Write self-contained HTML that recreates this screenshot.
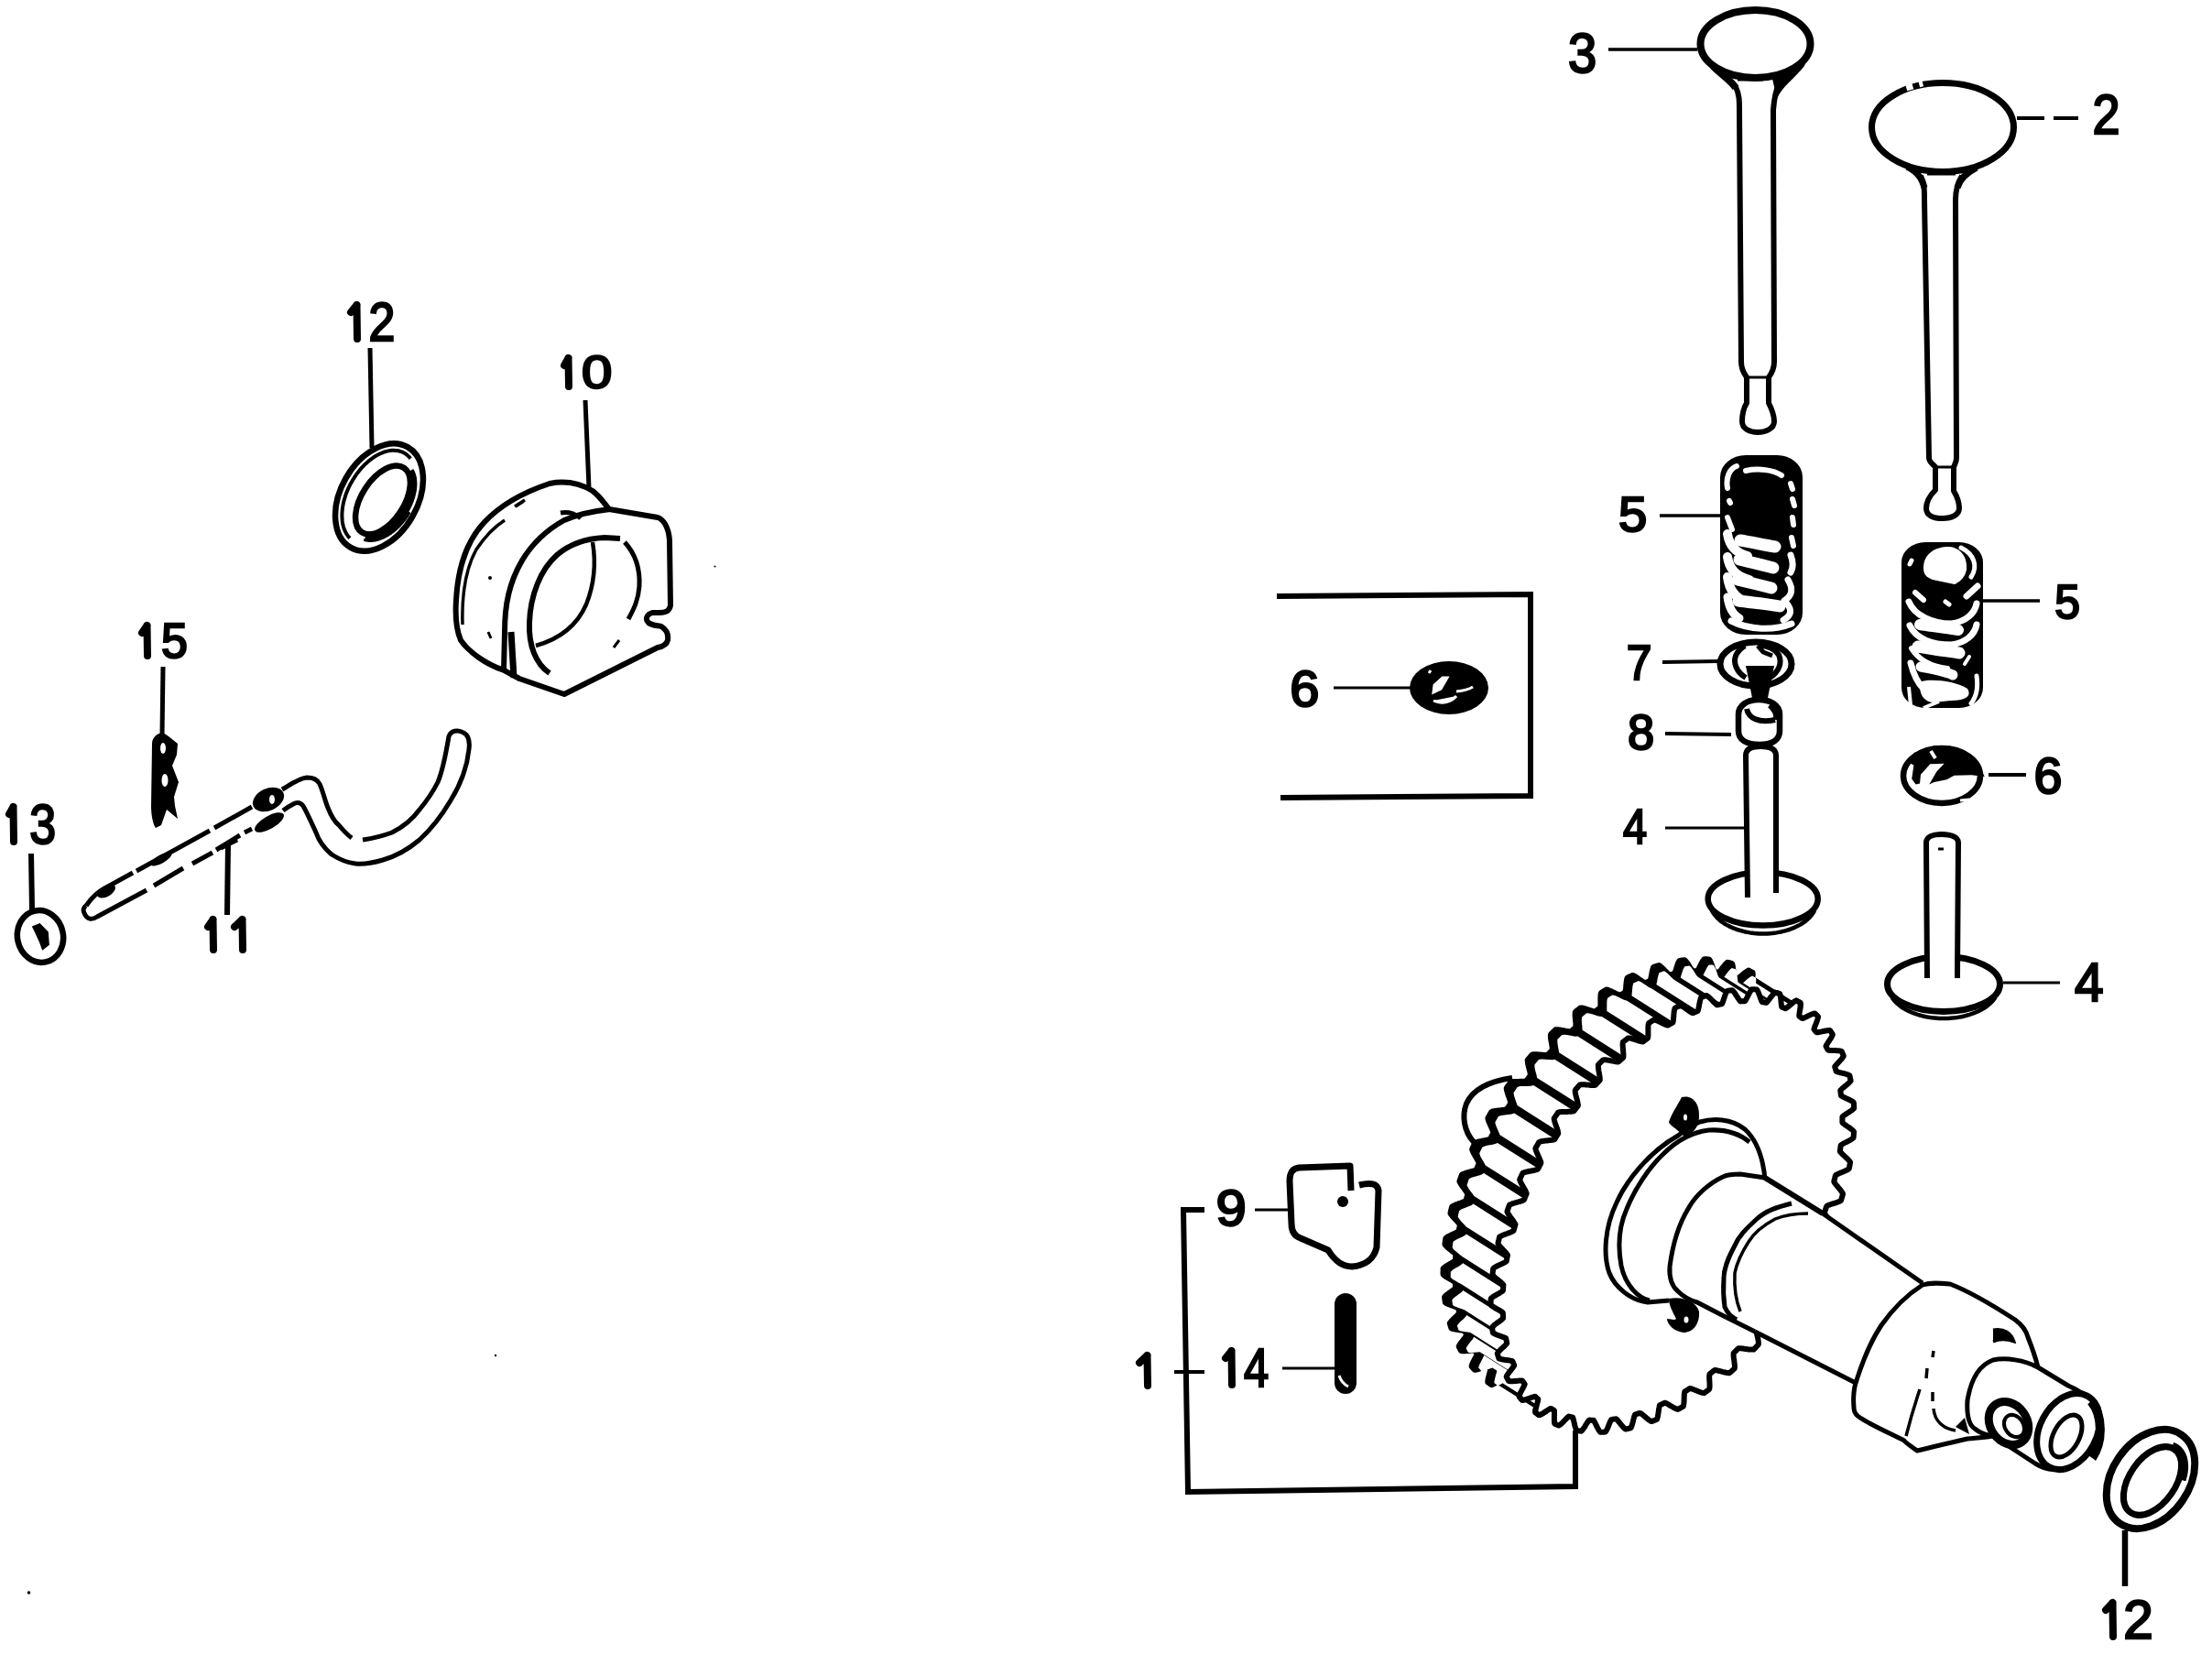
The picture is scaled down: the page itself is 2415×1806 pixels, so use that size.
<!DOCTYPE html>
<html><head><meta charset="utf-8"><style>
html,body{margin:0;padding:0;background:#fff;overflow:hidden}
svg{display:block}
text{font-family:"Liberation Sans",sans-serif;font-weight:normal;fill:#000;stroke:#000;stroke-width:2.4px}
</style></head><body>
<svg width="2415" height="1806" viewBox="0 0 2415 1806">
<rect width="2415" height="1806" fill="#fff"/>
<path d="M1635.3 1508.4 L1634.6 1508.8 L1633.9 1509.3 L1633.3 1509.7 L1632.6 1510.1 L1631.9 1510.5 L1631.3 1510.8 L1630.6 1511.2 L1630.0 1511.5 L1629.4 1511.7 L1628.8 1512.0 L1628.3 1512.1 L1628.0 1511.9 L1627.7 1511.7 L1627.5 1511.5 L1627.2 1511.3 L1626.9 1511.1 L1626.6 1510.9 L1626.3 1510.7 L1626.0 1510.5 L1625.7 1510.2 L1625.5 1510.0 L1625.2 1509.8 L1624.9 1509.6 L1624.6 1509.4 L1624.3 1509.2 L1624.3 1508.7 L1624.3 1508.1 L1624.4 1507.4 L1624.5 1506.7 L1624.6 1506.0 L1624.7 1505.3 L1624.9 1504.6 L1625.1 1503.8 L1625.3 1503.0 L1625.5 1502.2 L1625.7 1501.5 L1625.9 1500.7 L1626.1 1499.9 L1626.3 1499.2 L1626.5 1498.5 L1626.7 1497.8 L1626.9 1497.1 L1627.0 1496.4 L1627.2 1495.8 L1627.3 1495.2 L1627.3 1494.8 L1627.0 1494.5 L1626.8 1494.3 L1626.6 1494.1 L1626.3 1493.9 L1626.1 1493.7 L1625.9 1493.5 L1625.7 1493.3 L1625.4 1493.1 L1625.2 1492.9 L1625.0 1492.7 L1624.7 1492.4 L1624.5 1492.2 L1624.3 1492.0 L1624.1 1491.8 L1623.5 1491.9 L1623.0 1492.0 L1622.4 1492.2 L1621.7 1492.4 L1621.0 1492.6 L1620.3 1492.8 L1619.6 1493.1 L1618.9 1493.4 L1618.1 1493.6 L1617.4 1493.9 L1616.6 1494.1 L1615.9 1494.4 L1615.1 1494.6 L1614.3 1494.9 L1613.6 1495.1 L1612.9 1495.3 L1612.2 1495.4 L1611.5 1495.6 L1610.9 1495.7 L1610.3 1495.7 L1609.8 1495.7 L1609.6 1495.4 L1609.3 1495.1 L1609.1 1494.9 L1608.9 1494.6 L1608.6 1494.3 L1608.4 1494.0 L1608.2 1493.8 L1607.9 1493.5 L1607.7 1493.2 L1607.5 1492.9 L1607.2 1492.7 L1607.0 1492.4 L1606.8 1492.1 L1606.6 1491.8 L1606.7 1491.2 L1606.9 1490.6 L1607.1 1490.0 L1607.4 1489.4 L1607.6 1488.7 L1607.9 1488.0 L1608.3 1487.3 L1608.6 1486.6 L1609.0 1485.9 L1609.4 1485.2 L1609.7 1484.4 L1610.1 1483.7 L1610.5 1483.0 L1610.8 1482.4 L1611.2 1481.7 L1611.5 1481.0 L1611.8 1480.4 L1612.1 1479.8 L1612.3 1479.2 L1612.6 1478.7 L1612.6 1478.3 L1612.4 1478.0 L1612.2 1477.7 L1612.0 1477.5 L1611.8 1477.2 L1611.6 1476.9 L1611.5 1476.6 L1611.3 1476.4 L1611.1 1476.1 L1610.9 1475.8 L1610.7 1475.6 L1610.6 1475.3 L1610.4 1475.0 L1610.2 1474.7 L1610.0 1474.5 L1609.4 1474.5 L1608.8 1474.5 L1608.1 1474.5 L1607.4 1474.5 L1606.7 1474.6 L1605.9 1474.6 L1605.2 1474.7 L1604.4 1474.8 L1603.6 1474.9 L1602.8 1474.9 L1602.0 1475.0 L1601.2 1475.1 L1600.4 1475.1 L1599.6 1475.2 L1598.8 1475.2 L1598.1 1475.2 L1597.4 1475.2 L1596.7 1475.2 L1596.0 1475.1 L1595.4 1475.0 L1595.1 1474.8 L1594.9 1474.4 L1594.7 1474.1 L1594.5 1473.8 L1594.3 1473.5 L1594.2 1473.1 L1594.0 1472.8 L1593.8 1472.5 L1593.6 1472.1 L1593.5 1471.8 L1593.3 1471.5 L1593.1 1471.1 L1592.9 1470.8 L1592.8 1470.4 L1592.7 1470.0 L1593.0 1469.5 L1593.3 1468.9 L1593.6 1468.3 L1594.0 1467.7 L1594.4 1467.1 L1594.8 1466.5 L1595.3 1465.8 L1595.8 1465.2 L1596.3 1464.6 L1596.8 1463.9 L1597.3 1463.3 L1597.8 1462.7 L1598.3 1462.0 L1598.8 1461.4 L1599.3 1460.8 L1599.7 1460.2 L1600.1 1459.6 L1600.5 1459.1 L1600.8 1458.6 L1601.1 1458.0 L1601.1 1457.7 L1601.0 1457.3 L1600.8 1457.0 L1600.7 1456.7 L1600.6 1456.4 L1600.4 1456.1 L1600.3 1455.7 L1600.2 1455.4 L1600.0 1455.1 L1599.9 1454.7 L1599.8 1454.4 L1599.6 1454.1 L1599.5 1453.8 L1599.4 1453.4 L1599.1 1453.2 L1598.5 1453.0 L1597.9 1452.9 L1597.2 1452.7 L1596.5 1452.6 L1595.8 1452.5 L1595.0 1452.4 L1594.2 1452.3 L1593.4 1452.2 L1592.6 1452.1 L1591.8 1451.9 L1591.0 1451.8 L1590.2 1451.7 L1589.4 1451.6 L1588.6 1451.4 L1587.8 1451.3 L1587.1 1451.1 L1586.4 1451.0 L1585.8 1450.8 L1585.1 1450.6 L1584.6 1450.3 L1584.4 1450.0 L1584.2 1449.6 L1584.1 1449.2 L1584.0 1448.8 L1583.9 1448.4 L1583.7 1448.1 L1583.6 1447.7 L1583.5 1447.3 L1583.4 1446.9 L1583.3 1446.5 L1583.2 1446.1 L1583.0 1445.8 L1582.9 1445.4 L1582.8 1445.0 L1582.9 1444.5 L1583.3 1444.0 L1583.7 1443.5 L1584.2 1442.9 L1584.6 1442.4 L1585.2 1441.8 L1585.7 1441.3 L1586.3 1440.7 L1586.9 1440.1 L1587.5 1439.6 L1588.1 1439.0 L1588.7 1438.4 L1589.3 1437.9 L1589.9 1437.3 L1590.5 1436.8 L1591.0 1436.2 L1591.5 1435.7 L1592.0 1435.2 L1592.5 1434.7 L1592.9 1434.2 L1593.3 1433.7 L1593.2 1433.4 L1593.1 1433.0 L1593.1 1432.6 L1593.0 1432.2 L1592.9 1431.9 L1592.8 1431.5 L1592.7 1431.1 L1592.6 1430.7 L1592.6 1430.4 L1592.5 1430.0 L1592.4 1429.6 L1592.3 1429.2 L1592.2 1428.8 L1592.2 1428.5 L1591.8 1428.1 L1591.2 1427.8 L1590.6 1427.6 L1590.0 1427.3 L1589.3 1427.0 L1588.6 1426.7 L1587.9 1426.5 L1587.1 1426.2 L1586.3 1425.9 L1585.5 1425.7 L1584.7 1425.4 L1583.9 1425.1 L1583.2 1424.8 L1582.4 1424.5 L1581.6 1424.2 L1580.9 1423.9 L1580.2 1423.6 L1579.6 1423.3 L1579.0 1423.0 L1578.4 1422.6 L1577.9 1422.3 L1577.8 1421.9 L1577.8 1421.4 L1577.7 1421.0 L1577.6 1420.6 L1577.6 1420.2 L1577.5 1419.7 L1577.5 1419.3 L1577.4 1418.9 L1577.4 1418.5 L1577.3 1418.0 L1577.2 1417.6 L1577.2 1417.2 L1577.1 1416.7 L1577.1 1416.3 L1577.4 1415.8 L1577.8 1415.4 L1578.3 1414.9 L1578.9 1414.4 L1579.4 1413.9 L1580.0 1413.4 L1580.7 1412.9 L1581.3 1412.4 L1582.0 1411.9 L1582.7 1411.4 L1583.4 1410.9 L1584.1 1410.4 L1584.7 1409.9 L1585.4 1409.4 L1586.0 1409.0 L1586.7 1408.5 L1587.3 1408.0 L1587.8 1407.6 L1588.3 1407.1 L1588.8 1406.6 L1589.2 1406.2 L1589.1 1405.8 L1589.1 1405.4 L1589.1 1405.0 L1589.0 1404.5 L1589.0 1404.1 L1589.0 1403.7 L1589.0 1403.3 L1588.9 1402.9 L1588.9 1402.5 L1588.9 1402.0 L1588.9 1401.6 L1588.8 1401.2 L1588.8 1400.8 L1588.8 1400.4 L1588.4 1400.0 L1587.8 1399.6 L1587.3 1399.2 L1586.7 1398.7 L1586.0 1398.3 L1585.3 1397.9 L1584.6 1397.5 L1583.9 1397.1 L1583.2 1396.7 L1582.5 1396.3 L1581.7 1395.9 L1581.0 1395.4 L1580.2 1395.0 L1579.5 1394.6 L1578.8 1394.2 L1578.2 1393.7 L1577.5 1393.3 L1576.9 1392.8 L1576.4 1392.4 L1575.9 1391.9 L1575.6 1391.5 L1575.6 1391.0 L1575.5 1390.6 L1575.5 1390.1 L1575.5 1389.7 L1575.5 1389.2 L1575.6 1388.7 L1575.6 1388.3 L1575.6 1387.8 L1575.6 1387.4 L1575.6 1386.9 L1575.6 1386.4 L1575.6 1386.0 L1575.6 1385.5 L1575.6 1385.1 L1576.1 1384.6 L1576.6 1384.2 L1577.2 1383.7 L1577.8 1383.3 L1578.4 1382.8 L1579.1 1382.4 L1579.8 1382.0 L1580.5 1381.5 L1581.3 1381.1 L1582.0 1380.7 L1582.7 1380.2 L1583.5 1379.8 L1584.2 1379.4 L1584.9 1379.0 L1585.6 1378.5 L1586.3 1378.1 L1587.0 1377.7 L1587.6 1377.3 L1588.1 1376.9 L1588.7 1376.5 L1589.0 1376.0 L1589.0 1375.6 L1589.0 1375.1 L1589.0 1374.7 L1589.1 1374.2 L1589.1 1373.8 L1589.1 1373.3 L1589.2 1372.9 L1589.2 1372.4 L1589.2 1372.0 L1589.3 1371.5 L1589.3 1371.1 L1589.3 1370.6 L1589.4 1370.2 L1589.4 1369.7 L1588.9 1369.2 L1588.4 1368.7 L1587.9 1368.2 L1587.4 1367.7 L1586.8 1367.2 L1586.2 1366.7 L1585.5 1366.2 L1584.8 1365.6 L1584.2 1365.1 L1583.5 1364.6 L1582.8 1364.0 L1582.1 1363.5 L1581.5 1362.9 L1580.8 1362.4 L1580.2 1361.8 L1579.6 1361.3 L1579.0 1360.7 L1578.5 1360.2 L1578.0 1359.7 L1577.6 1359.1 L1577.5 1358.6 L1577.5 1358.1 L1577.6 1357.7 L1577.6 1357.2 L1577.7 1356.7 L1577.8 1356.2 L1577.8 1355.7 L1577.9 1355.2 L1577.9 1354.8 L1578.0 1354.3 L1578.1 1353.8 L1578.1 1353.3 L1578.2 1352.8 L1578.3 1352.3 L1578.4 1351.9 L1579.0 1351.5 L1579.6 1351.0 L1580.2 1350.6 L1580.9 1350.3 L1581.6 1349.9 L1582.3 1349.5 L1583.1 1349.1 L1583.8 1348.7 L1584.6 1348.4 L1585.4 1348.0 L1586.2 1347.6 L1587.0 1347.3 L1587.8 1346.9 L1588.6 1346.6 L1589.3 1346.2 L1590.0 1345.8 L1590.7 1345.5 L1591.4 1345.1 L1592.0 1344.7 L1592.5 1344.3 L1592.8 1343.9 L1592.9 1343.4 L1592.9 1342.9 L1593.0 1342.5 L1593.1 1342.0 L1593.2 1341.5 L1593.3 1341.1 L1593.4 1340.6 L1593.5 1340.1 L1593.6 1339.6 L1593.6 1339.2 L1593.7 1338.7 L1593.8 1338.2 L1593.9 1337.8 L1593.9 1337.3 L1593.5 1336.7 L1593.1 1336.1 L1592.6 1335.5 L1592.1 1334.9 L1591.6 1334.3 L1591.0 1333.7 L1590.4 1333.1 L1589.8 1332.4 L1589.2 1331.8 L1588.6 1331.2 L1588.0 1330.5 L1587.4 1329.9 L1586.8 1329.2 L1586.2 1328.6 L1585.7 1328.0 L1585.2 1327.3 L1584.7 1326.7 L1584.3 1326.1 L1583.9 1325.5 L1583.5 1324.9 L1583.5 1324.3 L1583.6 1323.9 L1583.7 1323.4 L1583.9 1322.9 L1584.0 1322.4 L1584.1 1321.9 L1584.2 1321.4 L1584.3 1320.9 L1584.5 1320.4 L1584.6 1319.9 L1584.7 1319.4 L1584.8 1318.9 L1585.0 1318.4 L1585.1 1317.9 L1585.4 1317.4 L1586.0 1317.1 L1586.6 1316.7 L1587.3 1316.3 L1588.1 1316.0 L1588.8 1315.7 L1589.6 1315.3 L1590.4 1315.0 L1591.2 1314.7 L1592.1 1314.4 L1592.9 1314.1 L1593.7 1313.8 L1594.6 1313.5 L1595.4 1313.2 L1596.2 1312.9 L1597.0 1312.6 L1597.7 1312.3 L1598.4 1312.0 L1599.1 1311.7 L1599.8 1311.3 L1600.3 1311.0 L1600.5 1310.5 L1600.7 1310.0 L1600.8 1309.5 L1601.0 1309.0 L1601.1 1308.6 L1601.3 1308.1 L1601.4 1307.6 L1601.5 1307.1 L1601.7 1306.6 L1601.8 1306.1 L1602.0 1305.7 L1602.1 1305.2 L1602.3 1304.7 L1602.4 1304.2 L1602.3 1303.7 L1602.0 1303.0 L1601.6 1302.4 L1601.2 1301.7 L1600.8 1301.0 L1600.3 1300.4 L1599.8 1299.7 L1599.3 1299.0 L1598.8 1298.3 L1598.3 1297.5 L1597.7 1296.8 L1597.2 1296.1 L1596.7 1295.4 L1596.2 1294.7 L1595.7 1294.0 L1595.2 1293.3 L1594.8 1292.6 L1594.4 1291.9 L1594.0 1291.2 L1593.7 1290.5 L1593.4 1289.9 L1593.6 1289.4 L1593.7 1288.9 L1593.9 1288.4 L1594.1 1287.9 L1594.3 1287.4 L1594.4 1286.9 L1594.6 1286.4 L1594.8 1285.9 L1595.0 1285.4 L1595.1 1284.8 L1595.3 1284.3 L1595.5 1283.8 L1595.7 1283.3 L1595.9 1282.8 L1596.3 1282.4 L1597.0 1282.1 L1597.7 1281.8 L1598.4 1281.5 L1599.2 1281.2 L1600.0 1281.0 L1600.8 1280.7 L1601.7 1280.4 L1602.5 1280.2 L1603.4 1280.0 L1604.3 1279.7 L1605.1 1279.5 L1606.0 1279.3 L1606.8 1279.0 L1607.7 1278.8 L1608.5 1278.5 L1609.2 1278.3 L1610.0 1278.0 L1610.7 1277.7 L1611.4 1277.4 L1611.9 1277.1 L1612.1 1276.6 L1612.3 1276.1 L1612.5 1275.6 L1612.7 1275.2 L1612.9 1274.7 L1613.1 1274.2 L1613.3 1273.7 L1613.5 1273.2 L1613.7 1272.7 L1613.9 1272.3 L1614.1 1271.8 L1614.3 1271.3 L1614.5 1270.8 L1614.7 1270.3 L1614.5 1269.7 L1614.3 1269.0 L1614.0 1268.3 L1613.6 1267.6 L1613.3 1266.9 L1612.9 1266.1 L1612.4 1265.4 L1612.0 1264.6 L1611.6 1263.8 L1611.1 1263.1 L1610.6 1262.3 L1610.2 1261.5 L1609.7 1260.7 L1609.3 1260.0 L1608.9 1259.2 L1608.5 1258.4 L1608.2 1257.7 L1607.8 1256.9 L1607.6 1256.2 L1607.3 1255.5 L1607.2 1254.9 L1607.4 1254.4 L1607.6 1253.9 L1607.9 1253.4 L1608.1 1252.9 L1608.3 1252.4 L1608.5 1251.9 L1608.8 1251.4 L1609.0 1250.9 L1609.2 1250.4 L1609.5 1249.9 L1609.7 1249.4 L1609.9 1248.9 L1610.2 1248.4 L1610.4 1247.9 L1611.0 1247.6 L1611.7 1247.4 L1612.4 1247.1 L1613.2 1246.9 L1614.0 1246.7 L1614.8 1246.4 L1615.7 1246.3 L1616.6 1246.1 L1617.5 1245.9 L1618.3 1245.7 L1619.2 1245.6 L1620.1 1245.4 L1621.0 1245.2 L1621.9 1245.1 L1622.7 1244.9 L1623.5 1244.7 L1624.3 1244.5 L1625.1 1244.3 L1625.8 1244.1 L1626.5 1243.8 L1627.0 1243.5 L1627.3 1243.0 L1627.5 1242.5 L1627.8 1242.0 L1628.0 1241.6 L1628.2 1241.1 L1628.5 1240.6 L1628.7 1240.2 L1629.0 1239.7 L1629.2 1239.2 L1629.5 1238.7 L1629.7 1238.3 L1630.0 1237.8 L1630.2 1237.3 L1630.4 1236.8 L1630.3 1236.1 L1630.1 1235.4 L1629.8 1234.7 L1629.6 1233.9 L1629.2 1233.2 L1628.9 1232.4 L1628.6 1231.6 L1628.2 1230.8 L1627.8 1230.0 L1627.4 1229.1 L1627.1 1228.3 L1626.7 1227.5 L1626.3 1226.7 L1626.0 1225.8 L1625.6 1225.0 L1625.3 1224.2 L1625.0 1223.5 L1624.8 1222.7 L1624.6 1221.9 L1624.4 1221.2 L1624.5 1220.6 L1624.8 1220.1 L1625.0 1219.7 L1625.3 1219.2 L1625.6 1218.7 L1625.8 1218.2 L1626.1 1217.7 L1626.4 1217.3 L1626.7 1216.8 L1626.9 1216.3 L1627.2 1215.8 L1627.5 1215.3 L1627.8 1214.9 L1628.1 1214.4 L1628.4 1214.0 L1629.1 1213.7 L1629.8 1213.5 L1630.6 1213.3 L1631.4 1213.1 L1632.2 1213.0 L1633.1 1212.9 L1633.9 1212.8 L1634.8 1212.7 L1635.7 1212.6 L1636.6 1212.5 L1637.5 1212.4 L1638.4 1212.3 L1639.3 1212.2 L1640.2 1212.1 L1641.1 1212.0 L1641.9 1211.9 L1642.7 1211.7 L1643.5 1211.6 L1644.2 1211.4 L1644.9 1211.2 L1645.4 1210.8 L1645.7 1210.4 L1645.9 1209.9 L1646.2 1209.5 L1646.5 1209.0 L1646.8 1208.6 L1647.1 1208.1 L1647.4 1207.7 L1647.7 1207.2 L1647.9 1206.8 L1648.2 1206.3 L1648.5 1205.9 L1648.8 1205.4 L1649.1 1205.0 L1649.3 1204.4 L1649.2 1203.7 L1649.0 1203.0 L1648.8 1202.2 L1648.6 1201.5 L1648.4 1200.6 L1648.1 1199.8 L1647.8 1199.0 L1647.5 1198.1 L1647.2 1197.3 L1646.9 1196.4 L1646.6 1195.6 L1646.3 1194.7 L1646.0 1193.9 L1645.8 1193.0 L1645.5 1192.2 L1645.3 1191.4 L1645.1 1190.6 L1644.9 1189.8 L1644.8 1189.1 L1644.7 1188.3 L1644.9 1187.8 L1645.2 1187.3 L1645.5 1186.9 L1645.8 1186.4 L1646.2 1186.0 L1646.5 1185.5 L1646.8 1185.1 L1647.1 1184.6 L1647.4 1184.2 L1647.7 1183.7 L1648.0 1183.3 L1648.4 1182.8 L1648.7 1182.4 L1649.0 1181.9 L1649.5 1181.6 L1650.2 1181.4 L1650.9 1181.2 L1651.7 1181.1 L1652.5 1181.0 L1653.4 1181.0 L1654.2 1180.9 L1655.1 1180.9 L1656.0 1180.9 L1656.9 1180.9 L1657.8 1180.9 L1658.7 1180.9 L1659.7 1180.8 L1660.5 1180.8 L1661.4 1180.8 L1662.3 1180.8 L1663.1 1180.7 L1663.9 1180.7 L1664.7 1180.6 L1665.4 1180.5 L1666.1 1180.3 L1666.5 1179.9 L1666.9 1179.5 L1667.2 1179.1 L1667.5 1178.7 L1667.8 1178.2 L1668.1 1177.8 L1668.5 1177.4 L1668.8 1177.0 L1669.1 1176.6 L1669.4 1176.1 L1669.8 1175.7 L1670.1 1175.3 L1670.4 1174.9 L1670.7 1174.5 L1670.9 1173.9 L1670.8 1173.2 L1670.7 1172.4 L1670.6 1171.6 L1670.5 1170.8 L1670.3 1170.0 L1670.1 1169.2 L1669.9 1168.3 L1669.6 1167.5 L1669.4 1166.6 L1669.2 1165.7 L1668.9 1164.8 L1668.7 1164.0 L1668.5 1163.1 L1668.3 1162.2 L1668.1 1161.4 L1668.0 1160.6 L1667.9 1159.8 L1667.8 1159.0 L1667.7 1158.2 L1667.7 1157.5 L1668.0 1157.1 L1668.4 1156.7 L1668.7 1156.2 L1669.1 1155.8 L1669.4 1155.4 L1669.8 1155.0 L1670.1 1154.6 L1670.5 1154.1 L1670.8 1153.7 L1671.2 1153.3 L1671.5 1152.9 L1671.9 1152.5 L1672.2 1152.1 L1672.6 1151.7 L1673.1 1151.4 L1673.9 1151.3 L1674.6 1151.3 L1675.4 1151.3 L1676.2 1151.3 L1677.1 1151.3 L1678.0 1151.3 L1678.8 1151.4 L1679.7 1151.4 L1680.6 1151.5 L1681.5 1151.6 L1682.4 1151.7 L1683.3 1151.8 L1684.2 1151.8 L1685.1 1151.9 L1685.9 1151.9 L1686.7 1152.0 L1687.5 1152.0 L1688.3 1152.0 L1689.0 1151.9 L1689.7 1151.8 L1690.1 1151.4 L1690.4 1151.1 L1690.8 1150.7 L1691.1 1150.3 L1691.5 1149.9 L1691.8 1149.5 L1692.2 1149.1 L1692.5 1148.8 L1692.9 1148.4 L1693.2 1148.0 L1693.6 1147.6 L1694.0 1147.2 L1694.3 1146.9 L1694.7 1146.5 L1694.8 1145.9 L1694.8 1145.1 L1694.7 1144.4 L1694.7 1143.6 L1694.6 1142.8 L1694.4 1142.0 L1694.3 1141.1 L1694.2 1140.3 L1694.0 1139.4 L1693.9 1138.5 L1693.7 1137.6 L1693.5 1136.7 L1693.4 1135.8 L1693.2 1135.0 L1693.1 1134.1 L1693.0 1133.3 L1692.9 1132.5 L1692.9 1131.7 L1692.9 1130.9 L1692.9 1130.2 L1693.0 1129.5 L1693.4 1129.1 L1693.7 1128.7 L1694.1 1128.4 L1694.5 1128.0 L1694.9 1127.6 L1695.2 1127.2 L1695.6 1126.9 L1696.0 1126.5 L1696.4 1126.1 L1696.7 1125.8 L1697.1 1125.4 L1697.5 1125.0 L1697.9 1124.7 L1698.3 1124.3 L1698.9 1124.2 L1699.6 1124.2 L1700.4 1124.2 L1701.2 1124.3 L1702.0 1124.4 L1702.8 1124.5 L1703.7 1124.6 L1704.6 1124.8 L1705.4 1125.0 L1706.3 1125.1 L1707.2 1125.3 L1708.1 1125.5 L1708.9 1125.7 L1709.8 1125.8 L1710.6 1126.0 L1711.4 1126.1 L1712.2 1126.2 L1713.0 1126.3 L1713.8 1126.4 L1714.5 1126.4 L1715.1 1126.3 L1715.4 1126.0 L1715.8 1125.6 L1716.2 1125.3 L1716.6 1125.0 L1716.9 1124.6 L1717.3 1124.3 L1717.7 1124.0 L1718.1 1123.6 L1718.4 1123.3 L1718.8 1123.0 L1719.2 1122.6 L1719.6 1122.3 L1719.9 1122.0 L1720.3 1121.6 L1720.4 1121.0 L1720.4 1120.3 L1720.5 1119.5 L1720.4 1118.7 L1720.4 1117.9 L1720.4 1117.1 L1720.3 1116.2 L1720.2 1115.4 L1720.1 1114.5 L1720.0 1113.6 L1719.9 1112.7 L1719.9 1111.8 L1719.8 1111.0 L1719.7 1110.1 L1719.7 1109.3 L1719.6 1108.4 L1719.6 1107.6 L1719.7 1106.8 L1719.7 1106.1 L1719.8 1105.4 L1720.0 1104.8 L1720.4 1104.5 L1720.8 1104.2 L1721.2 1103.9 L1721.6 1103.5 L1722.0 1103.2 L1722.4 1102.9 L1722.8 1102.6 L1723.2 1102.3 L1723.6 1101.9 L1724.0 1101.6 L1724.4 1101.3 L1724.8 1101.0 L1725.2 1100.7 L1725.6 1100.4 L1726.3 1100.4 L1727.0 1100.5 L1727.7 1100.7 L1728.5 1100.8 L1729.3 1101.0 L1730.1 1101.2 L1730.9 1101.5 L1731.7 1101.7 L1732.6 1102.0 L1733.4 1102.3 L1734.2 1102.6 L1735.1 1102.8 L1735.9 1103.1 L1736.7 1103.4 L1737.5 1103.6 L1738.3 1103.9 L1739.1 1104.1 L1739.8 1104.2 L1740.5 1104.4 L1741.2 1104.5 L1741.7 1104.4 L1742.1 1104.1 L1742.5 1103.8 L1742.9 1103.5 L1743.2 1103.2 L1743.6 1103.0 L1744.0 1102.7 L1744.4 1102.4 L1744.8 1102.1 L1745.2 1101.8 L1745.6 1101.6 L1746.0 1101.3 L1746.4 1101.0 L1746.7 1100.7 L1747.1 1100.4 L1747.2 1099.7 L1747.3 1099.0 L1747.4 1098.3 L1747.4 1097.5 L1747.4 1096.7 L1747.4 1095.9 L1747.4 1095.1 L1747.4 1094.2 L1747.4 1093.3 L1747.4 1092.5 L1747.4 1091.6 L1747.4 1090.7 L1747.4 1089.9 L1747.4 1089.0 L1747.4 1088.2 L1747.5 1087.4 L1747.5 1086.6 L1747.6 1085.8 L1747.7 1085.1 L1747.9 1084.5 L1748.2 1084.0 L1748.6 1083.8 L1749.0 1083.5 L1749.4 1083.2 L1749.8 1083.0 L1750.2 1082.7 L1750.6 1082.4 L1751.0 1082.2 L1751.5 1081.9 L1751.9 1081.7 L1752.3 1081.4 L1752.7 1081.1 L1753.1 1080.9 L1753.5 1080.6 L1754.0 1080.5 L1754.6 1080.7 L1755.3 1080.8 L1756.0 1081.1 L1756.8 1081.4 L1757.5 1081.7 L1758.3 1082.0 L1759.0 1082.3 L1759.8 1082.7 L1760.6 1083.1 L1761.4 1083.5 L1762.1 1083.8 L1762.9 1084.2 L1763.7 1084.6 L1764.4 1085.0 L1765.2 1085.3 L1765.9 1085.6 L1766.6 1085.9 L1767.3 1086.2 L1767.9 1086.4 L1768.5 1086.6 L1769.0 1086.5 L1769.4 1086.3 L1769.8 1086.1 L1770.2 1085.8 L1770.6 1085.6 L1771.0 1085.4 L1771.4 1085.2 L1771.7 1085.0 L1772.1 1084.7 L1772.5 1084.5 L1772.9 1084.3 L1773.3 1084.1 L1773.7 1083.9 L1774.1 1083.7 L1774.4 1083.3 L1774.6 1082.6 L1774.7 1082.0 L1774.8 1081.2 L1774.9 1080.5 L1775.0 1079.7 L1775.1 1078.9 L1775.2 1078.1 L1775.2 1077.2 L1775.3 1076.4 L1775.4 1075.5 L1775.4 1074.7 L1775.5 1073.8 L1775.6 1073.0 L1775.7 1072.1 L1775.8 1071.3 L1775.9 1070.6 L1776.0 1069.8 L1776.2 1069.1 L1776.4 1068.4 L1776.6 1067.8 L1777.0 1067.5 L1777.4 1067.3 L1777.8 1067.1 L1778.2 1066.9 L1778.6 1066.7 L1779.0 1066.5 L1779.4 1066.3 L1779.9 1066.1 L1780.3 1065.9 L1780.7 1065.8 L1781.1 1065.6 L1781.5 1065.4 L1781.9 1065.2 L1782.3 1065.0 L1782.8 1065.0 L1783.5 1065.3 L1784.1 1065.6 L1784.7 1065.9 L1785.4 1066.3 L1786.1 1066.7 L1786.8 1067.1 L1787.5 1067.6 L1788.2 1068.1 L1788.8 1068.6 L1789.5 1069.1 L1790.2 1069.6 L1790.9 1070.1 L1791.6 1070.5 L1792.3 1071.0 L1792.9 1071.4 L1793.6 1071.9 L1794.2 1072.3 L1794.8 1072.6 L1795.4 1072.9 L1795.9 1073.2 L1796.3 1073.1 L1796.7 1072.9 L1797.1 1072.7 L1797.5 1072.6 L1797.9 1072.4 L1798.3 1072.3 L1798.7 1072.1 L1799.1 1072.0 L1799.4 1071.8 L1799.8 1071.7 L1800.2 1071.5 L1800.6 1071.4 L1801.0 1071.2 L1801.4 1071.1 L1801.6 1070.6 L1801.9 1070.0 L1802.1 1069.4 L1802.2 1068.7 L1802.4 1068.0 L1802.6 1067.2 L1802.7 1066.4 L1802.9 1065.6 L1803.0 1064.8 L1803.2 1064.0 L1803.4 1063.1 L1803.5 1062.3 L1803.7 1061.5 L1803.8 1060.7 L1804.0 1059.9 L1804.2 1059.1 L1804.4 1058.4 L1804.6 1057.7 L1804.9 1057.0 L1805.1 1056.4 L1805.4 1055.9 L1805.8 1055.7 L1806.2 1055.6 L1806.6 1055.5 L1807.0 1055.3 L1807.4 1055.2 L1807.8 1055.1 L1808.2 1054.9 L1808.6 1054.8 L1809.0 1054.7 L1809.5 1054.6 L1809.9 1054.4 L1810.3 1054.3 L1810.7 1054.2 L1811.1 1054.1 L1811.6 1054.3 L1812.1 1054.6 L1812.7 1055.1 L1813.3 1055.5 L1813.8 1056.0 L1814.4 1056.5 L1815.0 1057.1 L1815.6 1057.6 L1816.2 1058.2 L1816.8 1058.8 L1817.3 1059.4 L1817.9 1060.0 L1818.5 1060.6 L1819.1 1061.2 L1819.6 1061.7 L1820.2 1062.3 L1820.7 1062.8 L1821.2 1063.3 L1821.7 1063.7 L1822.2 1064.1 L1822.7 1064.4 L1823.1 1064.3 L1823.5 1064.2 L1823.8 1064.1 L1824.2 1064.0 L1824.6 1063.9 L1825.0 1063.9 L1825.3 1063.8 L1825.7 1063.7 L1826.1 1063.6 L1826.4 1063.5 L1826.8 1063.4 L1827.2 1063.4 L1827.6 1063.3 L1827.9 1063.2 L1828.2 1062.7 L1828.5 1062.1 L1828.8 1061.5 L1829.0 1060.9 L1829.3 1060.2 L1829.5 1059.4 L1829.8 1058.7 L1830.0 1057.9 L1830.3 1057.2 L1830.5 1056.4 L1830.8 1055.6 L1831.0 1054.8 L1831.3 1054.0 L1831.5 1053.3 L1831.8 1052.5 L1832.1 1051.8 L1832.4 1051.1 L1832.7 1050.5 L1833.0 1049.9 L1833.3 1049.3 L1833.7 1048.9 L1834.1 1048.9 L1834.4 1048.8 L1834.8 1048.8 L1835.2 1048.7 L1835.6 1048.6 L1836.0 1048.6 L1836.4 1048.5 L1836.8 1048.5 L1837.2 1048.4 L1837.6 1048.4 L1838.0 1048.3 L1838.4 1048.3 L1838.8 1048.2 L1839.2 1048.2 L1839.6 1048.6 L1840.1 1049.0 L1840.6 1049.6 L1841.0 1050.1 L1841.5 1050.7 L1841.9 1051.3 L1842.4 1052.0 L1842.8 1052.6 L1843.3 1053.3 L1843.7 1054.0 L1844.2 1054.7 L1844.6 1055.4 L1845.0 1056.1 L1845.4 1056.7 L1845.9 1057.4 L1846.3 1058.0 L1846.7 1058.6 L1847.1 1059.2 L1847.5 1059.7 L1847.9 1060.1 L1848.2 1060.4 L1848.6 1060.4 L1849.0 1060.3 L1849.3 1060.3 L1849.7 1060.3 L1850.0 1060.3 L1850.4 1060.3 L1850.7 1060.2 L1851.1 1060.2 L1851.4 1060.2 L1851.8 1060.2 L1852.1 1060.2 L1852.5 1060.2 L1852.8 1060.2 L1853.2 1060.1 L1853.5 1059.6 L1853.8 1059.1 L1854.2 1058.5 L1854.5 1057.9 L1854.9 1057.3 L1855.2 1056.6 L1855.6 1055.9 L1855.9 1055.2 L1856.3 1054.5 L1856.6 1053.7 L1857.0 1053.0 L1857.4 1052.3 L1857.8 1051.6 L1858.1 1050.9 L1858.5 1050.2 L1858.9 1049.6 L1859.3 1049.0 L1859.7 1048.4 L1860.1 1047.9 L1860.5 1047.4 L1860.8 1047.2 L1861.2 1047.2 L1861.6 1047.2 L1862.0 1047.2 L1862.3 1047.3 L1862.7 1047.3 L1863.1 1047.3 L1863.5 1047.3 L1863.8 1047.3 L1864.2 1047.4 L1864.6 1047.4 L1865.0 1047.4 L1865.3 1047.4 L1865.7 1047.5 L1866.1 1047.6 L1866.4 1048.1 L1866.7 1048.7 L1867.1 1049.2 L1867.4 1049.9 L1867.7 1050.6 L1868.0 1051.3 L1868.3 1052.0 L1868.6 1052.7 L1868.8 1053.5 L1869.1 1054.2 L1869.4 1055.0 L1869.6 1055.8 L1869.9 1056.5 L1870.2 1057.2 L1870.4 1058.0 L1870.7 1058.6 L1870.9 1059.3 L1871.2 1059.9 L1871.5 1060.5 L1871.7 1061.0 L1872.0 1061.2 L1872.3 1061.2 L1872.7 1061.3 L1873.0 1061.3 L1873.3 1061.4 L1873.6 1061.4 L1874.0 1061.5 L1874.3 1061.5 L1874.6 1061.6 L1874.9 1061.6 L1875.2 1061.7 L1875.6 1061.8 L1875.9 1061.8 L1876.2 1061.9 L1876.5 1061.8 L1877.0 1061.4 L1877.4 1060.9 L1877.8 1060.4 L1878.2 1059.9 L1878.7 1059.3 L1879.2 1058.7 L1879.6 1058.1 L1880.1 1057.5 L1880.6 1056.8 L1881.1 1056.2 L1881.6 1055.5 L1882.1 1054.9 L1882.6 1054.3 L1883.1 1053.7 L1883.5 1053.1 L1884.0 1052.6 L1884.5 1052.1 L1885.0 1051.6 L1885.5 1051.2 L1885.9 1050.8 L1886.3 1050.8 L1886.7 1050.9 L1887.0 1051.0 L1887.4 1051.1 L1887.7 1051.2 L1888.1 1051.2 L1888.4 1051.3 L1888.8 1051.4 L1889.1 1051.5 L1889.4 1051.6 L1889.8 1051.7 L1890.1 1051.8 L1890.5 1051.9 L1890.8 1052.0 L1891.1 1052.3 L1891.3 1052.9 L1891.5 1053.5 L1891.6 1054.2 L1891.8 1054.9 L1891.9 1055.6 L1892.0 1056.4 L1892.1 1057.1 L1892.2 1057.9 L1892.3 1058.7 L1892.4 1059.5 L1892.5 1060.3 L1892.6 1061.1 L1892.6 1061.9 L1892.7 1062.6 L1892.8 1063.4 L1892.9 1064.1 L1893.0 1064.8 L1893.1 1065.4 L1893.2 1066.0 L1893.3 1066.6 L1893.6 1066.7 L1893.8 1066.8 L1894.1 1066.9 L1894.4 1067.1 L1894.7 1067.2 L1895.0 1067.3 L1895.3 1067.4 L1895.6 1067.5 L1895.9 1067.6 L1896.1 1067.8 L1896.4 1067.9 L1896.7 1068.0 L1897.0 1068.1 L1897.3 1068.2 L1897.7 1068.1 L1898.2 1067.8 L1898.7 1067.4 L1899.2 1067.0 L1899.7 1066.6 L1900.3 1066.1 L1900.9 1065.7 L1901.5 1065.2 L1902.1 1064.6 L1902.7 1064.1 L1903.3 1063.6 L1903.9 1063.1 L1904.5 1062.6 L1905.1 1062.1 L1905.7 1061.7 L1906.3 1061.2 L1906.9 1060.8 L1907.5 1060.4 L1908.1 1060.1 L1908.6 1059.8 L1909.2 1059.5 L1909.5 1059.7 L1909.8 1059.9 L1910.1 1060.0 L1910.4 1060.2 L1910.7 1060.4 L1911.0 1060.5 L1911.3 1060.7 L1911.6 1060.9 L1911.9 1061.1 L1912.2 1061.2 L1912.5 1061.4 L1912.9 1061.6 L1913.2 1061.8 L1913.5 1061.9 L1913.6 1062.4 L1913.6 1063.0 L1913.7 1063.6 L1913.7 1064.3 L1913.6 1065.0 L1913.6 1065.8 L1913.5 1066.5 L1913.4 1067.3 L1913.3 1068.1 L1913.2 1068.9 L1965.2 1101.9 L1965.3 1101.1 L1965.4 1100.3 L1965.5 1099.5 L1965.6 1098.8 L1965.6 1098.0 L1965.7 1097.3 L1965.7 1096.6 L1965.6 1096.0 L1965.6 1095.4 L1965.5 1094.9 L1965.2 1094.8 L1964.9 1094.6 L1964.5 1094.4 L1964.2 1094.2 L1963.9 1094.1 L1963.6 1093.9 L1963.3 1093.7 L1963.0 1093.5 L1962.7 1093.4 L1962.4 1093.2 L1962.1 1093.0 L1961.8 1092.9 L1961.5 1092.7 L1961.2 1092.5 L1960.6 1092.8 L1960.1 1093.1 L1959.5 1093.4 L1958.9 1093.8 L1958.3 1094.2 L1957.7 1094.7 L1957.1 1095.1 L1956.5 1095.6 L1955.9 1096.1 L1955.3 1096.6 L1954.7 1097.1 L1954.1 1097.6 L1953.5 1098.2 L1952.9 1098.7 L1952.3 1099.1 L1951.7 1099.6 L1951.2 1100.0 L1950.7 1100.4 L1950.2 1100.8 L1949.7 1101.1 L1949.3 1101.2 L1949.0 1101.1 L1948.7 1101.0 L1948.4 1100.9 L1948.1 1100.8 L1947.9 1100.6 L1947.6 1100.5 L1947.3 1100.4 L1947.0 1100.3 L1946.7 1100.2 L1946.4 1100.1 L1946.1 1099.9 L1945.8 1099.8 L1945.6 1099.7 L1945.3 1099.6 L1945.2 1099.0 L1945.1 1098.4 L1945.0 1097.8 L1944.9 1097.1 L1944.8 1096.4 L1944.7 1095.6 L1944.6 1094.9 L1944.6 1094.1 L1944.5 1093.3 L1944.4 1092.5 L1944.3 1091.7 L1944.2 1090.9 L1944.1 1090.1 L1944.0 1089.4 L1943.9 1088.6 L1943.8 1087.9 L1943.6 1087.2 L1943.5 1086.5 L1943.3 1085.9 L1943.1 1085.3 L1942.8 1085.0 L1942.5 1084.9 L1942.1 1084.8 L1941.8 1084.7 L1941.4 1084.6 L1941.1 1084.5 L1940.8 1084.4 L1940.4 1084.3 L1940.1 1084.2 L1939.7 1084.2 L1939.4 1084.1 L1939.0 1084.0 L1938.7 1083.9 L1938.3 1083.8 L1937.9 1083.8 L1937.5 1084.2 L1937.0 1084.6 L1936.5 1085.1 L1936.0 1085.6 L1935.5 1086.1 L1935.1 1086.7 L1934.6 1087.3 L1934.1 1087.9 L1933.6 1088.5 L1933.1 1089.2 L1932.6 1089.8 L1932.1 1090.5 L1931.6 1091.1 L1931.2 1091.7 L1930.7 1092.3 L1930.2 1092.9 L1929.8 1093.4 L1929.4 1093.9 L1929.0 1094.4 L1928.5 1094.8 L1928.2 1094.9 L1927.9 1094.8 L1927.6 1094.8 L1927.2 1094.7 L1926.9 1094.6 L1926.6 1094.6 L1926.3 1094.5 L1926.0 1094.5 L1925.6 1094.4 L1925.3 1094.4 L1925.0 1094.3 L1924.7 1094.3 L1924.3 1094.2 L1924.0 1094.2 L1923.7 1094.0 L1923.5 1093.5 L1923.2 1092.9 L1922.9 1092.3 L1922.7 1091.6 L1922.4 1091.0 L1922.2 1090.2 L1921.9 1089.5 L1921.6 1088.8 L1921.4 1088.0 L1921.1 1087.2 L1920.8 1086.5 L1920.6 1085.7 L1920.3 1085.0 L1920.0 1084.3 L1919.7 1083.6 L1919.4 1082.9 L1919.1 1082.2 L1918.7 1081.7 L1918.4 1081.1 L1918.1 1080.6 L1917.7 1080.5 L1917.3 1080.4 L1917.0 1080.4 L1916.6 1080.4 L1916.2 1080.4 L1915.8 1080.3 L1915.5 1080.3 L1915.1 1080.3 L1914.7 1080.3 L1914.3 1080.3 L1914.0 1080.2 L1913.6 1080.2 L1913.2 1080.2 L1912.8 1080.2 L1912.5 1080.4 L1912.1 1080.9 L1911.7 1081.4 L1911.3 1082.0 L1910.9 1082.6 L1910.5 1083.2 L1910.1 1083.9 L1909.8 1084.6 L1909.4 1085.3 L1909.0 1086.0 L1908.6 1086.7 L1908.3 1087.5 L1907.9 1088.2 L1907.6 1088.9 L1907.2 1089.6 L1906.9 1090.3 L1906.5 1090.9 L1906.2 1091.5 L1905.8 1092.1 L1905.5 1092.6 L1905.2 1093.1 L1904.8 1093.2 L1904.5 1093.2 L1904.1 1093.2 L1903.8 1093.2 L1903.4 1093.2 L1903.1 1093.2 L1902.7 1093.2 L1902.4 1093.3 L1902.0 1093.3 L1901.7 1093.3 L1901.3 1093.3 L1901.0 1093.3 L1900.6 1093.4 L1900.2 1093.4 L1899.9 1093.1 L1899.5 1092.7 L1899.1 1092.2 L1898.7 1091.6 L1898.3 1091.0 L1897.9 1090.4 L1897.4 1089.7 L1897.0 1089.1 L1896.6 1088.4 L1896.2 1087.7 L1895.7 1087.0 L1895.3 1086.3 L1894.8 1085.6 L1894.4 1085.0 L1893.9 1084.3 L1893.5 1083.7 L1893.0 1083.1 L1892.6 1082.6 L1892.1 1082.0 L1891.6 1081.6 L1891.2 1081.2 L1890.8 1081.2 L1890.4 1081.3 L1890.0 1081.3 L1889.6 1081.4 L1889.2 1081.4 L1888.8 1081.5 L1888.4 1081.5 L1888.0 1081.6 L1887.6 1081.6 L1887.2 1081.7 L1886.8 1081.8 L1886.4 1081.8 L1886.1 1081.9 L1885.7 1081.9 L1885.3 1082.3 L1885.0 1082.9 L1884.7 1083.5 L1884.4 1084.1 L1884.1 1084.8 L1883.8 1085.5 L1883.5 1086.3 L1883.3 1087.0 L1883.0 1087.8 L1882.8 1088.6 L1882.5 1089.4 L1882.3 1090.2 L1882.0 1090.9 L1881.8 1091.7 L1881.5 1092.4 L1881.3 1093.2 L1881.0 1093.9 L1880.8 1094.5 L1880.5 1095.1 L1880.2 1095.7 L1879.9 1096.2 L1879.6 1096.3 L1879.2 1096.4 L1878.8 1096.4 L1878.4 1096.5 L1878.1 1096.6 L1877.7 1096.7 L1877.3 1096.8 L1877.0 1096.9 L1876.6 1096.9 L1876.2 1097.0 L1875.8 1097.1 L1875.5 1097.2 L1875.1 1097.3 L1874.7 1097.4 L1874.2 1097.1 L1873.7 1096.7 L1873.2 1096.3 L1872.7 1095.8 L1872.2 1095.3 L1871.6 1094.7 L1871.1 1094.2 L1870.5 1093.6 L1869.9 1093.0 L1869.3 1092.4 L1868.8 1091.8 L1868.2 1091.2 L1867.6 1090.6 L1867.0 1090.1 L1866.4 1089.5 L1865.8 1089.0 L1865.3 1088.5 L1864.7 1088.1 L1864.1 1087.6 L1863.6 1087.3 L1863.1 1087.1 L1862.7 1087.2 L1862.3 1087.3 L1861.9 1087.4 L1861.5 1087.6 L1861.0 1087.7 L1860.6 1087.8 L1860.2 1087.9 L1859.8 1088.1 L1859.4 1088.2 L1859.0 1088.3 L1858.6 1088.5 L1858.2 1088.6 L1857.8 1088.7 L1857.4 1088.9 L1857.1 1089.4 L1856.9 1090.0 L1856.6 1090.7 L1856.4 1091.4 L1856.2 1092.1 L1856.0 1092.9 L1855.8 1093.7 L1855.7 1094.5 L1855.5 1095.3 L1855.4 1096.1 L1855.2 1097.0 L1855.0 1097.8 L1854.9 1098.6 L1854.7 1099.4 L1854.6 1100.2 L1854.4 1101.0 L1854.2 1101.7 L1854.1 1102.4 L1853.9 1103.0 L1853.6 1103.6 L1853.4 1104.1 L1853.0 1104.2 L1852.6 1104.4 L1852.2 1104.5 L1851.8 1104.7 L1851.4 1104.8 L1851.1 1105.0 L1850.7 1105.1 L1850.3 1105.3 L1849.9 1105.4 L1849.5 1105.6 L1849.1 1105.7 L1848.7 1105.9 L1848.3 1106.1 L1847.9 1106.2 L1847.4 1105.9 L1846.8 1105.6 L1846.2 1105.3 L1845.6 1104.9 L1844.9 1104.4 L1844.3 1104.0 L1843.6 1103.5 L1842.9 1103.1 L1842.2 1102.6 L1841.5 1102.1 L1840.8 1101.6 L1840.2 1101.1 L1839.5 1100.6 L1838.8 1100.1 L1838.1 1099.7 L1837.4 1099.3 L1836.7 1098.9 L1836.1 1098.6 L1835.5 1098.3 L1834.8 1098.0 L1834.3 1098.0 L1833.9 1098.2 L1833.5 1098.4 L1833.1 1098.6 L1832.7 1098.8 L1832.3 1098.9 L1831.9 1099.1 L1831.4 1099.3 L1831.0 1099.5 L1830.6 1099.7 L1830.2 1099.9 L1829.8 1100.1 L1829.4 1100.3 L1829.0 1100.5 L1828.6 1100.8 L1828.4 1101.4 L1828.2 1102.1 L1828.0 1102.8 L1827.9 1103.6 L1827.8 1104.3 L1827.7 1105.1 L1827.6 1106.0 L1827.5 1106.8 L1827.4 1107.7 L1827.4 1108.5 L1827.3 1109.4 L1827.2 1110.2 L1827.2 1111.1 L1827.1 1111.9 L1827.0 1112.7 L1826.9 1113.5 L1826.8 1114.2 L1826.7 1115.0 L1826.6 1115.6 L1826.4 1116.3 L1826.1 1116.7 L1825.7 1116.9 L1825.3 1117.1 L1824.9 1117.3 L1824.5 1117.5 L1824.1 1117.7 L1823.7 1118.0 L1823.4 1118.2 L1823.0 1118.4 L1822.6 1118.6 L1822.2 1118.8 L1821.8 1119.1 L1821.4 1119.3 L1821.0 1119.5 L1820.5 1119.6 L1819.9 1119.4 L1819.3 1119.2 L1818.6 1118.9 L1817.9 1118.6 L1817.2 1118.3 L1816.4 1118.0 L1815.7 1117.6 L1814.9 1117.2 L1814.1 1116.8 L1813.4 1116.5 L1812.6 1116.1 L1811.8 1115.7 L1811.0 1115.3 L1810.3 1115.0 L1809.5 1114.7 L1808.8 1114.4 L1808.0 1114.1 L1807.3 1113.8 L1806.6 1113.7 L1806.0 1113.5 L1805.5 1113.6 L1805.1 1113.9 L1804.7 1114.1 L1804.3 1114.4 L1803.9 1114.7 L1803.5 1114.9 L1803.0 1115.2 L1802.6 1115.4 L1802.2 1115.7 L1801.8 1116.0 L1801.4 1116.2 L1801.0 1116.5 L1800.6 1116.8 L1800.2 1117.0 L1799.9 1117.5 L1799.7 1118.1 L1799.6 1118.8 L1799.5 1119.6 L1799.5 1120.4 L1799.4 1121.2 L1799.4 1122.0 L1799.4 1122.9 L1799.4 1123.7 L1799.4 1124.6 L1799.4 1125.5 L1799.4 1126.3 L1799.4 1127.2 L1799.4 1128.1 L1799.4 1128.9 L1799.4 1129.7 L1799.4 1130.5 L1799.4 1131.3 L1799.3 1132.0 L1799.2 1132.7 L1799.1 1133.4 L1798.7 1133.7 L1798.4 1134.0 L1798.0 1134.3 L1797.6 1134.6 L1797.2 1134.8 L1796.8 1135.1 L1796.4 1135.4 L1796.0 1135.7 L1795.6 1136.0 L1795.2 1136.2 L1794.9 1136.5 L1794.5 1136.8 L1794.1 1137.1 L1793.7 1137.4 L1793.2 1137.5 L1792.5 1137.4 L1791.8 1137.2 L1791.1 1137.1 L1790.3 1136.9 L1789.5 1136.6 L1788.7 1136.4 L1787.9 1136.1 L1787.1 1135.8 L1786.2 1135.6 L1785.4 1135.3 L1784.6 1135.0 L1783.7 1134.7 L1782.9 1134.5 L1782.1 1134.2 L1781.3 1134.0 L1780.5 1133.8 L1779.7 1133.7 L1779.0 1133.5 L1778.3 1133.4 L1777.6 1133.4 L1777.2 1133.7 L1776.8 1134.0 L1776.4 1134.3 L1776.0 1134.6 L1775.6 1134.9 L1775.2 1135.3 L1774.8 1135.6 L1774.4 1135.9 L1774.0 1136.2 L1773.6 1136.5 L1773.2 1136.9 L1772.8 1137.2 L1772.4 1137.5 L1772.0 1137.8 L1771.8 1138.4 L1771.7 1139.1 L1771.7 1139.8 L1771.6 1140.6 L1771.6 1141.4 L1771.7 1142.3 L1771.7 1143.1 L1771.8 1144.0 L1771.9 1144.8 L1771.9 1145.7 L1772.0 1146.6 L1772.1 1147.5 L1772.2 1148.4 L1772.3 1149.2 L1772.4 1150.1 L1772.4 1150.9 L1772.4 1151.7 L1772.5 1152.5 L1772.4 1153.3 L1772.4 1154.0 L1772.3 1154.6 L1771.9 1155.0 L1771.6 1155.3 L1771.2 1155.6 L1770.8 1156.0 L1770.4 1156.3 L1770.1 1156.6 L1769.7 1157.0 L1769.3 1157.3 L1768.9 1157.6 L1768.6 1158.0 L1768.2 1158.3 L1767.8 1158.6 L1767.4 1159.0 L1767.1 1159.3 L1766.5 1159.4 L1765.8 1159.4 L1765.0 1159.3 L1764.2 1159.2 L1763.4 1159.1 L1762.6 1159.0 L1761.8 1158.8 L1760.9 1158.7 L1760.1 1158.5 L1759.2 1158.3 L1758.3 1158.1 L1757.4 1158.0 L1756.6 1157.8 L1755.7 1157.6 L1754.8 1157.5 L1754.0 1157.4 L1753.2 1157.3 L1752.4 1157.2 L1751.6 1157.2 L1750.9 1157.2 L1750.3 1157.3 L1749.9 1157.7 L1749.5 1158.0 L1749.1 1158.4 L1748.7 1158.8 L1748.4 1159.1 L1748.0 1159.5 L1747.6 1159.9 L1747.2 1160.2 L1746.9 1160.6 L1746.5 1161.0 L1746.1 1161.4 L1745.7 1161.7 L1745.4 1162.1 L1745.0 1162.5 L1744.9 1163.2 L1744.9 1163.9 L1744.9 1164.7 L1744.9 1165.5 L1745.0 1166.3 L1745.1 1167.1 L1745.2 1168.0 L1745.4 1168.8 L1745.5 1169.7 L1745.7 1170.6 L1745.9 1171.5 L1746.0 1172.4 L1746.2 1173.3 L1746.3 1174.1 L1746.4 1175.0 L1746.6 1175.8 L1746.7 1176.6 L1746.7 1177.4 L1746.8 1178.1 L1746.8 1178.9 L1746.7 1179.5 L1746.3 1179.9 L1746.0 1180.2 L1745.6 1180.6 L1745.2 1181.0 L1744.9 1181.4 L1744.5 1181.8 L1744.2 1182.1 L1743.8 1182.5 L1743.5 1182.9 L1743.1 1183.3 L1742.8 1183.7 L1742.4 1184.1 L1742.1 1184.4 L1741.7 1184.8 L1741.0 1184.9 L1740.3 1185.0 L1739.5 1185.0 L1738.7 1185.0 L1737.9 1184.9 L1737.1 1184.9 L1736.2 1184.8 L1735.3 1184.8 L1734.4 1184.7 L1733.5 1184.6 L1732.6 1184.5 L1731.7 1184.4 L1730.8 1184.4 L1730.0 1184.3 L1729.1 1184.3 L1728.2 1184.3 L1727.4 1184.3 L1726.6 1184.3 L1725.9 1184.3 L1725.1 1184.4 L1724.6 1184.7 L1724.2 1185.1 L1723.9 1185.5 L1723.5 1185.9 L1723.2 1186.3 L1722.8 1186.7 L1722.5 1187.1 L1722.1 1187.6 L1721.8 1188.0 L1721.4 1188.4 L1721.1 1188.8 L1720.7 1189.2 L1720.4 1189.7 L1720.0 1190.1 L1719.7 1190.5 L1719.7 1191.2 L1719.8 1192.0 L1719.9 1192.8 L1720.0 1193.6 L1720.1 1194.4 L1720.3 1195.2 L1720.5 1196.1 L1720.7 1197.0 L1720.9 1197.8 L1721.2 1198.7 L1721.4 1199.6 L1721.6 1200.5 L1721.9 1201.3 L1722.1 1202.2 L1722.3 1203.0 L1722.5 1203.8 L1722.6 1204.6 L1722.7 1205.4 L1722.8 1206.2 L1722.9 1206.9 L1722.7 1207.5 L1722.4 1207.9 L1722.1 1208.3 L1721.8 1208.7 L1721.4 1209.1 L1721.1 1209.6 L1720.8 1210.0 L1720.5 1210.4 L1720.1 1210.8 L1719.8 1211.2 L1719.5 1211.7 L1719.2 1212.1 L1718.9 1212.5 L1718.5 1212.9 L1718.1 1213.3 L1717.4 1213.5 L1716.7 1213.6 L1715.9 1213.7 L1715.1 1213.7 L1714.3 1213.8 L1713.4 1213.8 L1712.5 1213.8 L1711.7 1213.8 L1710.7 1213.9 L1709.8 1213.9 L1708.9 1213.9 L1708.0 1213.9 L1707.1 1213.9 L1706.2 1213.9 L1705.4 1214.0 L1704.5 1214.0 L1703.7 1214.1 L1702.9 1214.2 L1702.2 1214.4 L1701.5 1214.6 L1701.0 1214.9 L1700.7 1215.4 L1700.4 1215.8 L1700.0 1216.3 L1699.7 1216.7 L1699.4 1217.2 L1699.1 1217.6 L1698.8 1218.1 L1698.5 1218.5 L1698.2 1219.0 L1697.8 1219.4 L1697.5 1219.9 L1697.2 1220.3 L1696.9 1220.8 L1696.7 1221.3 L1696.8 1222.1 L1696.9 1222.8 L1697.1 1223.6 L1697.3 1224.4 L1697.5 1225.2 L1697.8 1226.0 L1698.0 1226.9 L1698.3 1227.7 L1698.6 1228.6 L1698.9 1229.4 L1699.2 1230.3 L1699.5 1231.1 L1699.8 1232.0 L1700.1 1232.8 L1700.4 1233.6 L1700.6 1234.5 L1700.8 1235.2 L1701.0 1236.0 L1701.2 1236.7 L1701.3 1237.4 L1701.1 1238.0 L1700.8 1238.4 L1700.5 1238.9 L1700.2 1239.3 L1699.9 1239.8 L1699.7 1240.2 L1699.4 1240.7 L1699.1 1241.1 L1698.8 1241.6 L1698.5 1242.0 L1698.2 1242.5 L1697.9 1242.9 L1697.7 1243.4 L1697.4 1243.8 L1696.9 1244.2 L1696.2 1244.4 L1695.5 1244.6 L1694.7 1244.7 L1693.9 1244.9 L1693.1 1245.0 L1692.2 1245.1 L1691.3 1245.2 L1690.4 1245.3 L1689.5 1245.4 L1688.6 1245.5 L1687.7 1245.6 L1686.8 1245.7 L1685.9 1245.8 L1685.1 1245.9 L1684.2 1246.0 L1683.4 1246.1 L1682.6 1246.3 L1681.8 1246.5 L1681.1 1246.7 L1680.4 1247.0 L1680.1 1247.4 L1679.8 1247.9 L1679.5 1248.3 L1679.2 1248.8 L1678.9 1249.3 L1678.7 1249.8 L1678.4 1250.3 L1678.1 1250.7 L1677.8 1251.2 L1677.6 1251.7 L1677.3 1252.2 L1677.0 1252.7 L1676.8 1253.1 L1676.5 1253.6 L1676.4 1254.2 L1676.6 1254.9 L1676.8 1255.7 L1677.0 1256.5 L1677.3 1257.2 L1677.6 1258.0 L1678.0 1258.8 L1678.3 1259.7 L1678.7 1260.5 L1679.1 1261.3 L1679.4 1262.1 L1679.8 1263.0 L1680.2 1263.8 L1680.6 1264.6 L1680.9 1265.4 L1681.2 1266.2 L1681.6 1266.9 L1681.8 1267.7 L1682.1 1268.4 L1682.3 1269.1 L1682.4 1269.8 L1682.2 1270.3 L1682.0 1270.8 L1681.7 1271.3 L1681.5 1271.7 L1681.2 1272.2 L1681.0 1272.7 L1680.7 1273.2 L1680.5 1273.6 L1680.2 1274.1 L1680.0 1274.6 L1679.8 1275.0 L1679.5 1275.5 L1679.3 1276.0 L1679.0 1276.5 L1678.5 1276.8 L1677.8 1277.1 L1677.1 1277.3 L1676.3 1277.5 L1675.5 1277.7 L1674.7 1277.9 L1673.9 1278.1 L1673.0 1278.2 L1672.1 1278.4 L1671.2 1278.6 L1670.3 1278.7 L1669.5 1278.9 L1668.6 1279.1 L1667.7 1279.3 L1666.8 1279.4 L1666.0 1279.7 L1665.2 1279.9 L1664.4 1280.1 L1663.7 1280.4 L1663.0 1280.6 L1662.4 1280.9 L1662.2 1281.4 L1661.9 1281.9 L1661.7 1282.4 L1661.5 1282.9 L1661.2 1283.4 L1661.0 1283.9 L1660.8 1284.4 L1660.5 1284.9 L1660.3 1285.4 L1660.1 1285.9 L1659.9 1286.4 L1659.6 1286.9 L1659.4 1287.4 L1659.2 1287.9 L1659.3 1288.5 L1659.6 1289.2 L1659.8 1289.9 L1660.2 1290.7 L1660.5 1291.4 L1660.9 1292.2 L1661.3 1293.0 L1661.7 1293.7 L1662.2 1294.5 L1662.6 1295.3 L1663.1 1296.1 L1663.6 1296.8 L1664.0 1297.6 L1664.4 1298.4 L1664.9 1299.1 L1665.3 1299.9 L1665.6 1300.6 L1666.0 1301.3 L1666.3 1302.0 L1666.5 1302.7 L1666.7 1303.3 L1666.5 1303.8 L1666.3 1304.3 L1666.1 1304.8 L1665.9 1305.3 L1665.7 1305.7 L1665.5 1306.2 L1665.3 1306.7 L1665.1 1307.2 L1664.9 1307.7 L1664.7 1308.2 L1664.5 1308.6 L1664.3 1309.1 L1664.1 1309.6 L1663.9 1310.1 L1663.4 1310.4 L1662.7 1310.7 L1662.0 1311.0 L1661.2 1311.3 L1660.5 1311.5 L1659.7 1311.8 L1658.8 1312.0 L1658.0 1312.3 L1657.1 1312.5 L1656.3 1312.7 L1655.4 1313.0 L1654.5 1313.2 L1653.7 1313.4 L1652.8 1313.7 L1652.0 1314.0 L1651.2 1314.2 L1650.4 1314.5 L1649.7 1314.8 L1649.0 1315.1 L1648.3 1315.4 L1647.9 1315.8 L1647.7 1316.3 L1647.5 1316.8 L1647.3 1317.3 L1647.1 1317.8 L1647.0 1318.4 L1646.8 1318.9 L1646.6 1319.4 L1646.4 1319.9 L1646.3 1320.4 L1646.1 1320.9 L1645.9 1321.4 L1645.7 1321.9 L1645.6 1322.4 L1645.4 1322.9 L1645.7 1323.5 L1646.0 1324.2 L1646.4 1324.9 L1646.8 1325.6 L1647.2 1326.3 L1647.7 1327.0 L1648.2 1327.7 L1648.7 1328.4 L1649.2 1329.1 L1649.7 1329.8 L1650.3 1330.5 L1650.8 1331.3 L1651.3 1332.0 L1651.8 1332.7 L1652.3 1333.4 L1652.8 1334.0 L1653.2 1334.7 L1653.6 1335.4 L1654.0 1336.0 L1654.3 1336.7 L1654.4 1337.2 L1654.3 1337.7 L1654.1 1338.2 L1654.0 1338.7 L1653.8 1339.1 L1653.7 1339.6 L1653.5 1340.1 L1653.4 1340.6 L1653.3 1341.1 L1653.1 1341.6 L1653.0 1342.0 L1652.8 1342.5 L1652.7 1343.0 L1652.5 1343.5 L1652.3 1344.0 L1651.8 1344.3 L1651.1 1344.7 L1650.4 1345.0 L1649.7 1345.3 L1649.0 1345.6 L1648.2 1345.9 L1647.4 1346.2 L1646.6 1346.5 L1645.7 1346.8 L1644.9 1347.1 L1644.1 1347.4 L1643.2 1347.7 L1642.4 1348.0 L1641.6 1348.3 L1640.8 1348.7 L1640.1 1349.0 L1639.3 1349.3 L1638.6 1349.7 L1638.0 1350.1 L1637.4 1350.4 L1637.1 1350.9 L1637.0 1351.4 L1636.8 1351.9 L1636.7 1352.4 L1636.6 1352.9 L1636.5 1353.4 L1636.3 1353.9 L1636.2 1354.4 L1636.1 1354.9 L1636.0 1355.4 L1635.9 1355.9 L1635.7 1356.4 L1635.6 1356.9 L1635.5 1357.3 L1635.5 1357.9 L1635.9 1358.5 L1636.3 1359.1 L1636.7 1359.7 L1637.2 1360.3 L1637.7 1361.0 L1638.2 1361.6 L1638.8 1362.2 L1639.4 1362.9 L1640.0 1363.5 L1640.6 1364.2 L1641.2 1364.8 L1641.8 1365.4 L1642.4 1366.1 L1643.0 1366.7 L1643.6 1367.3 L1644.1 1367.9 L1644.6 1368.5 L1645.1 1369.1 L1645.5 1369.7 L1645.9 1370.3 L1645.9 1370.8 L1645.8 1371.2 L1645.7 1371.7 L1645.6 1372.2 L1645.6 1372.6 L1645.5 1373.1 L1645.4 1373.6 L1645.3 1374.1 L1645.2 1374.5 L1645.1 1375.0 L1645.0 1375.5 L1644.9 1375.9 L1644.9 1376.4 L1644.8 1376.9 L1644.5 1377.3 L1644.0 1377.7 L1643.4 1378.1 L1642.7 1378.5 L1642.0 1378.8 L1641.3 1379.2 L1640.6 1379.6 L1639.8 1379.9 L1639.0 1380.3 L1638.2 1380.6 L1637.4 1381.0 L1636.6 1381.4 L1635.8 1381.7 L1635.1 1382.1 L1634.3 1382.5 L1633.6 1382.9 L1632.9 1383.3 L1632.2 1383.6 L1631.6 1384.0 L1631.0 1384.5 L1630.4 1384.9 L1630.3 1385.3 L1630.2 1385.8 L1630.1 1386.3 L1630.1 1386.8 L1630.0 1387.3 L1629.9 1387.8 L1629.9 1388.2 L1629.8 1388.7 L1629.8 1389.2 L1629.7 1389.7 L1629.6 1390.2 L1629.6 1390.7 L1629.5 1391.1 L1629.5 1391.6 L1629.6 1392.1 L1630.0 1392.7 L1630.5 1393.2 L1631.0 1393.7 L1631.6 1394.3 L1632.2 1394.8 L1632.8 1395.4 L1633.5 1395.9 L1634.1 1396.5 L1634.8 1397.0 L1635.5 1397.6 L1636.2 1398.1 L1636.8 1398.6 L1637.5 1399.2 L1638.2 1399.7 L1638.8 1400.2 L1639.4 1400.7 L1639.9 1401.2 L1640.4 1401.7 L1640.9 1402.2 L1641.4 1402.7 L1641.4 1403.2 L1641.3 1403.6 L1641.3 1404.1 L1641.3 1404.5 L1641.2 1405.0 L1641.2 1405.4 L1641.2 1405.9 L1641.1 1406.3 L1641.1 1406.8 L1641.1 1407.2 L1641.0 1407.7 L1641.0 1408.1 L1641.0 1408.6 L1641.0 1409.0 L1640.7 1409.5 L1640.1 1409.9 L1639.6 1410.3 L1639.0 1410.7 L1638.3 1411.1 L1637.6 1411.5 L1636.9 1412.0 L1636.2 1412.4 L1635.5 1412.8 L1634.7 1413.2 L1634.0 1413.7 L1633.3 1414.1 L1632.5 1414.5 L1631.8 1415.0 L1631.1 1415.4 L1630.4 1415.8 L1629.8 1416.3 L1629.2 1416.7 L1628.6 1417.2 L1628.1 1417.6 L1627.6 1418.1 L1627.6 1418.5 L1627.6 1419.0 L1627.6 1419.4 L1627.6 1419.9 L1627.6 1420.4 L1627.6 1420.8 L1627.6 1421.3 L1627.6 1421.7 L1627.5 1422.2 L1627.5 1422.7 L1627.5 1423.1 L1627.5 1423.6 L1627.6 1424.0 L1627.6 1424.5 L1627.9 1424.9 L1628.4 1425.4 L1628.9 1425.8 L1629.5 1426.3 L1630.2 1426.7 L1630.8 1427.2 L1631.5 1427.6 L1632.2 1428.0 L1633.0 1428.4 L1633.7 1428.9 L1634.5 1429.3 L1635.2 1429.7 L1635.9 1430.1 L1636.6 1430.5 L1637.3 1430.9 L1638.0 1431.3 L1638.7 1431.7 L1639.3 1432.2 L1639.8 1432.6 L1640.4 1433.0 L1640.8 1433.4 L1640.8 1433.8 L1640.8 1434.2 L1640.9 1434.6 L1640.9 1435.0 L1640.9 1435.5 L1640.9 1435.9 L1641.0 1436.3 L1641.0 1436.7 L1641.0 1437.1 L1641.0 1437.5 L1641.1 1438.0 L1641.1 1438.4 L1641.1 1438.8 L1641.2 1439.2 L1640.8 1439.6 L1640.3 1440.1 L1639.8 1440.6 L1639.3 1441.0 L1638.7 1441.5 L1638.0 1442.0 L1637.4 1442.4 L1636.7 1442.9 L1636.1 1443.4 L1635.4 1443.9 L1634.7 1444.4 L1634.0 1444.9 L1633.3 1445.4 L1632.7 1445.9 L1632.0 1446.4 L1631.4 1446.9 L1630.9 1447.4 L1630.3 1447.9 L1629.8 1448.4 L1629.4 1448.8 L1629.1 1449.3 L1629.1 1449.7 L1629.2 1450.2 L1629.2 1450.6 L1629.3 1451.0 L1629.4 1451.5 L1629.4 1451.9 L1629.5 1452.3 L1629.5 1452.7 L1629.6 1453.2 L1629.6 1453.6 L1629.7 1454.0 L1629.8 1454.4 L1629.8 1454.9 L1629.9 1455.3 L1630.4 1455.6 L1631.0 1456.0 L1631.6 1456.3 L1632.2 1456.6 L1632.9 1456.9 L1633.6 1457.2 L1634.4 1457.5 L1635.2 1457.8 L1635.9 1458.1 L1636.7 1458.4 L1637.5 1458.7 L1638.3 1458.9 L1639.1 1459.2 L1639.9 1459.5 L1640.6 1459.7 L1641.3 1460.0 L1642.0 1460.3 L1642.6 1460.6 L1643.2 1460.8 L1643.8 1461.1 L1644.2 1461.5 L1644.2 1461.8 L1644.3 1462.2 L1644.4 1462.6 L1644.5 1463.0 L1644.6 1463.4 L1644.6 1463.7 L1644.7 1464.1 L1644.8 1464.5 L1644.9 1464.9 L1645.0 1465.2 L1645.1 1465.6 L1645.1 1466.0 L1645.2 1466.4 L1645.3 1466.7 L1644.9 1467.2 L1644.5 1467.7 L1644.0 1468.2 L1643.5 1468.7 L1643.0 1469.2 L1642.5 1469.8 L1641.9 1470.3 L1641.3 1470.9 L1640.7 1471.4 L1640.1 1472.0 L1639.5 1472.6 L1638.9 1473.1 L1638.3 1473.7 L1637.7 1474.3 L1637.2 1474.8 L1636.6 1475.4 L1636.2 1475.9 L1635.7 1476.5 L1635.3 1477.0 L1634.9 1477.5 L1634.8 1478.0 L1634.9 1478.4 L1635.0 1478.8 L1635.2 1479.1 L1635.3 1479.5 L1635.4 1479.9 L1635.5 1480.3 L1635.6 1480.7 L1635.7 1481.1 L1635.9 1481.4 L1636.0 1481.8 L1636.1 1482.2 L1636.2 1482.6 L1636.4 1483.0 L1636.6 1483.3 L1637.1 1483.6 L1637.8 1483.8 L1638.4 1484.0 L1639.1 1484.1 L1639.8 1484.3 L1640.6 1484.4 L1641.4 1484.6 L1642.2 1484.7 L1643.0 1484.8 L1643.8 1484.9 L1644.6 1485.1 L1645.4 1485.2 L1646.2 1485.3 L1647.0 1485.4 L1647.8 1485.5 L1648.5 1485.6 L1649.2 1485.7 L1649.9 1485.9 L1650.5 1486.0 L1651.1 1486.2 L1651.4 1486.4 L1651.5 1486.8 L1651.6 1487.1 L1651.8 1487.4 L1651.9 1487.7 L1652.0 1488.1 L1652.2 1488.4 L1652.3 1488.7 L1652.4 1489.1 L1652.6 1489.4 L1652.7 1489.7 L1652.8 1490.0 L1653.0 1490.3 L1653.1 1490.7 L1653.1 1491.0 L1652.8 1491.6 L1652.5 1492.1 L1652.1 1492.6 L1651.7 1493.2 L1651.3 1493.8 L1650.8 1494.4 L1650.3 1495.0 L1649.8 1495.7 L1649.3 1496.3 L1648.8 1496.9 L1648.3 1497.6 L1647.8 1498.2 L1647.3 1498.8 L1646.8 1499.5 L1646.4 1500.1 L1646.0 1500.7 L1645.6 1501.3 L1645.3 1501.9 L1645.0 1502.5 L1644.7 1503.0 L1644.8 1503.4 L1644.9 1503.8 L1645.1 1504.1 L1645.3 1504.5 L1645.5 1504.8 L1645.6 1505.1 L1645.8 1505.5 L1646.0 1505.8 L1646.2 1506.1 L1646.3 1506.5 L1646.5 1506.8 L1646.7 1507.1 L1646.9 1507.4 L1647.1 1507.8 L1647.4 1508.0 L1648.0 1508.1 L1648.7 1508.2 L1649.4 1508.2 L1650.1 1508.2 L1650.8 1508.2 L1651.6 1508.2 L1652.4 1508.1 L1653.2 1508.1 L1654.0 1508.0 L1654.8 1507.9 L1655.6 1507.9 L1656.4 1507.8 L1657.2 1507.7 L1657.9 1507.6 L1658.7 1507.6 L1659.4 1507.5 L1660.1 1507.5 L1660.8 1507.5 L1661.4 1507.5 L1662.0 1507.5 L1662.2 1507.7 L1662.4 1508.0 L1662.6 1508.3 L1662.7 1508.6 L1662.9 1508.8 L1663.1 1509.1 L1663.3 1509.4 L1663.5 1509.6 L1663.6 1509.9 L1663.8 1510.2 L1664.0 1510.5 L1664.2 1510.7 L1664.4 1511.0 L1664.6 1511.3 L1664.6 1511.7 L1664.3 1512.2 L1664.1 1512.8 L1663.8 1513.4 L1663.5 1514.0 L1663.2 1514.7 L1662.8 1515.4 L1662.5 1516.0 L1662.1 1516.7 L1661.7 1517.4 L1661.4 1518.2 L1661.0 1518.9 L1660.6 1519.6 L1660.3 1520.3 L1659.9 1521.0 L1659.6 1521.7 L1659.4 1522.4 L1659.1 1523.0 L1658.9 1523.6 L1658.7 1524.2 L1658.6 1524.8 L1658.8 1525.1 L1659.0 1525.4 L1659.2 1525.7 L1659.5 1525.9 L1659.7 1526.2 L1659.9 1526.5 L1660.2 1526.8 L1660.4 1527.0 L1660.6 1527.3 L1660.9 1527.6 L1661.1 1527.9 L1661.3 1528.1 L1661.6 1528.4 L1661.8 1528.7 L1662.3 1528.7 L1662.9 1528.7 L1663.5 1528.6 L1664.2 1528.4 L1664.9 1528.3 L1665.6 1528.1 L1666.3 1527.9 L1667.1 1527.6 L1667.9 1527.4 L1668.6 1527.1 L1669.4 1526.9 L1670.1 1526.6 L1670.9 1526.4 L1671.6 1526.1 L1672.3 1525.8 L1673.0 1525.6 L1673.7 1525.4 L1674.4 1525.2 L1675.0 1525.0 L1675.5 1524.9 L1676.1 1524.8 L1676.3 1525.0 L1676.5 1525.2 L1676.7 1525.4 L1677.0 1525.7 L1677.2 1525.9 L1677.4 1526.1 L1677.7 1526.3 L1677.9 1526.5 L1678.1 1526.7 L1678.3 1526.9 L1678.6 1527.1 L1678.8 1527.3 L1679.0 1527.5 L1679.3 1527.8 L1679.3 1528.2 L1679.2 1528.8 L1679.0 1529.4 L1678.9 1530.1 L1678.7 1530.8 L1678.5 1531.5 L1678.3 1532.2 L1678.1 1532.9 L1677.9 1533.7 L1677.7 1534.5 L1677.5 1535.2 L1677.3 1536.0 L1677.1 1536.8 L1676.9 1537.6 L1676.7 1538.3 L1676.6 1539.0 L1676.5 1539.7 L1676.4 1540.4 L1676.3 1541.1 L1676.3 1541.7 L1676.3 1542.2 L1676.6 1542.4 L1676.9 1542.6 L1677.2 1542.8 L1677.5 1543.0 L1677.7 1543.2 L1678.0 1543.5 L1678.3 1543.7 L1678.6 1543.9 L1678.9 1544.1 L1679.2 1544.3 L1679.5 1544.5 L1679.7 1544.7 L1680.0 1544.9 L1680.3 1545.1 L1680.8 1545.0 L1681.4 1544.7 L1682.0 1544.5 L1682.6 1544.2 L1683.3 1543.8 L1683.9 1543.5 L1684.6 1543.1 L1685.3 1542.7 L1685.9 1542.3 L1686.6 1541.8 L1687.3 1541.4 Z" fill="#000" stroke="#000" stroke-width="6" stroke-linejoin="round"/>
<path d="M1687.3 1539.9 L1684.4 1541.6 L1681.9 1542.6 L1680.7 1541.7 L1679.5 1540.8 L1678.3 1539.9 L1678.3 1537.4 L1679.1 1534.2 L1680.0 1530.8 L1680.9 1527.7 L1681.1 1525.4 L1634.3 1495.7 L1634.1 1498.0 L1633.2 1501.1 L1632.3 1504.5 L1631.5 1507.7 L1631.5 1510.2 L1632.7 1511.1 L1633.9 1512.0 L1635.1 1512.9 L1637.6 1511.9 L1640.5 1510.2 Z" fill="#fff" stroke="none"/>
<path d="M1676.2 1523.1 L1673.2 1524.2 L1669.9 1525.4 L1666.7 1526.4 L1664.0 1526.7 L1663.0 1525.5 L1662.0 1524.3 L1661.0 1523.1 L1661.6 1520.7 L1663.1 1517.7 L1664.7 1514.5 L1666.2 1511.6 L1666.9 1509.4 L1620.1 1479.7 L1619.4 1481.9 L1617.9 1484.8 L1616.3 1488.0 L1614.8 1491.0 L1614.2 1493.4 L1615.2 1494.6 L1616.2 1495.8 L1617.2 1497.0 L1619.9 1496.7 L1623.1 1495.7 L1626.4 1494.5 L1629.4 1493.4 Z" fill="#fff" stroke="none"/>
<path d="M1662.5 1505.9 L1659.3 1506.2 L1655.8 1506.5 L1652.4 1506.7 L1649.7 1506.4 L1648.9 1505.0 L1648.2 1503.5 L1647.4 1502.1 L1648.5 1499.7 L1650.5 1497.0 L1652.7 1494.2 L1654.8 1491.6 L1655.9 1489.4 L1609.1 1459.7 L1608.0 1461.9 L1605.9 1464.5 L1603.7 1467.3 L1601.7 1470.0 L1600.6 1472.4 L1601.4 1473.8 L1602.1 1475.3 L1602.9 1476.7 L1605.6 1477.0 L1609.0 1476.8 L1612.5 1476.5 L1615.7 1476.2 Z" fill="#fff" stroke="none"/>
<path d="M1652.1 1484.7 L1648.8 1484.2 L1645.2 1483.7 L1641.8 1483.1 L1639.3 1482.2 L1638.7 1480.5 L1638.2 1478.9 L1637.7 1477.2 L1639.2 1475.0 L1641.6 1472.5 L1644.3 1470.1 L1646.7 1467.7 L1648.2 1465.7 L1601.4 1436.0 L1599.9 1438.0 L1597.5 1440.4 L1594.8 1442.8 L1592.4 1445.3 L1590.9 1447.5 L1591.4 1449.2 L1591.9 1450.8 L1592.5 1452.5 L1595.0 1453.4 L1598.4 1454.0 L1602.0 1454.5 L1605.3 1455.0 Z" fill="#fff" stroke="none"/>
<path d="M1645.1 1459.8 L1642.0 1458.6 L1638.5 1457.5 L1635.2 1456.2 L1632.8 1454.7 L1632.6 1452.8 L1632.3 1451.0 L1632.1 1449.1 L1633.9 1447.0 L1636.6 1444.9 L1639.6 1442.7 L1642.4 1440.6 L1644.1 1438.7 L1597.3 1409.0 L1595.6 1410.9 L1592.8 1413.0 L1589.8 1415.2 L1587.1 1417.3 L1585.3 1419.4 L1585.5 1421.3 L1585.8 1423.1 L1586.0 1425.0 L1588.4 1426.5 L1591.7 1427.8 L1595.2 1428.9 L1598.3 1430.1 Z" fill="#fff" stroke="none"/>
<path d="M1642.0 1431.8 L1639.0 1430.1 L1635.8 1428.3 L1632.7 1426.4 L1630.6 1424.4 L1630.5 1422.4 L1630.6 1420.4 L1630.6 1418.4 L1632.6 1416.4 L1635.7 1414.5 L1639.0 1412.7 L1642.0 1410.8 L1644.0 1409.0 L1597.2 1379.3 L1595.2 1381.1 L1592.2 1383.0 L1588.9 1384.8 L1585.8 1386.7 L1583.8 1388.7 L1583.8 1390.7 L1583.7 1392.7 L1583.8 1394.7 L1585.9 1396.7 L1589.0 1398.6 L1592.2 1400.4 L1595.2 1402.1 Z" fill="#fff" stroke="none"/>
<path d="M1642.8 1401.4 L1640.1 1399.1 L1637.1 1396.8 L1634.3 1394.4 L1632.4 1392.0 L1632.7 1389.9 L1633.0 1387.8 L1633.2 1385.7 L1635.5 1383.9 L1638.8 1382.2 L1642.3 1380.6 L1645.6 1379.0 L1647.7 1377.3 L1600.9 1347.6 L1598.8 1349.3 L1595.5 1350.9 L1592.0 1352.5 L1588.7 1354.2 L1586.4 1356.0 L1586.2 1358.1 L1585.9 1360.2 L1585.6 1362.3 L1587.5 1364.7 L1590.3 1367.1 L1593.3 1369.4 L1596.0 1371.7 Z" fill="#fff" stroke="none"/>
<path d="M1647.5 1369.1 L1645.1 1366.4 L1642.4 1363.6 L1640.0 1360.8 L1638.4 1358.2 L1638.9 1356.0 L1639.4 1353.8 L1640.0 1351.7 L1642.5 1350.0 L1645.9 1348.6 L1649.6 1347.3 L1653.0 1345.9 L1655.4 1344.3 L1608.6 1314.6 L1606.2 1316.2 L1602.8 1317.6 L1599.1 1318.9 L1595.7 1320.3 L1593.2 1322.0 L1592.6 1324.1 L1592.1 1326.3 L1591.6 1328.5 L1593.2 1331.1 L1595.6 1333.9 L1598.3 1336.7 L1600.7 1339.4 Z" fill="#fff" stroke="none"/>
<path d="M1656.2 1335.8 L1654.1 1332.8 L1651.7 1329.6 L1649.6 1326.5 L1648.3 1323.6 L1649.1 1321.4 L1649.8 1319.2 L1650.6 1317.0 L1653.3 1315.5 L1656.9 1314.4 L1660.7 1313.4 L1664.3 1312.3 L1666.9 1310.8 L1620.1 1281.1 L1617.5 1282.6 L1613.9 1283.7 L1610.1 1284.7 L1606.5 1285.8 L1603.8 1287.3 L1603.0 1289.5 L1602.3 1291.7 L1601.5 1293.9 L1602.8 1296.8 L1604.9 1299.9 L1607.3 1303.1 L1609.4 1306.1 Z" fill="#fff" stroke="none"/>
<path d="M1668.6 1302.1 L1666.8 1298.8 L1664.8 1295.4 L1663.0 1292.1 L1662.0 1289.0 L1663.0 1286.8 L1664.0 1284.7 L1665.0 1282.5 L1667.8 1281.2 L1671.5 1280.3 L1675.4 1279.6 L1679.1 1278.8 L1681.8 1277.6 L1635.0 1247.9 L1632.3 1249.1 L1628.6 1249.9 L1624.7 1250.6 L1621.0 1251.5 L1618.2 1252.8 L1617.2 1255.0 L1616.2 1257.1 L1615.2 1259.3 L1616.2 1262.4 L1618.0 1265.7 L1620.0 1269.1 L1621.8 1272.4 Z" fill="#fff" stroke="none"/>
<path d="M1684.4 1268.9 L1682.9 1265.4 L1681.3 1261.8 L1679.8 1258.3 L1679.1 1255.1 L1680.3 1253.0 L1681.5 1250.9 L1682.7 1248.8 L1685.7 1247.7 L1689.4 1247.2 L1693.4 1246.8 L1697.2 1246.3 L1700.0 1245.3 L1653.2 1215.6 L1650.4 1216.6 L1646.6 1217.1 L1642.6 1217.5 L1638.9 1218.0 L1635.9 1219.1 L1634.7 1221.2 L1633.5 1223.3 L1632.3 1225.4 L1633.0 1228.6 L1634.5 1232.1 L1636.1 1235.7 L1637.6 1239.2 Z" fill="#fff" stroke="none"/>
<path d="M1703.4 1236.8 L1702.2 1233.2 L1700.9 1229.5 L1699.7 1225.8 L1699.3 1222.6 L1700.7 1220.6 L1702.1 1218.6 L1703.4 1216.6 L1706.5 1215.8 L1710.3 1215.6 L1714.3 1215.6 L1718.1 1215.5 L1721.0 1214.7 L1674.2 1185.0 L1671.3 1185.8 L1667.5 1185.9 L1663.5 1185.9 L1659.7 1186.1 L1656.6 1186.9 L1655.3 1188.9 L1653.9 1190.9 L1652.5 1192.9 L1652.9 1196.1 L1654.1 1199.8 L1655.4 1203.5 L1656.6 1207.1 Z" fill="#fff" stroke="none"/>
<path d="M1725.0 1206.6 L1724.2 1203.0 L1723.1 1199.1 L1722.3 1195.4 L1722.2 1192.2 L1723.7 1190.4 L1725.2 1188.5 L1726.8 1186.7 L1729.8 1186.2 L1733.6 1186.4 L1737.6 1186.8 L1741.3 1187.0 L1744.2 1186.5 L1697.4 1156.8 L1694.5 1157.3 L1690.8 1157.1 L1686.8 1156.7 L1683.0 1156.5 L1680.0 1157.0 L1678.4 1158.8 L1676.9 1160.7 L1675.4 1162.5 L1675.5 1165.7 L1676.3 1169.4 L1677.4 1173.3 L1678.2 1176.9 Z" fill="#fff" stroke="none"/>
<path d="M1748.9 1179.0 L1748.3 1175.3 L1747.6 1171.4 L1747.1 1167.7 L1747.2 1164.5 L1748.9 1162.9 L1750.5 1161.2 L1752.2 1159.6 L1755.2 1159.5 L1758.9 1160.0 L1762.8 1160.8 L1766.4 1161.5 L1769.3 1161.3 L1722.5 1131.6 L1719.6 1131.8 L1716.0 1131.1 L1712.1 1130.3 L1708.4 1129.8 L1705.4 1129.9 L1703.7 1131.5 L1702.1 1133.2 L1700.4 1134.8 L1700.3 1138.0 L1700.8 1141.7 L1701.5 1145.6 L1702.1 1149.3 Z" fill="#fff" stroke="none"/>
<path d="M1774.4 1154.5 L1774.2 1150.8 L1773.8 1147.0 L1773.6 1143.2 L1773.9 1140.1 L1775.7 1138.7 L1777.4 1137.3 L1779.1 1135.9 L1782.1 1136.1 L1785.7 1137.1 L1789.3 1138.4 L1792.8 1139.5 L1795.6 1139.7 L1748.8 1110.0 L1746.0 1109.8 L1742.5 1108.7 L1738.9 1107.4 L1735.3 1106.4 L1732.3 1106.2 L1730.6 1107.6 L1728.9 1109.0 L1727.1 1110.4 L1726.8 1113.5 L1727.0 1117.3 L1727.4 1121.1 L1727.6 1124.8 Z" fill="#fff" stroke="none"/>
<path d="M1801.1 1133.7 L1801.1 1130.1 L1801.1 1126.2 L1801.2 1122.6 L1801.7 1119.6 L1803.5 1118.4 L1805.3 1117.3 L1807.1 1116.2 L1810.0 1116.8 L1813.3 1118.2 L1816.7 1119.9 L1819.9 1121.5 L1822.6 1122.1 L1775.8 1092.4 L1773.1 1091.8 L1769.9 1090.2 L1766.5 1088.5 L1763.2 1087.1 L1760.3 1086.5 L1758.5 1087.6 L1756.7 1088.7 L1754.9 1089.9 L1754.4 1092.9 L1754.3 1096.5 L1754.3 1100.4 L1754.3 1104.0 Z" fill="#fff" stroke="none"/>
<path d="M1828.2 1117.0 L1828.6 1113.5 L1828.9 1109.7 L1829.3 1106.1 L1830.1 1103.3 L1831.9 1102.4 L1833.7 1101.6 L1835.5 1100.7 L1838.1 1101.7 L1841.1 1103.7 L1844.2 1105.8 L1847.0 1107.8 L1849.4 1108.8 L1802.6 1079.1 L1800.2 1078.1 L1797.4 1076.1 L1794.3 1074.0 L1791.3 1072.0 L1788.7 1071.0 L1786.9 1071.9 L1785.1 1072.7 L1783.3 1073.6 L1782.5 1076.4 L1782.1 1080.0 L1781.8 1083.8 L1781.4 1087.3 Z" fill="#fff" stroke="none"/>
<path d="M1855.2 1104.7 L1855.9 1101.4 L1856.6 1097.7 L1857.4 1094.3 L1858.4 1091.7 L1860.2 1091.1 L1862.0 1090.5 L1863.8 1090.0 L1866.1 1091.4 L1868.6 1093.8 L1871.2 1096.4 L1873.6 1098.8 L1875.7 1100.2 L1828.9 1070.5 L1826.8 1069.1 L1824.4 1066.7 L1821.8 1064.1 L1819.3 1061.7 L1817.0 1060.3 L1815.2 1060.8 L1813.4 1061.4 L1811.6 1062.0 L1810.6 1064.6 L1809.8 1068.0 L1809.1 1071.7 L1808.4 1075.0 Z" fill="#fff" stroke="none"/>
<path d="M1881.5 1097.2 L1882.5 1094.0 L1883.6 1090.5 L1884.8 1087.3 L1886.2 1084.9 L1887.9 1084.6 L1889.6 1084.4 L1891.3 1084.2 L1893.2 1086.0 L1895.2 1088.8 L1897.1 1091.8 L1898.9 1094.6 L1900.6 1096.4 L1853.8 1066.7 L1852.1 1064.9 L1850.3 1062.1 L1848.4 1059.1 L1846.4 1056.3 L1844.5 1054.5 L1842.8 1054.7 L1841.1 1054.9 L1839.4 1055.2 L1838.0 1057.6 L1836.8 1060.8 L1835.7 1064.3 L1834.7 1067.5 Z" fill="#fff" stroke="none"/>
<path d="M1906.3 1094.4 L1907.8 1091.5 L1909.4 1088.3 L1911.0 1085.3 L1912.7 1083.2 L1914.3 1083.3 L1915.9 1083.3 L1917.5 1083.5 L1919.0 1085.6 L1920.3 1088.7 L1921.4 1092.0 L1922.5 1095.1 L1923.7 1097.2 L1876.9 1067.5 L1875.7 1065.4 L1874.6 1062.3 L1873.5 1059.0 L1872.2 1055.9 L1870.7 1053.8 L1869.1 1053.6 L1867.5 1053.6 L1865.9 1053.5 L1864.2 1055.6 L1862.6 1058.6 L1861.0 1061.8 L1859.5 1064.7 Z" fill="#fff" stroke="none"/>
<path d="M1929.2 1096.4 L1931.2 1093.8 L1933.3 1091.0 L1935.4 1088.4 L1937.5 1086.7 L1939.0 1087.1 L1940.4 1087.5 L1941.9 1087.9 L1942.8 1090.3 L1943.3 1093.6 L1943.6 1097.1 L1943.9 1100.3 L1944.5 1102.5 L1897.7 1072.8 L1897.1 1070.6 L1896.8 1067.4 L1896.5 1063.9 L1896.0 1060.6 L1895.1 1058.2 L1893.6 1057.8 L1892.2 1057.4 L1890.7 1057.0 L1888.6 1058.7 L1886.5 1061.3 L1884.4 1064.1 L1882.4 1066.7 Z" fill="#fff" stroke="none"/>
<path d="M1949.8 1102.9 L1952.3 1100.8 L1954.9 1098.5 L1957.6 1096.5 L1959.9 1095.3 L1961.2 1096.0 L1962.5 1096.7 L1963.8 1097.5 L1964.1 1099.9 L1963.8 1103.2 L1917.0 1073.5 L1917.3 1070.2 L1917.0 1067.8 L1915.7 1067.0 L1914.4 1066.3 L1913.1 1065.6 L1910.8 1066.8 L1908.1 1068.8 L1905.5 1071.1 L1903.0 1073.2 Z" fill="#fff" stroke="none"/>
<path d="M1964.4 1409.1 L1964.1 1409.6 L1963.8 1410.1 L1963.5 1410.5 L1963.2 1411.0 L1962.9 1411.5 L1962.6 1411.9 L1962.3 1412.4 L1962.0 1412.9 L1961.7 1413.3 L1961.1 1413.6 L1960.4 1413.8 L1959.6 1413.9 L1958.8 1414.1 L1958.0 1414.2 L1957.1 1414.3 L1956.3 1414.4 L1955.4 1414.5 L1954.5 1414.5 L1953.6 1414.6 L1952.7 1414.6 L1951.7 1414.7 L1950.8 1414.7 L1950.0 1414.8 L1949.1 1414.8 L1948.2 1414.9 L1947.4 1415.0 L1946.6 1415.1 L1945.9 1415.3 L1945.1 1415.4 L1944.5 1415.6 L1944.2 1416.1 L1943.9 1416.5 L1943.6 1417.0 L1943.3 1417.4 L1943.0 1417.8 L1942.7 1418.3 L1942.4 1418.7 L1942.1 1419.2 L1941.8 1419.6 L1941.5 1420.0 L1941.2 1420.5 L1940.9 1420.9 L1940.5 1421.4 L1940.2 1421.8 L1940.3 1422.5 L1940.4 1423.2 L1940.5 1423.9 L1940.7 1424.7 L1940.9 1425.5 L1941.1 1426.4 L1941.3 1427.2 L1941.6 1428.0 L1941.9 1428.9 L1942.1 1429.8 L1942.4 1430.6 L1942.7 1431.5 L1942.9 1432.4 L1943.2 1433.2 L1943.4 1434.1 L1943.6 1434.9 L1943.8 1435.7 L1943.9 1436.5 L1944.0 1437.3 L1944.1 1438.0 L1944.0 1438.7 L1943.7 1439.1 L1943.4 1439.5 L1943.0 1440.0 L1942.7 1440.4 L1942.4 1440.8 L1942.0 1441.3 L1941.7 1441.7 L1941.4 1442.2 L1941.0 1442.6 L1940.7 1443.0 L1940.4 1443.5 L1940.0 1443.9 L1939.7 1444.3 L1939.3 1444.8 L1938.6 1444.9 L1937.9 1445.0 L1937.1 1445.1 L1936.3 1445.2 L1935.5 1445.2 L1934.6 1445.2 L1933.7 1445.2 L1932.9 1445.2 L1932.0 1445.2 L1931.0 1445.1 L1930.1 1445.1 L1929.2 1445.0 L1928.3 1445.0 L1927.5 1445.0 L1926.6 1445.0 L1925.8 1445.0 L1924.9 1445.0 L1924.1 1445.0 L1923.4 1445.1 L1922.7 1445.2 L1922.1 1445.4 L1921.8 1445.8 L1921.5 1446.3 L1921.1 1446.7 L1920.8 1447.1 L1920.4 1447.5 L1920.1 1447.9 L1919.8 1448.3 L1919.4 1448.7 L1919.1 1449.1 L1918.7 1449.5 L1918.4 1449.9 L1918.1 1450.3 L1917.7 1450.7 L1917.4 1451.1 L1917.4 1451.8 L1917.5 1452.6 L1917.6 1453.3 L1917.7 1454.1 L1917.8 1454.9 L1918.0 1455.8 L1918.1 1456.6 L1918.3 1457.5 L1918.5 1458.4 L1918.7 1459.3 L1918.9 1460.1 L1919.1 1461.0 L1919.3 1461.9 L1919.5 1462.8 L1919.6 1463.6 L1919.7 1464.5 L1919.8 1465.3 L1919.9 1466.0 L1919.9 1466.8 L1919.9 1467.5 L1919.7 1468.1 L1919.4 1468.5 L1919.0 1468.9 L1918.7 1469.3 L1918.3 1469.7 L1917.9 1470.1 L1917.6 1470.5 L1917.2 1470.9 L1916.8 1471.3 L1916.5 1471.7 L1916.1 1472.1 L1915.7 1472.4 L1915.4 1472.8 L1915.0 1473.2 L1914.6 1473.6 L1913.8 1473.6 L1913.1 1473.6 L1912.3 1473.6 L1911.5 1473.6 L1910.7 1473.6 L1909.8 1473.5 L1909.0 1473.4 L1908.1 1473.3 L1907.2 1473.1 L1906.3 1473.0 L1905.4 1472.9 L1904.5 1472.8 L1903.6 1472.6 L1902.8 1472.5 L1901.9 1472.4 L1901.1 1472.3 L1900.3 1472.3 L1899.5 1472.3 L1898.8 1472.2 L1898.1 1472.3 L1897.6 1472.5 L1897.3 1472.9 L1896.9 1473.2 L1896.5 1473.6 L1896.2 1474.0 L1895.8 1474.3 L1895.4 1474.7 L1895.1 1475.1 L1894.7 1475.4 L1894.3 1475.8 L1894.0 1476.1 L1893.6 1476.5 L1893.2 1476.8 L1892.9 1477.2 L1892.6 1477.7 L1892.6 1478.4 L1892.6 1479.1 L1892.6 1479.9 L1892.7 1480.7 L1892.7 1481.5 L1892.8 1482.3 L1892.9 1483.2 L1893.1 1484.1 L1893.2 1484.9 L1893.3 1485.8 L1893.4 1486.7 L1893.5 1487.6 L1893.6 1488.5 L1893.7 1489.3 L1893.8 1490.2 L1893.9 1491.0 L1893.9 1491.8 L1893.9 1492.6 L1893.9 1493.3 L1893.8 1494.0 L1893.5 1494.5 L1893.1 1494.8 L1892.7 1495.2 L1892.3 1495.5 L1891.9 1495.9 L1891.6 1496.2 L1891.2 1496.6 L1890.8 1496.9 L1890.4 1497.3 L1890.0 1497.6 L1889.6 1497.9 L1889.2 1498.3 L1888.8 1498.6 L1888.4 1499.0 L1887.9 1499.2 L1887.2 1499.1 L1886.5 1499.1 L1885.7 1499.0 L1884.9 1498.8 L1884.1 1498.7 L1883.3 1498.5 L1882.4 1498.3 L1881.6 1498.1 L1880.7 1497.9 L1879.9 1497.7 L1879.0 1497.4 L1878.1 1497.2 L1877.3 1497.0 L1876.5 1496.8 L1875.7 1496.6 L1874.9 1496.4 L1874.1 1496.3 L1873.4 1496.1 L1872.6 1496.1 L1872.0 1496.0 L1871.5 1496.3 L1871.2 1496.6 L1870.8 1496.9 L1870.4 1497.2 L1870.0 1497.5 L1869.6 1497.8 L1869.3 1498.1 L1868.9 1498.5 L1868.5 1498.8 L1868.1 1499.1 L1867.7 1499.4 L1867.3 1499.7 L1867.0 1500.0 L1866.6 1500.3 L1866.4 1500.8 L1866.3 1501.5 L1866.2 1502.2 L1866.2 1503.0 L1866.2 1503.8 L1866.2 1504.6 L1866.2 1505.4 L1866.3 1506.3 L1866.3 1507.1 L1866.4 1508.0 L1866.4 1508.9 L1866.5 1509.8 L1866.5 1510.7 L1866.5 1511.5 L1866.6 1512.4 L1866.6 1513.2 L1866.5 1514.0 L1866.5 1514.8 L1866.4 1515.5 L1866.3 1516.2 L1866.2 1516.9 L1865.8 1517.2 L1865.4 1517.5 L1865.0 1517.8 L1864.6 1518.1 L1864.2 1518.4 L1863.8 1518.7 L1863.4 1519.0 L1863.0 1519.3 L1862.6 1519.6 L1862.2 1519.9 L1861.8 1520.2 L1861.4 1520.4 L1861.0 1520.7 L1860.6 1521.0 L1860.0 1521.0 L1859.3 1520.9 L1858.6 1520.8 L1857.8 1520.6 L1857.1 1520.3 L1856.3 1520.1 L1855.5 1519.8 L1854.7 1519.5 L1853.9 1519.2 L1853.1 1518.8 L1852.3 1518.5 L1851.5 1518.2 L1850.7 1517.8 L1849.9 1517.5 L1849.1 1517.2 L1848.3 1516.9 L1847.6 1516.7 L1846.9 1516.4 L1846.2 1516.2 L1845.5 1516.1 L1844.9 1516.0 L1844.5 1516.2 L1844.1 1516.5 L1843.7 1516.7 L1843.3 1517.0 L1842.9 1517.2 L1842.5 1517.5 L1842.2 1517.7 L1841.8 1518.0 L1841.4 1518.2 L1841.0 1518.5 L1840.6 1518.7 L1840.2 1519.0 L1839.8 1519.2 L1839.4 1519.5 L1839.2 1520.0 L1839.1 1520.7 L1839.0 1521.4 L1838.9 1522.1 L1838.8 1522.9 L1838.8 1523.7 L1838.7 1524.6 L1838.7 1525.4 L1838.7 1526.3 L1838.7 1527.1 L1838.6 1528.0 L1838.6 1528.9 L1838.6 1529.7 L1838.5 1530.6 L1838.5 1531.4 L1838.4 1532.2 L1838.3 1533.0 L1838.2 1533.7 L1838.1 1534.4 L1837.9 1535.1 L1837.7 1535.7 L1837.3 1535.9 L1836.8 1536.1 L1836.4 1536.4 L1836.0 1536.6 L1835.6 1536.8 L1835.2 1537.1 L1834.8 1537.3 L1834.4 1537.5 L1834.0 1537.7 L1833.6 1538.0 L1833.1 1538.2 L1832.7 1538.4 L1832.3 1538.7 L1831.9 1538.9 L1831.3 1538.7 L1830.6 1538.5 L1830.0 1538.2 L1829.3 1537.9 L1828.6 1537.6 L1827.8 1537.2 L1827.1 1536.8 L1826.4 1536.4 L1825.7 1536.0 L1824.9 1535.5 L1824.2 1535.1 L1823.4 1534.7 L1822.7 1534.2 L1822.0 1533.8 L1821.3 1533.4 L1820.6 1533.0 L1819.9 1532.6 L1819.3 1532.3 L1818.6 1532.0 L1818.0 1531.8 L1817.5 1531.7 L1817.1 1531.9 L1816.7 1532.1 L1816.3 1532.3 L1815.9 1532.5 L1815.5 1532.7 L1815.1 1532.8 L1814.8 1533.0 L1814.4 1533.2 L1814.0 1533.4 L1813.6 1533.6 L1813.2 1533.8 L1812.8 1533.9 L1812.4 1534.1 L1812.0 1534.3 L1811.8 1534.9 L1811.7 1535.6 L1811.5 1536.3 L1811.4 1537.0 L1811.2 1537.7 L1811.1 1538.5 L1811.0 1539.3 L1810.9 1540.2 L1810.8 1541.0 L1810.7 1541.8 L1810.5 1542.7 L1810.4 1543.5 L1810.3 1544.4 L1810.2 1545.2 L1810.0 1546.0 L1809.9 1546.7 L1809.7 1547.5 L1809.5 1548.2 L1809.3 1548.9 L1809.1 1549.5 L1808.8 1549.9 L1808.4 1550.1 L1808.0 1550.2 L1807.6 1550.4 L1807.2 1550.6 L1806.7 1550.7 L1806.3 1550.9 L1805.9 1551.1 L1805.5 1551.2 L1805.1 1551.4 L1804.7 1551.5 L1804.3 1551.7 L1803.9 1551.9 L1803.5 1552.0 L1803.0 1552.1 L1802.4 1551.8 L1801.8 1551.5 L1801.2 1551.1 L1800.6 1550.7 L1800.0 1550.2 L1799.4 1549.8 L1798.7 1549.3 L1798.1 1548.7 L1797.4 1548.2 L1796.8 1547.6 L1796.2 1547.1 L1795.5 1546.5 L1794.9 1546.0 L1794.3 1545.5 L1793.7 1545.0 L1793.1 1544.5 L1792.5 1544.1 L1791.9 1543.6 L1791.3 1543.3 L1790.8 1542.9 L1790.4 1542.9 L1790.0 1543.0 L1789.6 1543.1 L1789.2 1543.2 L1788.8 1543.4 L1788.5 1543.5 L1788.1 1543.6 L1787.7 1543.7 L1787.3 1543.8 L1786.9 1544.0 L1786.6 1544.1 L1786.2 1544.2 L1785.8 1544.3 L1785.4 1544.4 L1785.1 1544.6 L1784.8 1545.2 L1784.6 1545.8 L1784.4 1546.5 L1784.1 1547.2 L1783.9 1547.9 L1783.7 1548.7 L1783.5 1549.4 L1783.3 1550.2 L1783.1 1551.0 L1782.9 1551.9 L1782.7 1552.7 L1782.5 1553.5 L1782.3 1554.3 L1782.1 1555.0 L1781.9 1555.8 L1781.6 1556.5 L1781.4 1557.2 L1781.1 1557.9 L1780.8 1558.5 L1780.6 1559.1 L1780.2 1559.3 L1779.8 1559.4 L1779.4 1559.5 L1779.0 1559.6 L1778.6 1559.7 L1778.2 1559.8 L1777.8 1559.9 L1777.4 1560.0 L1777.0 1560.0 L1776.6 1560.1 L1776.1 1560.2 L1775.7 1560.3 L1775.3 1560.4 L1774.9 1560.5 L1774.5 1560.4 L1774.0 1560.0 L1773.5 1559.6 L1773.0 1559.1 L1772.5 1558.6 L1772.0 1558.0 L1771.4 1557.4 L1770.9 1556.8 L1770.4 1556.2 L1769.9 1555.5 L1769.3 1554.9 L1768.8 1554.2 L1768.3 1553.6 L1767.8 1553.0 L1767.3 1552.4 L1766.8 1551.8 L1766.4 1551.2 L1765.9 1550.7 L1765.4 1550.2 L1765.0 1549.7 L1764.5 1549.3 L1764.2 1549.3 L1763.8 1549.3 L1763.4 1549.4 L1763.1 1549.4 L1762.7 1549.5 L1762.3 1549.5 L1762.0 1549.6 L1761.6 1549.6 L1761.2 1549.7 L1760.9 1549.7 L1760.5 1549.8 L1760.2 1549.8 L1759.8 1549.9 L1759.4 1549.9 L1759.1 1550.2 L1758.8 1550.7 L1758.5 1551.3 L1758.2 1551.9 L1757.9 1552.6 L1757.6 1553.2 L1757.3 1553.9 L1757.0 1554.7 L1756.7 1555.4 L1756.4 1556.2 L1756.1 1557.0 L1755.8 1557.7 L1755.5 1558.5 L1755.2 1559.2 L1754.8 1559.9 L1754.5 1560.6 L1754.2 1561.3 L1753.8 1561.9 L1753.5 1562.5 L1753.1 1563.0 L1752.8 1563.5 L1752.4 1563.6 L1752.0 1563.6 L1751.6 1563.7 L1751.2 1563.7 L1750.8 1563.7 L1750.4 1563.7 L1750.1 1563.7 L1749.7 1563.7 L1749.3 1563.8 L1748.9 1563.8 L1748.5 1563.8 L1748.1 1563.8 L1747.7 1563.8 L1747.4 1563.8 L1747.0 1563.6 L1746.6 1563.1 L1746.2 1562.5 L1745.8 1562.0 L1745.4 1561.3 L1745.0 1560.7 L1744.6 1560.0 L1744.3 1559.3 L1743.9 1558.6 L1743.5 1557.9 L1743.2 1557.1 L1742.8 1556.4 L1742.5 1555.7 L1742.1 1555.0 L1741.8 1554.3 L1741.4 1553.6 L1741.1 1553.0 L1740.8 1552.4 L1740.4 1551.8 L1740.1 1551.3 L1739.8 1550.8 L1739.4 1550.8 L1739.1 1550.8 L1738.8 1550.8 L1738.4 1550.8 L1738.1 1550.7 L1737.7 1550.7 L1737.4 1550.7 L1737.1 1550.7 L1736.7 1550.7 L1736.4 1550.7 L1736.1 1550.6 L1735.7 1550.6 L1735.4 1550.6 L1735.1 1550.6 L1734.7 1550.9 L1734.3 1551.3 L1733.9 1551.9 L1733.6 1552.4 L1733.2 1553.0 L1732.8 1553.6 L1732.4 1554.3 L1731.9 1555.0 L1731.5 1555.6 L1731.1 1556.3 L1730.7 1557.0 L1730.3 1557.7 L1729.8 1558.4 L1729.4 1559.0 L1728.9 1559.7 L1728.5 1560.3 L1728.1 1560.9 L1727.6 1561.4 L1727.2 1561.9 L1726.8 1562.4 L1726.4 1562.7 L1726.0 1562.7 L1725.6 1562.6 L1725.3 1562.5 L1724.9 1562.5 L1724.5 1562.4 L1724.2 1562.4 L1723.8 1562.3 L1723.4 1562.3 L1723.1 1562.2 L1722.7 1562.1 L1722.4 1562.1 L1722.0 1562.0 L1721.6 1562.0 L1721.3 1561.9 L1721.0 1561.4 L1720.7 1560.9 L1720.5 1560.3 L1720.3 1559.6 L1720.0 1558.9 L1719.8 1558.2 L1719.6 1557.5 L1719.4 1556.7 L1719.2 1555.9 L1719.0 1555.1 L1718.9 1554.3 L1718.7 1553.6 L1718.5 1552.8 L1718.3 1552.0 L1718.2 1551.3 L1718.0 1550.6 L1717.8 1549.9 L1717.7 1549.2 L1717.5 1548.6 L1717.3 1548.1 L1717.1 1547.7 L1716.8 1547.6 L1716.4 1547.5 L1716.1 1547.4 L1715.8 1547.3 L1715.5 1547.3 L1715.2 1547.2 L1714.9 1547.1 L1714.6 1547.0 L1714.3 1546.9 L1714.0 1546.8 L1713.7 1546.7 L1713.4 1546.7 L1713.1 1546.6 L1712.8 1546.5 L1712.4 1546.8 L1711.9 1547.2 L1711.4 1547.6 L1711.0 1548.1 L1710.5 1548.6 L1709.9 1549.1 L1709.4 1549.7 L1708.9 1550.3 L1708.3 1550.8 L1707.8 1551.4 L1707.2 1552.0 L1706.7 1552.6 L1706.1 1553.2 L1705.6 1553.7 L1705.0 1554.2 L1704.5 1554.7 L1703.9 1555.2 L1703.4 1555.6 L1702.9 1556.0 L1702.4 1556.3 L1701.9 1556.5 L1701.6 1556.4 L1701.3 1556.2 L1700.9 1556.1 L1700.6 1556.0 L1700.3 1555.8 L1700.0 1555.7 L1699.6 1555.6 L1699.3 1555.4 L1699.0 1555.3 L1698.6 1555.2 L1698.3 1555.0 L1698.0 1554.9 L1697.7 1554.7 L1697.4 1554.6 L1697.2 1554.0 L1697.1 1553.4 L1697.0 1552.7 L1697.0 1552.0 L1696.9 1551.3 L1696.9 1550.6 L1696.9 1549.8 L1696.9 1549.0 L1696.9 1548.2 L1696.9 1547.4 L1696.9 1546.6 L1696.9 1545.8 L1697.0 1545.0 L1697.0 1544.2 L1697.0 1543.5 L1697.0 1542.8 L1697.0 1542.1 L1697.0 1541.4 L1697.0 1540.8 L1696.9 1540.2 L1696.8 1539.9 L1696.5 1539.7 L1696.2 1539.6 L1695.9 1539.4 L1695.7 1539.3 L1695.4 1539.2 L1695.1 1539.0 L1694.9 1538.9 L1694.6 1538.7 L1694.3 1538.6 L1694.1 1538.4 L1693.8 1538.3 L1693.5 1538.1 L1693.3 1537.9 L1693.0 1537.9 L1692.5 1538.1 L1691.9 1538.4 L1691.4 1538.7 L1690.8 1539.1 L1690.2 1539.5 L1689.6 1539.9 L1688.9 1540.3 L1688.3 1540.7 L1687.6 1541.2 L1686.9 1541.6 L1686.3 1542.0 L1685.6 1542.5 L1684.9 1542.9 L1684.3 1543.3 L1683.6 1543.7 L1683.0 1544.0 L1682.3 1544.3 L1681.7 1544.6 L1681.1 1544.8 L1680.6 1545.0 L1680.2 1545.0 L1679.9 1544.8 L1679.6 1544.6 L1679.3 1544.4 L1679.0 1544.2 L1678.7 1544.0 L1678.5 1543.8 L1678.2 1543.6 L1677.9 1543.4 L1677.6 1543.1 L1677.3 1542.9 L1677.0 1542.7 L1676.8 1542.5 L1676.5 1542.3 L1676.3 1542.0 L1676.3 1541.4 L1676.4 1540.7 L1676.4 1540.1 L1676.5 1539.4 L1676.7 1538.7 L1676.8 1537.9 L1677.0 1537.2 L1677.2 1536.4 L1677.4 1535.6 L1677.6 1534.9 L1677.8 1534.1 L1678.0 1533.3 L1678.2 1532.6 L1678.4 1531.8 L1678.6 1531.1 L1678.8 1530.4 L1679.0 1529.7 L1679.1 1529.1 L1679.2 1528.5 L1679.3 1527.9 L1679.1 1527.6 L1678.9 1527.4 L1678.7 1527.2 L1678.5 1527.0 L1678.2 1526.8 L1678.0 1526.6 L1677.8 1526.4 L1677.5 1526.2 L1677.3 1526.0 L1677.1 1525.8 L1676.9 1525.5 L1676.6 1525.3 L1676.4 1525.1 L1676.2 1524.9 L1675.8 1524.8 L1675.3 1524.9 L1674.7 1525.1 L1674.0 1525.3 L1673.4 1525.5 L1672.7 1525.7 L1672.0 1526.0 L1671.2 1526.2 L1670.5 1526.5 L1669.8 1526.8 L1669.0 1527.0 L1668.2 1527.3 L1667.5 1527.5 L1666.7 1527.8 L1666.0 1528.0 L1665.3 1528.2 L1664.5 1528.4 L1663.9 1528.5 L1663.2 1528.6 L1662.6 1528.7 L1662.0 1528.8 L1661.7 1528.5 L1661.5 1528.3 L1661.2 1528.0 L1661.0 1527.7 L1660.8 1527.5 L1660.5 1527.2 L1660.3 1526.9 L1660.1 1526.6 L1659.8 1526.4 L1659.6 1526.1 L1659.4 1525.8 L1659.1 1525.5 L1658.9 1525.3 L1658.7 1525.0 L1658.6 1524.5 L1658.8 1523.9 L1659.0 1523.3 L1659.2 1522.7 L1659.5 1522.0 L1659.8 1521.3 L1660.1 1520.7 L1660.4 1519.9 L1660.8 1519.2 L1661.2 1518.5 L1661.5 1517.8 L1661.9 1517.1 L1662.3 1516.4 L1662.7 1515.7 L1663.0 1515.0 L1663.4 1514.4 L1663.7 1513.7 L1664.0 1513.1 L1664.2 1512.5 L1664.5 1511.9 L1664.7 1511.4 L1664.5 1511.1 L1664.3 1510.9 L1664.1 1510.6 L1663.9 1510.3 L1663.7 1510.0 L1663.6 1509.8 L1663.4 1509.5 L1663.2 1509.2 L1663.0 1509.0 L1662.8 1508.7 L1662.6 1508.4 L1662.5 1508.1 L1662.3 1507.9 L1662.1 1507.6 L1661.7 1507.5 L1661.1 1507.5 L1660.4 1507.5 L1659.8 1507.5 L1659.1 1507.6 L1658.3 1507.6 L1657.6 1507.7 L1656.8 1507.7 L1656.0 1507.8 L1655.2 1507.9 L1654.4 1508.0 L1653.6 1508.0 L1652.8 1508.1 L1652.0 1508.2 L1651.2 1508.2 L1650.4 1508.2 L1649.7 1508.2 L1649.0 1508.2 L1648.3 1508.1 L1647.7 1508.1 L1647.2 1507.9 L1647.0 1507.6 L1646.8 1507.3 L1646.6 1507.0 L1646.4 1506.6 L1646.3 1506.3 L1646.1 1506.0 L1645.9 1505.6 L1645.7 1505.3 L1645.5 1505.0 L1645.4 1504.6 L1645.2 1504.3 L1645.0 1504.0 L1644.8 1503.6 L1644.7 1503.3 L1644.8 1502.8 L1645.1 1502.2 L1645.4 1501.6 L1645.8 1501.0 L1646.2 1500.4 L1646.6 1499.8 L1647.1 1499.2 L1647.6 1498.5 L1648.0 1497.9 L1648.6 1497.2 L1649.1 1496.6 L1649.6 1496.0 L1650.1 1495.3 L1650.6 1494.7 L1651.0 1494.1 L1651.5 1493.5 L1651.9 1492.9 L1652.3 1492.4 L1652.7 1491.8 L1653.0 1491.3 L1653.2 1490.8 L1653.1 1490.5 L1652.9 1490.2 L1652.8 1489.9 L1652.6 1489.5 L1652.5 1489.2 L1652.4 1488.9 L1652.2 1488.6 L1652.1 1488.2 L1652.0 1487.9 L1651.8 1487.6 L1651.7 1487.3 L1651.6 1486.9 L1651.4 1486.6 L1651.3 1486.3 L1650.8 1486.1 L1650.2 1485.9 L1649.5 1485.8 L1648.9 1485.7 L1648.1 1485.5 L1647.4 1485.4 L1646.6 1485.3 L1645.8 1485.2 L1645.0 1485.1 L1644.2 1485.0 L1643.4 1484.9 L1642.6 1484.8 L1641.8 1484.6 L1641.0 1484.5 L1640.2 1484.4 L1639.5 1484.2 L1638.8 1484.0 L1638.1 1483.9 L1637.4 1483.7 L1636.8 1483.4 L1636.4 1483.2 L1636.3 1482.8 L1636.2 1482.4 L1636.0 1482.0 L1635.9 1481.6 L1635.8 1481.3 L1635.7 1480.9 L1635.6 1480.5 L1635.4 1480.1 L1635.3 1479.7 L1635.2 1479.3 L1635.1 1478.9 L1635.0 1478.6 L1634.9 1478.2 L1634.8 1477.8 L1635.1 1477.3 L1635.5 1476.7 L1635.9 1476.2 L1636.4 1475.7 L1636.9 1475.1 L1637.4 1474.5 L1638.0 1474.0 L1638.6 1473.4 L1639.2 1472.8 L1639.8 1472.3 L1640.4 1471.7 L1641.0 1471.2 L1641.6 1470.6 L1642.2 1470.1 L1642.7 1469.5 L1643.3 1469.0 L1643.8 1468.5 L1644.3 1468.0 L1644.7 1467.5 L1645.1 1467.0 L1645.3 1466.5 L1645.2 1466.2 L1645.1 1465.8 L1645.0 1465.4 L1644.9 1465.0 L1644.8 1464.7 L1644.8 1464.3 L1644.7 1463.9 L1644.6 1463.5 L1644.5 1463.2 L1644.4 1462.8 L1644.4 1462.4 L1644.3 1462.0 L1644.2 1461.7 L1644.1 1461.3 L1643.5 1461.0 L1642.9 1460.7 L1642.3 1460.4 L1641.7 1460.2 L1641.0 1459.9 L1640.2 1459.6 L1639.5 1459.3 L1638.7 1459.1 L1637.9 1458.8 L1637.1 1458.5 L1636.3 1458.3 L1635.6 1458.0 L1634.8 1457.7 L1634.0 1457.4 L1633.3 1457.1 L1632.6 1456.8 L1631.9 1456.5 L1631.3 1456.1 L1630.7 1455.8 L1630.1 1455.5 L1629.9 1455.1 L1629.8 1454.6 L1629.7 1454.2 L1629.7 1453.8 L1629.6 1453.4 L1629.6 1452.9 L1629.5 1452.5 L1629.4 1452.1 L1629.4 1451.7 L1629.3 1451.2 L1629.3 1450.8 L1629.2 1450.4 L1629.2 1450.0 L1629.1 1449.5 L1629.2 1449.1 L1629.6 1448.6 L1630.1 1448.1 L1630.6 1447.6 L1631.1 1447.1 L1631.7 1446.6 L1632.3 1446.1 L1633.0 1445.6 L1633.7 1445.1 L1634.3 1444.6 L1635.0 1444.1 L1635.7 1443.7 L1636.4 1443.2 L1637.1 1442.7 L1637.7 1442.2 L1638.4 1441.7 L1639.0 1441.3 L1639.5 1440.8 L1640.1 1440.3 L1640.6 1439.9 L1641.0 1439.4 L1641.1 1439.0 L1641.1 1438.6 L1641.1 1438.2 L1641.0 1437.7 L1641.0 1437.3 L1641.0 1436.9 L1641.0 1436.5 L1640.9 1436.1 L1640.9 1435.7 L1640.9 1435.2 L1640.9 1434.8 L1640.8 1434.4 L1640.8 1434.0 L1640.8 1433.6 L1640.6 1433.2 L1640.1 1432.8 L1639.6 1432.4 L1639.0 1431.9 L1638.3 1431.5 L1637.7 1431.1 L1637.0 1430.7 L1636.3 1430.3 L1635.6 1429.9 L1634.8 1429.5 L1634.1 1429.1 L1633.3 1428.7 L1632.6 1428.2 L1631.9 1427.8 L1631.2 1427.4 L1630.5 1426.9 L1629.9 1426.5 L1629.2 1426.1 L1628.7 1425.6 L1628.1 1425.2 L1627.7 1424.7 L1627.6 1424.3 L1627.6 1423.8 L1627.5 1423.3 L1627.5 1422.9 L1627.5 1422.4 L1627.6 1422.0 L1627.6 1421.5 L1627.6 1421.1 L1627.6 1420.6 L1627.6 1420.1 L1627.6 1419.7 L1627.6 1419.2 L1627.6 1418.8 L1627.6 1418.3 L1627.8 1417.8 L1628.3 1417.4 L1628.9 1416.9 L1629.5 1416.5 L1630.1 1416.0 L1630.7 1415.6 L1631.4 1415.2 L1632.1 1414.7 L1632.9 1414.3 L1633.6 1413.9 L1634.4 1413.4 L1635.1 1413.0 L1635.9 1412.6 L1636.6 1412.2 L1637.3 1411.8 L1638.0 1411.3 L1638.6 1410.9 L1639.3 1410.5 L1639.9 1410.1 L1640.4 1409.7 L1640.9 1409.2 L1641.0 1408.8 L1641.0 1408.4 L1641.0 1407.9 L1641.1 1407.5 L1641.1 1407.0 L1641.1 1406.6 L1641.1 1406.1 L1641.2 1405.7 L1641.2 1405.2 L1641.2 1404.8 L1641.3 1404.3 L1641.3 1403.9 L1641.3 1403.4 L1641.4 1403.0 L1641.1 1402.5 L1640.7 1402.0 L1640.2 1401.5 L1639.7 1401.0 L1639.1 1400.5 L1638.5 1399.9 L1637.8 1399.4 L1637.2 1398.9 L1636.5 1398.4 L1635.8 1397.8 L1635.1 1397.3 L1634.5 1396.7 L1633.8 1396.2 L1633.1 1395.7 L1632.5 1395.1 L1631.9 1394.6 L1631.3 1394.0 L1630.8 1393.5 L1630.3 1392.9 L1629.8 1392.4 L1629.4 1391.9 L1629.5 1391.4 L1629.5 1390.9 L1629.6 1390.4 L1629.7 1389.9 L1629.7 1389.5 L1629.8 1389.0 L1629.8 1388.5 L1629.9 1388.0 L1630.0 1387.5 L1630.0 1387.0 L1630.1 1386.6 L1630.2 1386.1 L1630.2 1385.6 L1630.3 1385.1 L1630.7 1384.7 L1631.3 1384.2 L1631.9 1383.8 L1632.5 1383.4 L1633.2 1383.1 L1633.9 1382.7 L1634.7 1382.3 L1635.5 1381.9 L1636.2 1381.6 L1637.0 1381.2 L1637.8 1380.8 L1638.6 1380.5 L1639.4 1380.1 L1640.2 1379.7 L1640.9 1379.4 L1641.7 1379.0 L1642.4 1378.6 L1643.0 1378.3 L1643.7 1377.9 L1644.2 1377.5 L1644.7 1377.1 L1644.8 1376.6 L1644.9 1376.2 L1645.0 1375.7 L1645.1 1375.2 L1645.2 1374.8 L1645.2 1374.3 L1645.3 1373.8 L1645.4 1373.4 L1645.5 1372.9 L1645.6 1372.4 L1645.7 1371.9 L1645.8 1371.5 L1645.9 1371.0 L1646.0 1370.5 L1645.7 1370.0 L1645.3 1369.4 L1644.8 1368.8 L1644.4 1368.2 L1643.8 1367.6 L1643.3 1367.0 L1642.7 1366.4 L1642.1 1365.7 L1641.5 1365.1 L1640.9 1364.5 L1640.3 1363.8 L1639.7 1363.2 L1639.1 1362.6 L1638.5 1361.9 L1638.0 1361.3 L1637.4 1360.6 L1636.9 1360.0 L1636.5 1359.4 L1636.1 1358.8 L1635.7 1358.2 L1635.5 1357.6 L1635.6 1357.1 L1635.7 1356.6 L1635.8 1356.1 L1635.9 1355.6 L1636.0 1355.1 L1636.2 1354.6 L1636.3 1354.1 L1636.4 1353.6 L1636.5 1353.1 L1636.6 1352.6 L1636.8 1352.1 L1636.9 1351.6 L1637.0 1351.1 L1637.1 1350.6 L1637.7 1350.2 L1638.3 1349.9 L1639.0 1349.5 L1639.7 1349.2 L1640.4 1348.8 L1641.2 1348.5 L1642.0 1348.2 L1642.8 1347.9 L1643.6 1347.6 L1644.5 1347.3 L1645.3 1347.0 L1646.2 1346.7 L1647.0 1346.4 L1647.8 1346.1 L1648.6 1345.8 L1649.3 1345.5 L1650.1 1345.1 L1650.8 1344.8 L1651.4 1344.5 L1652.1 1344.1 L1652.5 1343.7 L1652.6 1343.3 L1652.8 1342.8 L1652.9 1342.3 L1653.0 1341.8 L1653.2 1341.3 L1653.3 1340.8 L1653.5 1340.4 L1653.6 1339.9 L1653.8 1339.4 L1653.9 1338.9 L1654.0 1338.4 L1654.2 1337.9 L1654.3 1337.5 L1654.5 1337.0 L1654.2 1336.3 L1653.8 1335.7 L1653.4 1335.1 L1653.0 1334.4 L1652.6 1333.7 L1652.1 1333.0 L1651.6 1332.3 L1651.1 1331.6 L1650.5 1330.9 L1650.0 1330.2 L1649.5 1329.5 L1648.9 1328.7 L1648.4 1328.0 L1647.9 1327.3 L1647.4 1326.6 L1647.0 1325.9 L1646.6 1325.2 L1646.2 1324.5 L1645.8 1323.9 L1645.5 1323.2 L1645.5 1322.6 L1645.7 1322.1 L1645.8 1321.6 L1646.0 1321.1 L1646.2 1320.6 L1646.4 1320.1 L1646.5 1319.6 L1646.7 1319.1 L1646.9 1318.6 L1647.1 1318.1 L1647.2 1317.6 L1647.4 1317.1 L1647.6 1316.6 L1647.8 1316.1 L1648.0 1315.6 L1648.7 1315.3 L1649.3 1315.0 L1650.1 1314.7 L1650.8 1314.4 L1651.6 1314.1 L1652.4 1313.8 L1653.2 1313.6 L1654.1 1313.3 L1654.9 1313.1 L1655.8 1312.9 L1656.7 1312.6 L1657.6 1312.4 L1658.4 1312.2 L1659.2 1311.9 L1660.1 1311.7 L1660.9 1311.4 L1661.6 1311.1 L1662.3 1310.9 L1663.0 1310.6 L1663.7 1310.3 L1664.0 1309.9 L1664.2 1309.4 L1664.4 1308.9 L1664.6 1308.4 L1664.8 1307.9 L1665.0 1307.4 L1665.2 1307.0 L1665.4 1306.5 L1665.6 1306.0 L1665.8 1305.5 L1666.0 1305.0 L1666.2 1304.5 L1666.4 1304.1 L1666.6 1303.6 L1666.7 1303.0 L1666.4 1302.4 L1666.1 1301.7 L1665.8 1301.0 L1665.5 1300.3 L1665.1 1299.5 L1664.7 1298.8 L1664.2 1298.0 L1663.8 1297.2 L1663.3 1296.5 L1662.9 1295.7 L1662.4 1294.9 L1662.0 1294.1 L1661.5 1293.3 L1661.1 1292.6 L1660.7 1291.8 L1660.3 1291.1 L1660.0 1290.3 L1659.7 1289.6 L1659.4 1288.9 L1659.2 1288.2 L1659.3 1287.6 L1659.5 1287.1 L1659.8 1286.6 L1660.0 1286.1 L1660.2 1285.7 L1660.4 1285.2 L1660.7 1284.7 L1660.9 1284.2 L1661.1 1283.7 L1661.3 1283.2 L1661.6 1282.7 L1661.8 1282.2 L1662.0 1281.7 L1662.3 1281.2 L1662.7 1280.8 L1663.3 1280.5 L1664.1 1280.2 L1664.8 1280.0 L1665.6 1279.8 L1666.4 1279.5 L1667.3 1279.4 L1668.1 1279.2 L1669.0 1279.0 L1669.9 1278.8 L1670.8 1278.7 L1671.7 1278.5 L1672.6 1278.3 L1673.4 1278.2 L1674.3 1278.0 L1675.1 1277.8 L1676.0 1277.6 L1676.7 1277.4 L1677.5 1277.2 L1678.2 1276.9 L1678.8 1276.7 L1679.2 1276.2 L1679.4 1275.8 L1679.6 1275.3 L1679.9 1274.8 L1680.1 1274.3 L1680.4 1273.9 L1680.6 1273.4 L1680.9 1272.9 L1681.1 1272.4 L1681.3 1272.0 L1681.6 1271.5 L1681.8 1271.0 L1682.1 1270.6 L1682.3 1270.1 L1682.4 1269.5 L1682.2 1268.8 L1682.0 1268.1 L1681.7 1267.3 L1681.4 1266.6 L1681.1 1265.8 L1680.7 1265.0 L1680.4 1264.2 L1680.0 1263.4 L1679.6 1262.5 L1679.2 1261.7 L1678.9 1260.9 L1678.5 1260.1 L1678.1 1259.2 L1677.8 1258.4 L1677.5 1257.6 L1677.2 1256.8 L1676.9 1256.1 L1676.7 1255.3 L1676.5 1254.6 L1676.4 1253.9 L1676.6 1253.4 L1676.9 1252.9 L1677.2 1252.4 L1677.4 1251.9 L1677.7 1251.5 L1678.0 1251.0 L1678.3 1250.5 L1678.5 1250.0 L1678.8 1249.5 L1679.1 1249.1 L1679.4 1248.6 L1679.6 1248.1 L1679.9 1247.6 L1680.2 1247.2 L1680.7 1246.8 L1681.4 1246.6 L1682.2 1246.4 L1683.0 1246.2 L1683.8 1246.1 L1684.6 1245.9 L1685.5 1245.8 L1686.4 1245.7 L1687.3 1245.6 L1688.2 1245.5 L1689.1 1245.4 L1690.0 1245.3 L1690.9 1245.2 L1691.8 1245.1 L1692.6 1245.0 L1693.5 1244.9 L1694.3 1244.8 L1695.1 1244.7 L1695.9 1244.5 L1696.6 1244.3 L1697.2 1244.1 L1697.5 1243.6 L1697.8 1243.2 L1698.1 1242.7 L1698.4 1242.3 L1698.6 1241.8 L1698.9 1241.3 L1699.2 1240.9 L1699.5 1240.4 L1699.8 1240.0 L1700.1 1239.5 L1700.4 1239.1 L1700.7 1238.6 L1701.0 1238.2 L1701.2 1237.7 L1701.2 1237.1 L1701.1 1236.4 L1700.9 1235.6 L1700.7 1234.8 L1700.5 1234.1 L1700.3 1233.2 L1700.0 1232.4 L1699.7 1231.6 L1699.4 1230.7 L1699.1 1229.9 L1698.8 1229.0 L1698.5 1228.2 L1698.2 1227.3 L1697.9 1226.5 L1697.6 1225.6 L1697.4 1224.8 L1697.2 1224.0 L1697.0 1223.2 L1696.9 1222.4 L1696.7 1221.7 L1696.7 1221.0 L1697.1 1220.6 L1697.4 1220.1 L1697.7 1219.7 L1698.0 1219.2 L1698.3 1218.7 L1698.6 1218.3 L1698.9 1217.8 L1699.3 1217.4 L1699.6 1216.9 L1699.9 1216.5 L1700.2 1216.0 L1700.5 1215.6 L1700.8 1215.1 L1701.2 1214.7 L1701.8 1214.5 L1702.5 1214.3 L1703.3 1214.2 L1704.1 1214.1 L1704.9 1214.0 L1705.8 1214.0 L1706.7 1213.9 L1707.6 1213.9 L1708.5 1213.9 L1709.4 1213.9 L1710.3 1213.9 L1711.2 1213.9 L1712.1 1213.8 L1713.0 1213.8 L1713.9 1213.8 L1714.7 1213.8 L1715.5 1213.7 L1716.3 1213.6 L1717.1 1213.5 L1717.8 1213.4 L1718.4 1213.2 L1718.7 1212.7 L1719.0 1212.3 L1719.3 1211.9 L1719.7 1211.5 L1720.0 1211.0 L1720.3 1210.6 L1720.6 1210.2 L1721.0 1209.8 L1721.3 1209.3 L1721.6 1208.9 L1721.9 1208.5 L1722.3 1208.1 L1722.6 1207.7 L1722.9 1207.2 L1722.9 1206.5 L1722.8 1205.8 L1722.7 1205.0 L1722.5 1204.3 L1722.4 1203.4 L1722.2 1202.6 L1722.0 1201.8 L1721.8 1200.9 L1721.5 1200.0 L1721.3 1199.2 L1721.1 1198.3 L1720.8 1197.4 L1720.6 1196.5 L1720.4 1195.7 L1720.2 1194.8 L1720.1 1194.0 L1719.9 1193.2 L1719.8 1192.4 L1719.7 1191.6 L1719.7 1190.9 L1719.8 1190.3 L1720.2 1189.9 L1720.5 1189.4 L1720.9 1189.0 L1721.2 1188.6 L1721.6 1188.2 L1721.9 1187.8 L1722.3 1187.4 L1722.6 1186.9 L1723.0 1186.5 L1723.3 1186.1 L1723.7 1185.7 L1724.0 1185.3 L1724.4 1184.9 L1724.8 1184.5 L1725.5 1184.4 L1726.2 1184.3 L1727.0 1184.3 L1727.8 1184.2 L1728.7 1184.3 L1729.5 1184.3 L1730.4 1184.3 L1731.3 1184.4 L1732.2 1184.5 L1733.1 1184.6 L1734.0 1184.6 L1734.9 1184.7 L1735.8 1184.8 L1736.6 1184.9 L1737.5 1184.9 L1738.3 1185.0 L1739.1 1185.0 L1739.9 1185.0 L1740.7 1184.9 L1741.4 1184.9 L1741.9 1184.6 L1742.2 1184.3 L1742.6 1183.9 L1742.9 1183.5 L1743.3 1183.1 L1743.7 1182.7 L1744.0 1182.3 L1744.4 1181.9 L1744.7 1181.6 L1745.1 1181.2 L1745.4 1180.8 L1745.8 1180.4 L1746.1 1180.0 L1746.5 1179.7 L1746.8 1179.2 L1746.8 1178.5 L1746.7 1177.8 L1746.7 1177.0 L1746.6 1176.2 L1746.5 1175.4 L1746.4 1174.5 L1746.2 1173.7 L1746.1 1172.8 L1745.9 1171.9 L1745.8 1171.1 L1745.6 1170.2 L1745.5 1169.3 L1745.3 1168.4 L1745.2 1167.5 L1745.1 1166.7 L1745.0 1165.9 L1744.9 1165.1 L1744.9 1164.3 L1744.9 1163.5 L1744.9 1162.8 L1745.2 1162.3 L1745.5 1161.9 L1745.9 1161.6 L1746.3 1161.2 L1746.7 1160.8 L1747.0 1160.4 L1747.4 1160.1 L1747.8 1159.7 L1748.2 1159.3 L1748.6 1158.9 L1748.9 1158.6 L1749.3 1158.2 L1749.7 1157.8 L1750.1 1157.5 L1750.6 1157.2 L1751.3 1157.2 L1752.0 1157.2 L1752.8 1157.3 L1753.6 1157.3 L1754.4 1157.4 L1755.3 1157.6 L1756.1 1157.7 L1757.0 1157.9 L1757.9 1158.0 L1758.7 1158.2 L1759.6 1158.4 L1760.5 1158.6 L1761.4 1158.7 L1762.2 1158.9 L1763.0 1159.1 L1763.8 1159.2 L1764.6 1159.3 L1765.4 1159.4 L1766.1 1159.4 L1766.8 1159.4 L1767.3 1159.1 L1767.6 1158.8 L1768.0 1158.5 L1768.4 1158.1 L1768.8 1157.8 L1769.1 1157.5 L1769.5 1157.1 L1769.9 1156.8 L1770.2 1156.5 L1770.6 1156.1 L1771.0 1155.8 L1771.4 1155.5 L1771.8 1155.1 L1772.1 1154.8 L1772.4 1154.3 L1772.4 1153.6 L1772.4 1152.9 L1772.4 1152.1 L1772.4 1151.3 L1772.4 1150.5 L1772.3 1149.7 L1772.2 1148.8 L1772.2 1147.9 L1772.1 1147.1 L1772.0 1146.2 L1771.9 1145.3 L1771.8 1144.4 L1771.8 1143.5 L1771.7 1142.7 L1771.7 1141.8 L1771.6 1141.0 L1771.6 1140.2 L1771.7 1139.5 L1771.7 1138.7 L1771.8 1138.0 L1772.2 1137.7 L1772.6 1137.4 L1773.0 1137.0 L1773.4 1136.7 L1773.8 1136.4 L1774.2 1136.1 L1774.6 1135.7 L1775.0 1135.4 L1775.4 1135.1 L1775.8 1134.8 L1776.2 1134.5 L1776.6 1134.1 L1777.0 1133.8 L1777.4 1133.5 L1777.9 1133.4 L1778.6 1133.5 L1779.4 1133.6 L1780.1 1133.7 L1780.9 1133.9 L1781.7 1134.1 L1782.5 1134.4 L1783.3 1134.6 L1784.2 1134.9 L1785.0 1135.1 L1785.8 1135.4 L1786.7 1135.7 L1787.5 1136.0 L1788.3 1136.3 L1789.1 1136.5 L1789.9 1136.7 L1790.7 1137.0 L1791.4 1137.1 L1792.1 1137.3 L1792.8 1137.4 L1793.5 1137.5 L1793.9 1137.2 L1794.3 1137.0 L1794.7 1136.7 L1795.1 1136.4 L1795.4 1136.1 L1795.8 1135.8 L1796.2 1135.5 L1796.6 1135.3 L1797.0 1135.0 L1797.4 1134.7 L1797.8 1134.4 L1798.2 1134.2 L1798.5 1133.9 L1798.9 1133.6 L1799.1 1133.1 L1799.2 1132.4 L1799.3 1131.7 L1799.4 1130.9 L1799.4 1130.1 L1799.4 1129.3 L1799.4 1128.5 L1799.4 1127.6 L1799.4 1126.8 L1799.4 1125.9 L1799.4 1125.0 L1799.4 1124.2 L1799.4 1123.3 L1799.4 1122.4 L1799.4 1121.6 L1799.4 1120.8 L1799.5 1120.0 L1799.6 1119.2 L1799.7 1118.5 L1799.8 1117.8 L1800.0 1117.2 L1800.4 1116.9 L1800.8 1116.6 L1801.2 1116.4 L1801.6 1116.1 L1802.0 1115.8 L1802.4 1115.6 L1802.8 1115.3 L1803.2 1115.1 L1803.7 1114.8 L1804.1 1114.5 L1804.5 1114.3 L1804.9 1114.0 L1805.3 1113.8 L1805.7 1113.5 L1806.3 1113.6 L1807.0 1113.7 L1807.7 1114.0 L1808.4 1114.2 L1809.1 1114.5 L1809.9 1114.8 L1810.6 1115.2 L1811.4 1115.5 L1812.2 1115.9 L1813.0 1116.3 L1813.7 1116.7 L1814.5 1117.0 L1815.3 1117.4 L1816.0 1117.8 L1816.8 1118.1 L1817.5 1118.5 L1818.2 1118.8 L1818.9 1119.1 L1819.6 1119.3 L1820.2 1119.5 L1820.8 1119.6 L1821.2 1119.4 L1821.6 1119.2 L1822.0 1118.9 L1822.4 1118.7 L1822.8 1118.5 L1823.2 1118.3 L1823.5 1118.1 L1823.9 1117.8 L1824.3 1117.6 L1824.7 1117.4 L1825.1 1117.2 L1825.5 1117.0 L1825.9 1116.8 L1826.3 1116.6 L1826.5 1116.0 L1826.6 1115.3 L1826.8 1114.6 L1826.9 1113.9 L1827.0 1113.1 L1827.1 1112.3 L1827.1 1111.5 L1827.2 1110.7 L1827.3 1109.8 L1827.3 1108.9 L1827.4 1108.1 L1827.5 1107.2 L1827.6 1106.4 L1827.6 1105.6 L1827.7 1104.7 L1827.8 1104.0 L1828.0 1103.2 L1828.1 1102.5 L1828.3 1101.8 L1828.5 1101.1 L1828.8 1100.6 L1829.2 1100.4 L1829.6 1100.2 L1830.0 1100.0 L1830.4 1099.8 L1830.8 1099.6 L1831.2 1099.4 L1831.6 1099.2 L1832.1 1099.0 L1832.5 1098.8 L1832.9 1098.7 L1833.3 1098.5 L1833.7 1098.3 L1834.1 1098.1 L1834.5 1097.9 L1835.2 1098.1 L1835.8 1098.4 L1836.4 1098.7 L1837.1 1099.1 L1837.7 1099.5 L1838.4 1099.9 L1839.1 1100.4 L1839.8 1100.8 L1840.5 1101.3 L1841.2 1101.8 L1841.9 1102.3 L1842.6 1102.8 L1843.3 1103.3 L1843.9 1103.8 L1844.6 1104.2 L1845.2 1104.7 L1845.9 1105.1 L1846.5 1105.4 L1847.1 1105.8 L1847.7 1106.1 L1848.1 1106.1 L1848.5 1106.0 L1848.9 1105.8 L1849.3 1105.7 L1849.7 1105.5 L1850.1 1105.3 L1850.5 1105.2 L1850.9 1105.0 L1851.2 1104.9 L1851.6 1104.7 L1852.0 1104.6 L1852.4 1104.4 L1852.8 1104.3 L1853.2 1104.1 L1853.5 1103.9 L1853.8 1103.3 L1854.0 1102.7 L1854.2 1102.0 L1854.3 1101.3 L1854.5 1100.6 L1854.7 1099.8 L1854.8 1099.0 L1855.0 1098.2 L1855.1 1097.4 L1855.3 1096.5 L1855.4 1095.7 L1855.6 1094.9 L1855.8 1094.1 L1855.9 1093.3 L1856.1 1092.5 L1856.3 1091.8 L1856.5 1091.0 L1856.7 1090.3 L1857.0 1089.7 L1857.2 1089.1 L1857.6 1088.8 L1858.0 1088.7 L1858.4 1088.5 L1858.8 1088.4 L1859.2 1088.3 L1859.6 1088.1 L1860.0 1088.0 L1860.4 1087.9 L1860.8 1087.7 L1861.3 1087.6 L1861.7 1087.5 L1862.1 1087.4 L1862.5 1087.2 L1862.9 1087.1 L1863.3 1087.1 L1863.9 1087.5 L1864.4 1087.8 L1865.0 1088.3 L1865.6 1088.7 L1866.1 1089.3 L1866.7 1089.8 L1867.3 1090.3 L1867.9 1090.9 L1868.5 1091.5 L1869.1 1092.1 L1869.6 1092.7 L1870.2 1093.3 L1870.8 1093.9 L1871.3 1094.5 L1871.9 1095.0 L1872.4 1095.5 L1873.0 1096.0 L1873.5 1096.5 L1874.0 1096.9 L1874.5 1097.3 L1874.9 1097.3 L1875.3 1097.2 L1875.6 1097.2 L1876.0 1097.1 L1876.4 1097.0 L1876.8 1096.9 L1877.1 1096.8 L1877.5 1096.7 L1877.9 1096.6 L1878.3 1096.6 L1878.6 1096.5 L1879.0 1096.4 L1879.4 1096.3 L1879.7 1096.2 L1880.1 1096.0 L1880.4 1095.4 L1880.6 1094.8 L1880.9 1094.2 L1881.1 1093.5 L1881.4 1092.8 L1881.6 1092.1 L1881.9 1091.3 L1882.1 1090.5 L1882.4 1089.8 L1882.6 1089.0 L1882.9 1088.2 L1883.1 1087.4 L1883.4 1086.6 L1883.7 1085.9 L1884.0 1085.2 L1884.2 1084.5 L1884.5 1083.8 L1884.8 1083.2 L1885.1 1082.6 L1885.5 1082.1 L1885.9 1081.9 L1886.3 1081.8 L1886.6 1081.8 L1887.0 1081.7 L1887.4 1081.7 L1887.8 1081.6 L1888.2 1081.6 L1888.6 1081.5 L1889.0 1081.4 L1889.4 1081.4 L1889.8 1081.3 L1890.2 1081.3 L1890.6 1081.2 L1891.0 1081.2 L1891.4 1081.4 L1891.9 1081.8 L1892.3 1082.3 L1892.8 1082.8 L1893.2 1083.4 L1893.7 1084.0 L1894.1 1084.6 L1894.6 1085.3 L1895.0 1086.0 L1895.5 1086.7 L1895.9 1087.4 L1896.4 1088.0 L1896.8 1088.7 L1897.2 1089.4 L1897.7 1090.1 L1898.1 1090.7 L1898.5 1091.3 L1898.9 1091.9 L1899.3 1092.4 L1899.7 1092.9 L1900.1 1093.4 L1900.4 1093.4 L1900.8 1093.3 L1901.1 1093.3 L1901.5 1093.3 L1901.8 1093.3 L1902.2 1093.3 L1902.5 1093.3 L1902.9 1093.2 L1903.2 1093.2 L1903.6 1093.2 L1903.9 1093.2 L1904.3 1093.2 L1904.6 1093.2 L1905.0 1093.2 L1905.3 1092.9 L1905.7 1092.4 L1906.0 1091.8 L1906.3 1091.2 L1906.7 1090.6 L1907.0 1089.9 L1907.4 1089.3 L1907.7 1088.6 L1908.1 1087.8 L1908.5 1087.1 L1908.8 1086.4 L1909.2 1085.7 L1909.6 1084.9 L1909.9 1084.2 L1910.3 1083.6 L1910.7 1082.9 L1911.1 1082.3 L1911.5 1081.7 L1911.9 1081.1 L1912.3 1080.6 L1912.6 1080.2 L1913.0 1080.2 L1913.4 1080.2 L1913.8 1080.2 L1914.2 1080.3 L1914.5 1080.3 L1914.9 1080.3 L1915.3 1080.3 L1915.7 1080.3 L1916.0 1080.3 L1916.4 1080.4 L1916.8 1080.4 L1917.2 1080.4 L1917.5 1080.4 L1917.9 1080.5 L1918.3 1080.8 L1918.6 1081.4 L1918.9 1081.9 L1919.2 1082.6 L1919.5 1083.2 L1919.8 1083.9 L1920.1 1084.6 L1920.4 1085.4 L1920.7 1086.1 L1921.0 1086.9 L1921.3 1087.6 L1921.5 1088.4 L1921.8 1089.1 L1922.0 1089.9 L1922.3 1090.6 L1922.6 1091.3 L1922.8 1092.0 L1923.1 1092.6 L1923.3 1093.2 L1923.6 1093.7 L1923.9 1094.2 L1924.2 1094.2 L1924.5 1094.3 L1924.8 1094.3 L1925.2 1094.4 L1925.5 1094.4 L1925.8 1094.5 L1926.1 1094.5 L1926.4 1094.6 L1926.8 1094.6 L1927.1 1094.7 L1927.4 1094.7 L1927.7 1094.8 L1928.0 1094.8 L1928.4 1094.9 L1928.8 1094.6 L1929.2 1094.1 L1929.6 1093.7 L1930.0 1093.1 L1930.5 1092.6 L1930.9 1092.0 L1931.4 1091.4 L1931.9 1090.8 L1932.3 1090.1 L1932.8 1089.5 L1933.3 1088.9 L1933.8 1088.2 L1934.3 1087.6 L1934.8 1087.0 L1935.3 1086.4 L1935.8 1085.8 L1936.3 1085.3 L1936.8 1084.8 L1937.2 1084.4 L1937.7 1084.0 L1938.1 1083.7 L1938.5 1083.8 L1938.8 1083.9 L1939.2 1084.0 L1939.5 1084.1 L1939.9 1084.2 L1940.2 1084.3 L1940.6 1084.4 L1940.9 1084.5 L1941.3 1084.6 L1941.6 1084.7 L1942.0 1084.8 L1942.3 1084.9 L1942.6 1085.0 L1943.0 1085.1 L1943.2 1085.6 L1943.4 1086.2 L1943.6 1086.9 L1943.7 1087.5 L1943.9 1088.2 L1944.0 1089.0 L1944.1 1089.7 L1944.2 1090.5 L1944.3 1091.3 L1944.4 1092.1 L1944.4 1092.9 L1944.5 1093.7 L1944.6 1094.5 L1944.7 1095.3 L1944.7 1096.0 L1944.8 1096.7 L1944.9 1097.4 L1945.0 1098.1 L1945.1 1098.7 L1945.2 1099.3 L1945.4 1099.7 L1945.7 1099.8 L1946.0 1099.9 L1946.3 1100.0 L1946.6 1100.1 L1946.9 1100.2 L1947.1 1100.3 L1947.4 1100.5 L1947.7 1100.6 L1948.0 1100.7 L1948.3 1100.8 L1948.6 1100.9 L1948.9 1101.1 L1949.1 1101.2 L1949.4 1101.3 L1949.9 1101.0 L1950.4 1100.6 L1950.9 1100.2 L1951.5 1099.8 L1952.0 1099.4 L1952.6 1098.9 L1953.2 1098.4 L1953.8 1097.9 L1954.4 1097.4 L1955.0 1096.9 L1955.6 1096.4 L1956.2 1095.9 L1956.8 1095.4 L1957.4 1094.9 L1958.0 1094.4 L1958.6 1094.0 L1959.2 1093.6 L1959.8 1093.3 L1960.4 1092.9 L1960.9 1092.7 L1961.3 1092.6 L1961.6 1092.8 L1961.9 1093.0 L1962.2 1093.1 L1962.6 1093.3 L1962.9 1093.5 L1963.2 1093.6 L1963.5 1093.8 L1963.8 1094.0 L1964.1 1094.1 L1964.4 1094.3 L1964.7 1094.5 L1965.0 1094.7 L1965.3 1094.8 L1965.6 1095.1 L1965.6 1095.7 L1965.7 1096.3 L1965.7 1097.0 L1965.6 1097.7 L1965.6 1098.4 L1965.5 1099.2 L1965.5 1099.9 L1965.4 1100.7 L1965.3 1101.5 L1965.1 1102.3 L1965.0 1103.1 L1964.9 1103.9 L1964.8 1104.6 L1964.7 1105.4 L1964.6 1106.1 L1964.5 1106.8 L1964.4 1107.5 L1964.3 1108.2 L1964.3 1108.8 L1964.3 1109.4 L1964.4 1109.7 L1964.7 1109.9 L1964.9 1110.0 L1965.2 1110.2 L1965.4 1110.4 L1965.7 1110.6 L1965.9 1110.8 L1966.2 1110.9 L1966.4 1111.1 L1966.6 1111.3 L1966.9 1111.5 L1967.1 1111.7 L1967.4 1111.8 L1967.6 1112.0 L1968.0 1112.1 L1968.5 1111.9 L1969.1 1111.7 L1969.7 1111.4 L1970.3 1111.1 L1970.9 1110.8 L1971.6 1110.5 L1972.3 1110.2 L1973.0 1109.8 L1973.7 1109.5 L1974.4 1109.1 L1975.1 1108.8 L1975.9 1108.4 L1976.6 1108.1 L1977.3 1107.8 L1978.0 1107.5 L1978.7 1107.2 L1979.3 1107.0 L1980.0 1106.8 L1980.6 1106.6 L1981.2 1106.5 L1981.5 1106.6 L1981.8 1106.9 L1982.0 1107.1 L1982.3 1107.4 L1982.6 1107.6 L1982.8 1107.8 L1983.1 1108.1 L1983.3 1108.3 L1983.6 1108.6 L1983.9 1108.8 L1984.1 1109.0 L1984.4 1109.3 L1984.6 1109.5 L1984.9 1109.8 L1985.0 1110.2 L1984.9 1110.8 L1984.8 1111.4 L1984.6 1112.1 L1984.4 1112.7 L1984.2 1113.4 L1984.0 1114.2 L1983.7 1114.9 L1983.4 1115.6 L1983.2 1116.4 L1982.9 1117.1 L1982.6 1117.9 L1982.3 1118.6 L1982.0 1119.3 L1981.7 1120.0 L1981.4 1120.7 L1981.2 1121.4 L1980.9 1122.1 L1980.7 1122.7 L1980.6 1123.3 L1980.4 1123.8 L1980.6 1124.1 L1980.8 1124.3 L1981.0 1124.6 L1981.2 1124.8 L1981.4 1125.0 L1981.6 1125.3 L1981.8 1125.5 L1982.0 1125.8 L1982.2 1126.0 L1982.4 1126.3 L1982.6 1126.5 L1982.8 1126.7 L1983.0 1127.0 L1983.2 1127.2 L1983.6 1127.3 L1984.2 1127.3 L1984.9 1127.2 L1985.5 1127.1 L1986.2 1126.9 L1986.9 1126.8 L1987.7 1126.6 L1988.4 1126.5 L1989.2 1126.3 L1990.0 1126.1 L1990.8 1126.0 L1991.5 1125.8 L1992.3 1125.7 L1993.1 1125.5 L1993.9 1125.4 L1994.6 1125.3 L1995.3 1125.2 L1996.0 1125.1 L1996.7 1125.1 L1997.3 1125.1 L1997.9 1125.1 L1998.2 1125.4 L1998.4 1125.7 L1998.6 1126.0 L1998.8 1126.3 L1999.0 1126.6 L1999.2 1126.9 L1999.4 1127.2 L1999.6 1127.5 L1999.8 1127.8 L2000.0 1128.1 L2000.2 1128.4 L2000.4 1128.7 L2000.6 1129.1 L2000.8 1129.4 L2000.8 1129.8 L2000.5 1130.4 L2000.3 1131.0 L2000.0 1131.6 L1999.6 1132.3 L1999.3 1132.9 L1998.9 1133.6 L1998.5 1134.3 L1998.0 1134.9 L1997.6 1135.6 L1997.2 1136.3 L1996.7 1137.0 L1996.3 1137.6 L1995.8 1138.3 L1995.4 1138.9 L1995.0 1139.6 L1994.6 1140.2 L1994.3 1140.8 L1994.0 1141.4 L1993.7 1141.9 L1993.5 1142.4 L1993.7 1142.7 L1993.8 1143.0 L1994.0 1143.3 L1994.1 1143.6 L1994.3 1143.9 L1994.5 1144.2 L1994.6 1144.5 L1994.8 1144.8 L1994.9 1145.1 L1995.1 1145.4 L1995.3 1145.7 L1995.4 1146.0 L1995.6 1146.3 L1995.7 1146.6 L1996.2 1146.7 L1996.8 1146.8 L1997.4 1146.9 L1998.1 1146.9 L1998.8 1147.0 L1999.6 1147.0 L2000.4 1147.0 L2001.2 1147.0 L2002.0 1147.1 L2002.8 1147.1 L2003.6 1147.1 L2004.4 1147.1 L2005.2 1147.2 L2006.0 1147.2 L2006.8 1147.3 L2007.5 1147.3 L2008.3 1147.4 L2009.0 1147.5 L2009.6 1147.6 L2010.2 1147.8 L2010.7 1148.0 L2010.9 1148.4 L2011.0 1148.7 L2011.2 1149.1 L2011.3 1149.4 L2011.5 1149.8 L2011.6 1150.1 L2011.8 1150.5 L2011.9 1150.9 L2012.1 1151.2 L2012.2 1151.6 L2012.4 1151.9 L2012.5 1152.3 L2012.7 1152.7 L2012.8 1153.0 L2012.6 1153.5 L2012.2 1154.1 L2011.8 1154.7 L2011.4 1155.2 L2011.0 1155.8 L2010.5 1156.4 L2010.0 1157.0 L2009.4 1157.6 L2008.9 1158.2 L2008.3 1158.8 L2007.8 1159.4 L2007.2 1160.0 L2006.7 1160.6 L2006.1 1161.2 L2005.6 1161.8 L2005.1 1162.3 L2004.6 1162.9 L2004.2 1163.4 L2003.8 1163.9 L2003.4 1164.4 L2003.2 1164.9 L2003.3 1165.2 L2003.5 1165.6 L2003.6 1165.9 L2003.7 1166.3 L2003.8 1166.6 L2003.9 1167.0 L2004.0 1167.3 L2004.1 1167.7 L2004.2 1168.0 L2004.3 1168.4 L2004.4 1168.7 L2004.5 1169.1 L2004.6 1169.5 L2004.8 1169.8 L2005.3 1170.0 L2005.9 1170.3 L2006.5 1170.5 L2007.2 1170.7 L2007.9 1170.9 L2008.7 1171.1 L2009.4 1171.3 L2010.2 1171.4 L2011.0 1171.6 L2011.8 1171.8 L2012.6 1172.0 L2013.4 1172.2 L2014.2 1172.4 L2015.0 1172.6 L2015.8 1172.9 L2016.5 1173.1 L2017.2 1173.4 L2017.8 1173.6 L2018.5 1173.9 L2019.0 1174.2 L2019.4 1174.5 L2019.5 1174.9 L2019.6 1175.3 L2019.7 1175.7 L2019.8 1176.1 L2019.9 1176.5 L2019.9 1176.9 L2020.0 1177.3 L2020.1 1177.7 L2020.2 1178.2 L2020.3 1178.6 L2020.4 1179.0 L2020.5 1179.4 L2020.5 1179.8 L2020.6 1180.2 L2020.2 1180.7 L2019.7 1181.2 L2019.3 1181.7 L2018.8 1182.3 L2018.2 1182.8 L2017.6 1183.3 L2017.0 1183.8 L2016.4 1184.4 L2015.8 1184.9 L2015.1 1185.4 L2014.5 1186.0 L2013.8 1186.5 L2013.2 1187.0 L2012.5 1187.5 L2011.9 1188.0 L2011.4 1188.5 L2010.8 1189.0 L2010.3 1189.5 L2009.9 1190.0 L2009.4 1190.4 L2009.3 1190.9 L2009.3 1191.3 L2009.4 1191.7 L2009.5 1192.0 L2009.5 1192.4 L2009.6 1192.8 L2009.6 1193.2 L2009.7 1193.6 L2009.7 1194.0 L2009.8 1194.4 L2009.8 1194.8 L2009.9 1195.2 L2009.9 1195.6 L2010.0 1196.0 L2010.1 1196.4 L2010.7 1196.8 L2011.2 1197.1 L2011.8 1197.5 L2012.5 1197.8 L2013.2 1198.1 L2013.9 1198.5 L2014.6 1198.8 L2015.4 1199.2 L2016.1 1199.5 L2016.9 1199.9 L2017.7 1200.2 L2018.4 1200.6 L2019.2 1200.9 L2019.9 1201.3 L2020.6 1201.7 L2021.3 1202.0 L2022.0 1202.4 L2022.6 1202.8 L2023.1 1203.2 L2023.6 1203.6 L2023.8 1204.0 L2023.9 1204.5 L2023.9 1204.9 L2023.9 1205.4 L2024.0 1205.8 L2024.0 1206.2 L2024.0 1206.7 L2024.0 1207.1 L2024.1 1207.6 L2024.1 1208.0 L2024.1 1208.5 L2024.1 1208.9 L2024.2 1209.4 L2024.2 1209.8 L2024.0 1210.3 L2023.6 1210.7 L2023.1 1211.2 L2022.5 1211.7 L2021.9 1212.1 L2021.3 1212.6 L2020.6 1213.1 L2019.9 1213.5 L2019.2 1214.0 L2018.5 1214.5 L2017.8 1214.9 L2017.1 1215.4 L2016.4 1215.8 L2015.7 1216.3 L2015.0 1216.7 L2014.3 1217.2 L2013.7 1217.6 L2013.1 1218.1 L2012.5 1218.5 L2012.0 1218.9 L2011.5 1219.4 L2011.4 1219.8 L2011.4 1220.2 L2011.5 1220.7 L2011.5 1221.1 L2011.5 1221.5 L2011.4 1222.0 L2011.4 1222.4 L2011.4 1222.8 L2011.4 1223.3 L2011.4 1223.7 L2011.4 1224.2 L2011.4 1224.6 L2011.4 1225.0 L2011.4 1225.5 L2011.6 1225.9 L2012.1 1226.4 L2012.6 1226.8 L2013.2 1227.3 L2013.8 1227.7 L2014.4 1228.2 L2015.1 1228.7 L2015.8 1229.1 L2016.5 1229.6 L2017.2 1230.1 L2017.9 1230.6 L2018.6 1231.0 L2019.3 1231.5 L2020.0 1232.0 L2020.7 1232.5 L2021.3 1233.0 L2021.9 1233.5 L2022.5 1234.0 L2023.1 1234.5 L2023.5 1235.0 L2024.0 1235.5 L2024.0 1236.0 L2024.0 1236.4 L2024.0 1236.9 L2023.9 1237.4 L2023.9 1237.8 L2023.9 1238.3 L2023.8 1238.8 L2023.8 1239.3 L2023.8 1239.7 L2023.7 1240.2 L2023.7 1240.7 L2023.7 1241.2 L2023.6 1241.6 L2023.6 1242.1 L2023.3 1242.6 L2022.7 1243.0 L2022.2 1243.4 L2021.5 1243.8 L2020.9 1244.3 L2020.2 1244.7 L2019.5 1245.1 L2018.7 1245.5 L2018.0 1245.9 L2017.2 1246.3 L2016.4 1246.7 L2015.6 1247.1 L2014.9 1247.5 L2014.1 1247.8 L2013.4 1248.2 L2012.7 1248.6 L2012.0 1249.0 L2011.3 1249.4 L2010.7 1249.8 L2010.2 1250.2 L2009.7 1250.6 L2009.6 1251.1 L2009.6 1251.5 L2009.5 1252.0 L2009.4 1252.5 L2009.4 1252.9 L2009.3 1253.4 L2009.3 1253.8 L2009.2 1254.3 L2009.1 1254.8 L2009.1 1255.2 L2009.0 1255.7 L2009.0 1256.2 L2008.9 1256.6 L2008.8 1257.1 L2009.1 1257.6 L2009.5 1258.1 L2010.0 1258.7 L2010.5 1259.2 L2011.0 1259.8 L2011.6 1260.4 L2012.2 1260.9 L2012.8 1261.5 L2013.5 1262.1 L2014.1 1262.7 L2014.8 1263.3 L2015.4 1263.9 L2016.1 1264.5 L2016.7 1265.1 L2017.3 1265.7 L2017.8 1266.2 L2018.4 1266.8 L2018.9 1267.4 L2019.3 1268.0 L2019.8 1268.6 L2020.1 1269.1 L2020.0 1269.6 L2019.9 1270.1 L2019.8 1270.6 L2019.7 1271.1 L2019.6 1271.6 L2019.5 1272.1 L2019.4 1272.6 L2019.4 1273.1 L2019.3 1273.6 L2019.2 1274.0 L2019.1 1274.5 L2019.0 1275.0 L2018.9 1275.5 L2018.8 1276.0 L2018.3 1276.4 L2017.7 1276.8 L2017.1 1277.2 L2016.4 1277.6 L2015.7 1277.9 L2014.9 1278.3 L2014.2 1278.6 L2013.4 1279.0 L2012.6 1279.3 L2011.7 1279.7 L2010.9 1280.0 L2010.1 1280.3 L2009.3 1280.7 L2008.5 1281.0 L2007.7 1281.3 L2007.0 1281.7 L2006.3 1282.0 L2005.6 1282.3 L2004.9 1282.7 L2004.3 1283.1 L2003.9 1283.5 L2003.8 1283.9 L2003.7 1284.4 L2003.5 1284.9 L2003.4 1285.4 L2003.3 1285.9 L2003.2 1286.3 L2003.1 1286.8 L2003.0 1287.3 L2002.9 1287.8 L2002.7 1288.2 L2002.6 1288.7 L2002.5 1289.2 L2002.4 1289.7 L2002.3 1290.2 L2002.6 1290.8 L2002.9 1291.4 L2003.3 1292.0 L2003.8 1292.6 L2004.3 1293.3 L2004.8 1293.9 L2005.3 1294.6 L2005.9 1295.2 L2006.5 1295.9 L2007.0 1296.6 L2007.6 1297.3 L2008.2 1298.0 L2008.7 1298.6 L2009.3 1299.3 L2009.8 1300.0 L2010.3 1300.7 L2010.7 1301.3 L2011.2 1302.0 L2011.5 1302.6 L2011.9 1303.3 L2012.0 1303.9 L2011.9 1304.4 L2011.7 1304.9 L2011.6 1305.4 L2011.4 1305.9 L2011.3 1306.4 L2011.1 1306.9 L2011.0 1307.4 L2010.8 1307.9 L2010.7 1308.4 L2010.5 1308.9 L2010.4 1309.4 L2010.2 1309.9 L2010.1 1310.4 L2009.9 1310.9 L2009.3 1311.2 L2008.7 1311.6 L2008.0 1311.9 L2007.2 1312.2 L2006.5 1312.5 L2005.7 1312.8 L2004.9 1313.1 L2004.0 1313.4 L2003.2 1313.7 L2002.3 1313.9 L2001.5 1314.2 L2000.6 1314.5 L1999.8 1314.7 L1998.9 1315.0 L1998.1 1315.3 L1997.4 1315.5 L1996.6 1315.8 L1995.9 1316.1 L1995.2 1316.5 L1994.6 1316.8 L1994.2 1317.2 L1994.0 1317.7 L1993.9 1318.2 L1993.7 1318.6 L1993.5 1319.1 L1993.4 1319.6 L1993.2 1320.1 L1993.0 1320.6 L1992.9 1321.1 L1992.7 1321.6 L1992.5 1322.0 L1992.3 1322.5 L1992.2 1323.0 L1992.0 1323.5 L1991.9 1324.0 L1992.2 1324.6 L1992.5 1325.3 L1992.8 1326.0 L1993.2 1326.7 L1993.6 1327.4 L1994.1 1328.1 L1994.6 1328.9 L1995.0 1329.6 L1995.5 1330.3 L1996.0 1331.1 L1996.5 1331.8 L1997.0 1332.6 L1997.5 1333.3 L1998.0 1334.1 L1998.4 1334.8 L1998.8 1335.6 L1999.2 1336.3 L1999.5 1337.0 L1999.8 1337.7 L2000.1 1338.4 L2000.1 1338.9 L1999.9 1339.4 L1999.7 1339.9 L1999.5 1340.4 L1999.3 1340.9 L1999.1 1341.4 L1998.9 1341.9 L1998.7 1342.4 L1998.5 1342.9 L1998.2 1343.4 L1998.0 1343.9 L1997.8 1344.4 L1997.6 1344.9 L1997.4 1345.4 L1997.1 1345.9 L1996.4 1346.2 L1995.7 1346.5 L1995.0 1346.7 L1994.2 1347.0 L1993.4 1347.3 L1992.6 1347.5 L1991.8 1347.7 L1990.9 1347.9 L1990.0 1348.1 L1989.1 1348.3 L1988.3 1348.5 L1987.4 1348.7 L1986.5 1348.9 L1985.7 1349.1 L1984.8 1349.3 L1984.0 1349.6 L1983.3 1349.8 L1982.5 1350.1 L1981.8 1350.3 L1981.2 1350.6 L1980.8 1351.0 L1980.6 1351.5 L1980.4 1352.0 L1980.2 1352.5 L1980.0 1353.0 L1979.7 1353.4 L1979.5 1353.9 L1979.3 1354.4 L1979.1 1354.9 L1978.9 1355.4 L1978.6 1355.8 L1978.4 1356.3 L1978.2 1356.8 L1978.0 1357.3 L1977.9 1357.8 L1978.1 1358.5 L1978.4 1359.2 L1978.7 1360.0 L1979.0 1360.7 L1979.3 1361.5 L1979.7 1362.2 L1980.1 1363.0 L1980.5 1363.8 L1980.9 1364.6 L1981.4 1365.4 L1981.8 1366.2 L1982.2 1367.0 L1982.6 1367.8 L1983.0 1368.6 L1983.3 1369.4 L1983.7 1370.2 L1984.0 1370.9 L1984.2 1371.7 L1984.4 1372.4 L1984.6 1373.1 L1984.4 1373.6 L1984.2 1374.1 L1984.0 1374.6 L1983.7 1375.1 L1983.5 1375.6 L1983.2 1376.1 L1983.0 1376.6 L1982.7 1377.1 L1982.4 1377.5 L1982.2 1378.0 L1981.9 1378.5 L1981.7 1379.0 L1981.4 1379.5 L1981.2 1380.0 L1980.7 1380.4 L1980.0 1380.6 L1979.3 1380.8 L1978.5 1381.1 L1977.7 1381.2 L1976.9 1381.4 L1976.0 1381.6 L1975.1 1381.7 L1974.3 1381.9 L1973.4 1382.0 L1972.5 1382.1 L1971.6 1382.3 L1970.7 1382.4 L1969.8 1382.5 L1968.9 1382.7 L1968.1 1382.8 L1967.3 1383.0 L1966.5 1383.1 L1965.7 1383.3 L1965.0 1383.6 L1964.3 1383.8 L1964.0 1384.2 L1963.8 1384.7 L1963.5 1385.2 L1963.3 1385.6 L1963.0 1386.1 L1962.7 1386.6 L1962.5 1387.0 L1962.2 1387.5 L1961.9 1388.0 L1961.7 1388.4 L1961.4 1388.9 L1961.1 1389.4 L1960.9 1389.8 L1960.6 1390.3 L1960.6 1390.9 L1960.7 1391.6 L1960.9 1392.3 L1961.2 1393.1 L1961.4 1393.9 L1961.7 1394.7 L1962.0 1395.5 L1962.3 1396.3 L1962.7 1397.2 L1963.0 1398.0 L1963.4 1398.8 L1963.7 1399.7 L1964.0 1400.5 L1964.4 1401.4 L1964.7 1402.2 L1964.9 1403.0 L1965.2 1403.8 L1965.4 1404.6 L1965.6 1405.3 L1965.7 1406.1 L1965.8 1406.8 L1965.5 1407.3 L1965.2 1407.7 L1964.9 1408.2 L1964.6 1408.7 L1964.4 1409.1 Z" fill="#fff" stroke="#000" stroke-width="6" stroke-linejoin="round"/>
<path d="M1651 1177 C1630 1180, 1609 1187, 1601 1205 C1596 1218, 1598 1235, 1609 1247" fill="none" stroke="#000" stroke-width="6"/>
<path d="M1832 1240 L1855 1224 L1882 1222 L1908 1236 L1927 1286 L1990 1325 L2099 1401 L2225 1493 L2160 1580 L2093 1584 L2012 1500 L1916 1454 L1880 1436 L1853 1422 L1822 1420 L1799 1422 C1780 1420, 1763 1405, 1757 1390 C1750 1375, 1752 1340, 1765 1313 C1780 1285, 1810 1255, 1832 1240 Z" fill="#fff"/>
<path d="M1822 1420 L1799 1422 C1780 1420, 1763 1405, 1757 1390 C1750 1370, 1752 1340, 1765 1313 C1775 1290, 1800 1258, 1832 1240 C1840 1234, 1848 1228, 1856 1225 C1870 1221, 1890 1221, 1905 1233 C1918 1245, 1925 1265, 1927 1288" fill="none" stroke="#000" stroke-width="5"/>
<path d="M1801 1420 C1790 1418, 1775 1405, 1770 1382 C1766 1360, 1768 1338, 1776 1320 C1785 1298, 1800 1275, 1816 1260 C1830 1246, 1848 1236, 1866 1234 C1885 1233, 1898 1237, 1910 1247" fill="none" stroke="#000" stroke-width="5"/>
<path d="M1836 1198 C1848 1195, 1856 1205, 1855 1220 C1855 1232, 1846 1240, 1838 1240 C1830 1232, 1822 1228, 1822 1225 C1826 1214, 1832 1206, 1836 1198 Z" fill="#000"/><ellipse cx="1840" cy="1220" rx="2" ry="3.5" fill="#fff"/>
<path d="M1822 1418 C1835 1415, 1852 1420, 1855 1432 C1856 1446, 1848 1455, 1838 1455 C1828 1454, 1820 1446, 1820 1440 C1825 1440, 1828 1442, 1830 1440 C1826 1432, 1822 1425, 1822 1418 Z" fill="#000"/><ellipse cx="1841" cy="1441" rx="2.5" ry="3.5" fill="#fff"/>
<path d="M1927 1286 L1900 1282 C1892 1282, 1885 1283, 1881 1285 C1866 1292, 1851 1305, 1843 1320 C1832 1338, 1826 1360, 1823 1383 C1822 1398, 1826 1405, 1832 1410 C1838 1416, 1845 1420, 1853 1422 L1880 1436 L1916 1454" fill="none" stroke="#000" stroke-width="5" stroke-linejoin="round"/>
<path d="M1927 1286 L1990 1325" fill="none" stroke="#000" stroke-width="6"/>
<path d="M1956 1314 C1940 1318, 1928 1322, 1918 1331 C1906 1342, 1898 1350, 1894 1360 C1886 1375, 1882 1385, 1882 1396 C1881 1410, 1882 1420, 1883 1427 C1886 1434, 1890 1438, 1896 1441" fill="none" stroke="#000" stroke-width="5"/>
<path d="M1974 1325 C1960 1325, 1948 1327, 1938 1331 C1925 1338, 1915 1346, 1909 1356 C1900 1370, 1896 1380, 1894 1390 C1893 1408, 1896 1422, 1900 1432" fill="none" stroke="#000" stroke-width="3.5"/>
<path d="M1990 1325 L2099 1401" fill="none" stroke="#000" stroke-width="5"/>
<path d="M1916 1454 L2026 1510" fill="none" stroke="#000" stroke-width="5"/>
<path d="M2099 1403 C2108 1400, 2118 1401, 2129 1402 C2155 1412, 2180 1428, 2200 1441 C2208 1447, 2212 1452, 2214 1460 C2220 1475, 2223 1485, 2225 1493 L2200 1520 L2175 1568 C2165 1570, 2158 1570, 2148 1571 C2130 1575, 2110 1580, 2093 1584 C2085 1578, 2080 1575, 2079 1573 C2065 1566, 2052 1560, 2041 1554 C2030 1548, 2024 1545, 2024 1537 C2023 1525, 2024 1515, 2027 1507 C2034 1485, 2042 1465, 2054 1447 C2066 1430, 2080 1415, 2099 1403 Z" fill="#fff" stroke="#000" stroke-width="5" stroke-linejoin="round"/>
<path d="M2111 1475 L2110 1482 M2104 1494 L2103 1505 M2096 1517 C2090 1535, 2085 1552, 2081 1568 M2110 1520 L2110 1530 M2111 1538 C2112 1552, 2122 1560, 2135 1562" fill="none" stroke="#000" stroke-width="3.5"/>
<path d="M2176 1452 C2188 1450, 2196 1455, 2199 1465 C2190 1462, 2183 1462, 2176 1465" fill="#000" stroke="#000" stroke-width="3"/>
<path d="M2135 1558 L2145 1548 L2150 1566 Z" fill="#000"/>
<path d="M2176 1485 C2162 1490, 2152 1505, 2148 1529 C2147 1545, 2150 1556, 2156 1560 C2162 1565, 2168 1567, 2176 1568 L2222 1598 C2232 1604, 2240 1605, 2245 1604 L2291 1537 C2280 1525, 2270 1518, 2258 1513 L2225 1493 C2210 1485, 2190 1482, 2176 1485 Z" fill="#fff" stroke="#000" stroke-width="5" stroke-linejoin="round"/>
<ellipse cx="2258" cy="1563" rx="31" ry="44" transform="rotate(28 2258 1563)" fill="#fff" stroke="#000" stroke-width="7"/>
<path d="M2283 1530 C2296 1545, 2296 1575, 2284 1592" fill="none" stroke="#000" stroke-width="10"/>
<ellipse cx="2256" cy="1568" rx="14" ry="25" transform="rotate(28 2256 1568)" fill="#fff" stroke="#000" stroke-width="5"/>
<ellipse cx="2193" cy="1554" rx="20" ry="25" transform="rotate(-35 2193 1554)" fill="#fff" stroke="#000" stroke-width="9"/>
<ellipse cx="2199" cy="1557" rx="10" ry="13" transform="rotate(-35 2199 1557)" fill="#fff" stroke="#000" stroke-width="4"/>
<ellipse cx="2348" cy="1615" rx="42" ry="59" transform="rotate(35 2348 1615)" fill="none" stroke="#000" stroke-width="8"/>
<ellipse cx="2350" cy="1617" rx="25" ry="42" transform="rotate(35 2350 1617)" fill="none" stroke="#000" stroke-width="7"/>
<path d="M2371.9 1578.7 L2372.5 1578.9 L2373.0 1579.2 L2373.6 1579.4 L2374.1 1579.7 L2374.7 1580.0 L2375.2 1580.3 L2375.7 1580.6 L2376.2 1581.0 L2376.7 1581.3 L2377.2 1581.7 L2377.7 1582.1 L2378.1 1582.5 L2378.6 1582.9 L2379.0 1583.4 L2379.4 1583.8 L2379.8 1584.3 L2380.2 1584.8 L2380.6 1585.3 L2381.0 1585.8 L2381.3 1586.3 L2381.6 1586.9 L2382.0 1587.5 L2382.3 1588.0 L2382.6 1588.6 L2382.8 1589.2 L2383.1 1589.8 L2383.3 1590.5 L2383.6 1591.1 L2383.8 1591.8 L2384.0 1592.4 L2384.2 1593.1 L2384.3 1593.8 L2384.5 1594.5 L2384.6 1595.2 L2384.7 1596.0 L2384.8 1596.7 L2384.9 1597.4 L2385.0 1598.2 L2385.0 1598.9 L2385.1 1599.7 L2385.1 1600.5 L2385.1 1601.3 L2385.1 1602.1 L2385.1 1602.9 L2385.0 1603.7 L2385.0 1604.5 L2384.9 1605.3 L2384.8 1606.1 L2384.7 1607.0 L2384.6 1607.8 L2384.4 1608.6 L2384.3 1609.5 L2384.1 1610.3 L2383.9 1611.2 L2383.7 1612.0 L2383.5 1612.9 L2383.2 1613.7 L2383.0 1614.6 L2382.7 1615.5 L2382.5 1616.3" fill="none" stroke="#000" stroke-width="8"/>
<path d="M2320 1671 L2320 1732" stroke="#000" stroke-width="6.5"/>
<path d="M1315 1321 L1292 1321 L1297 1629 L1720 1623 L1720 1562" fill="none" stroke="#000" stroke-width="6"/>
<path d="M1282 1498 L1315 1498" stroke="#000" stroke-width="4"/>
<path d="M1370 1321 L1408 1321" stroke="#000" stroke-width="3"/>
<path d="M1475 1300 L1474 1273 L1418 1275 C1410 1276, 1408 1282, 1408 1290 L1410 1336 C1410 1345, 1414 1350, 1420 1352 L1450 1365 C1458 1378, 1466 1383, 1476 1383 C1490 1382, 1500 1375, 1503 1362 L1505 1300 C1504 1292, 1496 1291, 1484 1294" fill="none" stroke="#000" stroke-width="7" stroke-linejoin="round"/>
<circle cx="1466" cy="1312" r="6" fill="#000"/>
<path d="M1400 1494 L1458 1494" stroke="#000" stroke-width="3"/>
<path d="M1469 1424 L1469 1510" stroke="#000" stroke-width="24" stroke-linecap="round"/>
<path d="M1462 1502 C1464 1508, 1468 1512, 1472 1514" stroke="#fff" stroke-width="3" fill="none"/>
<path d="M1394 651 L1671 649 L1671 869 L1398 871" fill="none" stroke="#000" stroke-width="6"/>
<path d="M1456 751 L1540 751" stroke="#000" stroke-width="3"/>
<ellipse cx="1582" cy="751" rx="43" ry="29" fill="#000"/>
<path d="M1566 748 L1575 740 L1580 740 L1573 752 L1565 756 Z M1590 755 C1600 754, 1605 752, 1608 750 M1565 765 C1575 770, 1585 766, 1590 760 M1560 735 L1562 732" fill="#fff" stroke="#fff" stroke-width="3"/>
<ellipse cx="1916.5" cy="48" rx="60" ry="37" fill="none" stroke="#000" stroke-width="8"/>
<path d="M1935 86 C1950 82, 1966 72, 1974 60 L1970 72 C1960 85, 1945 95, 1940 108 Z" fill="#000"/>
<path d="M1870 72 C1880 82, 1890 88, 1895 96" fill="none" stroke="#000" stroke-width="8"/>
<path d="M1897 86 L1925 86" stroke="#000" stroke-width="5"/>
<path d="M1895 95 C1899 103, 1899 110, 1899 120 L1901 395 C1901 405, 1906 410, 1907 412 L1907 440 C1904 445, 1902 452, 1902 460 C1902 468, 1910 472, 1919 472 C1928 472, 1937 468, 1937 460 C1937 452, 1934 446, 1931 440 L1931 412 C1934 408, 1937 402, 1937 395 L1936 120 C1937 108, 1938 100, 1942 92" fill="none" stroke="#000" stroke-width="6" stroke-linejoin="round"/>
<path d="M1907 412 L1931 412" stroke="#000" stroke-width="3"/>
<path d="M1756 54 L1853 54" stroke="#000" stroke-width="3.5"/>
<ellipse cx="2121" cy="139" rx="77.5" ry="48.5" fill="none" stroke="#000" stroke-width="7"/>
<path d="M2081 95 L2088 93 M2095 91 L2099 90" stroke="#fff" stroke-width="9"/>
<path d="M2082 182 C2092 187, 2098 193, 2101 205 M2158 183 C2148 188, 2140 194, 2137 205" fill="none" stroke="#000" stroke-width="7"/>
<path d="M2104 189 L2135 189" stroke="#000" stroke-width="5"/>
<path d="M2097 192 C2101 200, 2101 208, 2101 218 L2106 500 C2106 505, 2112 508, 2113 510 L2113 535 C2108 540, 2103 548, 2103 555 C2103 563, 2111 566, 2121 566 C2131 566, 2139 562, 2139 555 C2139 547, 2136 541, 2133 536 L2133 510 C2134 507, 2136 505, 2136 500 L2135 218 C2135 208, 2137 200, 2142 192" fill="none" stroke="#000" stroke-width="6" stroke-linejoin="round"/>
<path d="M2113 510 L2133 510" stroke="#000" stroke-width="3"/>
<path d="M2202 129 L2232 129 M2242 129 L2269 129" stroke="#000" stroke-width="4"/>
<rect x="1878" y="497" width="90" height="196" rx="28" ry="24" fill="#000"/>
<path d="M1906 514 C1920 511, 1936 513, 1945 519" fill="none" stroke="#fff" stroke-width="6" stroke-linecap="round"/>
<path d="M1886 533 C1884 522, 1888 512, 1896 509" fill="none" stroke="#fff" stroke-width="6" stroke-linecap="round"/>
<path d="M1955 528 L1957 534" fill="none" stroke="#fff" stroke-width="6" stroke-linecap="round"/>
<path d="M1957 545 L1959 552" fill="none" stroke="#fff" stroke-width="6" stroke-linecap="round"/>
<path d="M1957 565 L1958 573" fill="none" stroke="#fff" stroke-width="6" stroke-linecap="round"/>
<path d="M1956 587 L1958 596" fill="none" stroke="#fff" stroke-width="6" stroke-linecap="round"/>
<path d="M1955 606 C1958 614, 1958 620, 1955 625" fill="none" stroke="#fff" stroke-width="7" stroke-linecap="round"/>
<path d="M1952 633 C1958 643, 1957 650, 1948 656" fill="none" stroke="#fff" stroke-width="7" stroke-linecap="round"/>
<path d="M1950 658 C1957 666, 1956 672, 1947 677" fill="none" stroke="#fff" stroke-width="7" stroke-linecap="round"/>
<path d="M1888 547 L1889 549" fill="none" stroke="#fff" stroke-width="6" stroke-linecap="round"/>
<path d="M1886 565 L1891 578" fill="none" stroke="#fff" stroke-width="6" stroke-linecap="round"/>
<path d="M1886 583 C1888 596, 1896 604, 1908 607" fill="none" stroke="#fff" stroke-width="10" stroke-linecap="round"/>
<path d="M1886 608 C1888 622, 1897 630, 1910 633" fill="none" stroke="#fff" stroke-width="10" stroke-linecap="round"/>
<path d="M1886 630 C1888 645, 1895 653, 1906 657" fill="none" stroke="#fff" stroke-width="10" stroke-linecap="round"/>
<path d="M1886 652 C1888 665, 1893 672, 1899 675" fill="none" stroke="#fff" stroke-width="9" stroke-linecap="round"/>
<path d="M1900 590 C1912 592, 1926 595, 1938 597" fill="none" stroke="#fff" stroke-width="13" stroke-linecap="round"/>
<path d="M1899 611 C1912 614, 1926 617, 1936 620" fill="none" stroke="#fff" stroke-width="13" stroke-linecap="round"/>
<path d="M1897 633 C1910 636, 1922 639, 1934 642" fill="none" stroke="#fff" stroke-width="13" stroke-linecap="round"/>
<path d="M1898 656 C1912 658, 1928 659, 1943 662" fill="none" stroke="#fff" stroke-width="13" stroke-linecap="round"/>
<path d="M1890 678 C1910 688, 1936 689, 1956 681" fill="none" stroke="#fff" stroke-width="7" stroke-linecap="round"/>
<path d="M1812 563 L1878 563" stroke="#000" stroke-width="3.5"/>
<rect x="2076" y="592" width="89" height="181" rx="26" ry="22" fill="#000"/>
<path d="M2100 620 C2100 605, 2112 597, 2128 597 C2142 598, 2148 610, 2147 622 C2145 632, 2138 636, 2134 638 L2110 633 C2102 630, 2100 626, 2100 620 Z" fill="#fff"/>
<path d="M2141 598 C2155 605, 2160 618, 2152 630" fill="none" stroke="#fff" stroke-width="5" stroke-linecap="round"/>
<path d="M2085 616 L2087 612" fill="none" stroke="#fff" stroke-width="5" stroke-linecap="round"/>
<path d="M2159 640 L2147 651" fill="none" stroke="#fff" stroke-width="7" stroke-linecap="round"/>
<path d="M2091 647 L2100 655" fill="none" stroke="#fff" stroke-width="6" stroke-linecap="round"/>
<path d="M2124 657 L2128 660" fill="none" stroke="#fff" stroke-width="5" stroke-linecap="round"/>
<path d="M2084 657 C2090 672, 2110 681, 2130 681 C2146 679, 2156 670, 2158 659" fill="none" stroke="#fff" stroke-width="7" stroke-linecap="round"/>
<path d="M2085 683 C2092 698, 2110 704, 2130 704 C2146 702, 2156 693, 2158 682" fill="none" stroke="#fff" stroke-width="7" stroke-linecap="round"/>
<path d="M2096 682 C2110 684, 2125 686, 2138 688" fill="none" stroke="#fff" stroke-width="12" stroke-linecap="round"/>
<path d="M2094 706 C2110 709, 2126 711, 2139 713" fill="none" stroke="#fff" stroke-width="13" stroke-linecap="round"/>
<path d="M2087 708 C2095 721, 2110 728, 2126 730" fill="none" stroke="#fff" stroke-width="6" stroke-linecap="round"/>
<path d="M2097 728 C2112 731, 2124 733, 2132 737" fill="none" stroke="#fff" stroke-width="11" stroke-linecap="round"/>
<path d="M2086 724 C2090 740, 2096 748, 2100 752" fill="none" stroke="#fff" stroke-width="7" stroke-linecap="round"/>
<path d="M2158 738 C2160 752, 2157 762, 2152 768" fill="none" stroke="#fff" stroke-width="5" stroke-linecap="round"/>
<path d="M2150 717 L2145 725" fill="none" stroke="#fff" stroke-width="4" stroke-linecap="round"/>
<path d="M2098 744 C2110 741, 2136 744, 2148 752 C2153 760, 2146 765, 2130 765 L2110 767 C2100 766, 2093 755, 2098 744 Z" fill="#fff"/>
<path d="M2084 750 L2086 770 M2100 773 L2117 766" fill="none" stroke="#fff" stroke-width="4"/>
<path d="M2164 656 L2227 656" stroke="#000" stroke-width="3.5"/>
<ellipse cx="1917" cy="725" rx="39" ry="24" fill="#fff" stroke="#000" stroke-width="7"/>
<path d="M1906 740 C1896 734, 1892 724, 1895 716 C1898 709, 1902 707, 1905 705 M1921 705 C1930 705, 1938 709, 1942 715 C1946 724, 1942 734, 1932 740" fill="none" stroke="#000" stroke-width="6"/>
<path d="M1919 705 L1925 712 L1935 716" fill="none" stroke="#000" stroke-width="5"/>
<path d="M1906 727 L1937 727 L1930 762 L1913 762 Z" fill="#000"/>
<path d="M1815 723 L1876 722" stroke="#000" stroke-width="4"/>
<path d="M1898 780 C1898 770, 1908 764, 1920 764 C1933 764, 1943 770, 1943 780 L1943 798 C1943 808, 1935 813, 1921 813 C1907 813, 1898 808, 1898 798 Z" fill="#fff" stroke="#000" stroke-width="6.5"/>
<path d="M1907 774 C1909 784, 1920 790, 1938 786" fill="none" stroke="#000" stroke-width="6"/>
<path d="M1932 770 C1938 775, 1940 780, 1939 786" fill="none" stroke="#000" stroke-width="6"/>
<path d="M1818 801 L1890 802" stroke="#000" stroke-width="4"/>
<ellipse cx="1924.7" cy="981.5" rx="60" ry="29" fill="#fff" stroke="#000" stroke-width="6.5"/>
<path d="M1981.1 994.3 L1980.3 995.7 L1979.4 997.1 L1978.4 998.5 L1977.3 999.9 L1976.1 1001.2 L1974.8 1002.6 L1973.4 1003.8 L1972.0 1005.1 L1970.5 1006.3 L1968.8 1007.4 L1967.2 1008.5 L1965.4 1009.6 L1963.6 1010.6 L1961.6 1011.6 L1959.7 1012.5 L1957.7 1013.4 L1955.6 1014.2 L1953.4 1015.0 L1951.2 1015.7 L1949.0 1016.3 L1946.7 1016.9 L1944.4 1017.5 L1942.1 1017.9 L1939.7 1018.4 L1937.3 1018.7 L1934.8 1019.0 L1932.4 1019.2 L1929.9 1019.4 L1927.5 1019.5 L1925.0 1019.5 L1922.5 1019.5 L1920.1 1019.4 L1917.6 1019.2 L1915.2 1019.0 L1912.7 1018.7 L1910.3 1018.4 L1907.9 1017.9 L1905.6 1017.5 L1903.3 1016.9 L1901.0 1016.3 L1898.8 1015.7 L1896.6 1015.0 L1894.4 1014.2 L1892.3 1013.4 L1890.3 1012.5 L1888.4 1011.6 L1886.4 1010.6 L1884.6 1009.6 L1882.8 1008.5 L1881.2 1007.4 L1879.5 1006.3 L1878.0 1005.1 L1876.6 1003.8 L1875.2 1002.6 L1873.9 1001.2 L1872.7 999.9 L1871.6 998.5 L1870.6 997.1 L1869.7 995.7 L1868.9 994.3" fill="none" stroke="#000" stroke-width="4.5"/>
<path d="M1908 980 L1906 825 C1906 818, 1912 815, 1922 815 C1932 815, 1939 818, 1939 825 L1939 975" fill="#fff" stroke="#000" stroke-width="6"/>
<path d="M1818 904 L1905 904" stroke="#000" stroke-width="3"/>
<ellipse cx="2120" cy="847" rx="42" ry="30" fill="#fff" stroke="#000" stroke-width="6.5"/>
<path d="M2081.8 831.6 L2090 821.8 L2113.3 814 L2137.8 817.4 L2160.7 835.4 L2166.7 847.9 L2152.5 846.3 L2133.5 846.8 L2125.3 851.2 L2111.7 853.9 L2106.3 856.6 L2114.4 842.4 L2122.6 833.7 L2107.3 834.3 L2097 845.7 L2096 855.5 L2091.6 856.6 L2087.2 850.6 L2089.4 835.4 Z" fill="#000"/>
<path d="M2108 820 L2113 828" stroke="#fff" stroke-width="4"/>
<path d="M2140 874 L2150 873 M2145 877 L2148 876" stroke="#fff" stroke-width="3"/>
<path d="M2171 846 L2212 846" stroke="#000" stroke-width="4"/>
<ellipse cx="2122" cy="1074.5" rx="61.5" ry="30" fill="#fff" stroke="#000" stroke-width="7"/>
<path d="M2178.4 1089.0 L2177.5 1090.3 L2176.5 1091.6 L2175.5 1092.9 L2174.3 1094.1 L2173.1 1095.4 L2171.7 1096.6 L2170.3 1097.7 L2168.8 1098.9 L2167.3 1100.0 L2165.6 1101.0 L2163.9 1102.0 L2162.1 1103.0 L2160.3 1103.9 L2158.4 1104.8 L2156.4 1105.7 L2154.4 1106.5 L2152.3 1107.2 L2150.2 1107.9 L2148.0 1108.5 L2145.8 1109.1 L2143.5 1109.7 L2141.2 1110.2 L2138.9 1110.6 L2136.5 1111.0 L2134.1 1111.3 L2131.7 1111.5 L2129.3 1111.7 L2126.9 1111.9 L2124.4 1112.0 L2122.0 1112.0 L2119.6 1112.0 L2117.1 1111.9 L2114.7 1111.7 L2112.3 1111.5 L2109.9 1111.3 L2107.5 1111.0 L2105.1 1110.6 L2102.8 1110.2 L2100.5 1109.7 L2098.2 1109.1 L2096.0 1108.5 L2093.8 1107.9 L2091.7 1107.2 L2089.6 1106.5 L2087.6 1105.7 L2085.6 1104.8 L2083.7 1103.9 L2081.9 1103.0 L2080.1 1102.0 L2078.4 1101.0 L2076.7 1100.0 L2075.2 1098.9 L2073.7 1097.7 L2072.3 1096.6 L2070.9 1095.4 L2069.7 1094.1 L2068.5 1092.9 L2067.5 1091.6 L2066.5 1090.3 L2065.6 1089.0" fill="none" stroke="#000" stroke-width="4.5"/>
<path d="M2104 1068 L2103 920 C2103 914, 2110 911, 2120 911 C2130 911, 2138 914, 2138 920 L2137 1068" fill="#fff" stroke="#000" stroke-width="6"/>
<path d="M2116 927 L2122 927" stroke="#000" stroke-width="3"/>
<path d="M2187 1073 L2249 1073" stroke="#000" stroke-width="3"/>
<ellipse cx="414" cy="543" rx="42" ry="63" transform="rotate(29.5 414 543)" fill="none" stroke="#000" stroke-width="6.5"/>
<path d="M381.9 587.6 L380.6 586.2 L379.4 584.7 L378.3 583.0 L377.3 581.2 L376.4 579.3 L375.7 577.3 L375.0 575.3 L374.4 573.1 L374.0 570.8 L373.7 568.4 L373.5 566.0 L373.4 563.5 L373.4 561.0 L373.6 558.4 L373.8 555.7 L374.2 553.0 L374.7 550.3 L375.3 547.6 L376.1 544.8 L376.9 542.1 L377.8 539.3 L378.9 536.6 L380.0 533.9 L381.3 531.2 L382.6 528.5 L384.1 525.9 L385.6 523.3 L387.2 520.8 L388.8 518.3 L390.6 516.0 L392.4 513.7 L394.3 511.4 L396.2 509.3 L398.2 507.3 L400.3 505.4 L402.3 503.6 L404.4 501.9 L406.6 500.3 L408.7 498.8 L410.9 497.5 L413.1 496.3 L415.3 495.2 L417.5 494.3 L419.6 493.5 L421.8 492.9 L423.9 492.4 L426.0 492.0 L428.1 491.8 L430.1 491.8 L432.1 491.9 L434.0 492.1 L435.9 492.5 L437.7 493.1 L439.4 493.7 L441.1 494.6 L442.7 495.5 L444.2 496.6 L445.6 497.9 L446.9 499.2 L448.2 500.7" fill="none" stroke="#000" stroke-width="4"/>
<ellipse cx="418" cy="546" rx="23" ry="42" transform="rotate(33 418 546)" fill="none" stroke="#000" stroke-width="6.5"/>
<path d="M447.4 514.4 L448.0 515.4 L448.6 516.5 L449.1 517.7 L449.6 519.0 L449.9 520.3 L450.3 521.6 L450.5 523.0 L450.7 524.5 L450.8 525.9 L450.9 527.5 L450.9 529.0 L450.8 530.6 L450.7 532.3 L450.5 533.9 L450.3 535.6 L449.9 537.3 L449.5 539.1 L449.1 540.8 L448.6 542.5 L448.0 544.3 L447.4 546.1 L446.7 547.8 L446.0 549.6 L445.2 551.3 L444.3 553.1 L443.4 554.8 L442.5 556.5 L441.5 558.2 L440.4 559.8 L439.3 561.5 L438.2 563.1 L437.0 564.6 L435.8 566.2 L434.6 567.6 L433.3 569.1 L432.0 570.5 L430.7 571.8 L429.3 573.1 L428.0 574.4 L426.6 575.5 L425.2 576.7 L423.8 577.7 L422.3 578.7 L420.9 579.6 L419.5 580.5 L418.0 581.3 L416.6 582.0 L415.2 582.6 L413.7 583.2 L412.3 583.7 L410.9 584.1 L409.5 584.5 L408.2 584.7 L406.8 584.9 L405.5 585.0 L404.2 585.0 L403.0 585.0 L401.7 584.8 L400.5 584.6 L399.4 584.3" fill="none" stroke="#000" stroke-width="9"/>
<path d="M447.2 559.2 L446.6 560.3 L446.0 561.3 L445.3 562.3 L444.7 563.4 L444.0 564.4 L443.3 565.4 L442.6 566.3 L441.9 567.3 L441.2 568.3 L440.4 569.2 L439.7 570.1 L438.9 571.1 L438.1 572.0 L437.3 572.8 L436.5 573.7 L435.7 574.6 L434.8 575.4 L434.0 576.2 L433.2 577.0 L432.3 577.8 L431.4 578.5 L430.6 579.3 L429.7 580.0 L428.8 580.7 L427.9 581.4 L427.0 582.0 L426.1 582.7 L425.2 583.3 L424.3 583.8 L423.4 584.4 L422.5 585.0 L421.5 585.5 L420.6 586.0 L419.7 586.4 L418.8 586.9 L417.9 587.3 L416.9 587.7 L416.0 588.0 L415.1 588.4 L414.2 588.7 L413.3 589.0 L412.4 589.3 L411.5 589.5 L410.6 589.7 L409.7 589.9 L408.8 590.0 L407.9 590.2 L407.0 590.3 L406.2 590.4 L405.3 590.4 L404.4 590.4 L403.6 590.4 L402.8 590.4 L401.9 590.3 L401.1 590.2 L400.3 590.1 L399.5 590.0 L398.8 589.8 L398.0 589.6 L397.2 589.4" fill="none" stroke="#000" stroke-width="3"/>
<path d="M404 380 L406 489" stroke="#000" stroke-width="5"/>
<path d="M549.7 731.7 C530 725, 512 712, 503 699 C497 685, 497 670, 498 655 C500 620, 510 590, 529 570 C545 553, 570 538, 600 528 C615 525, 632 527, 647 536 C655 542, 660 550, 665 556 L718 565 C724 567, 730 575, 731 590 L732 661 C731 667, 727 669, 720 669 L712 669 C706 671, 704 676, 708 680 C712 683, 718 683, 722 684 C727 687, 730 692, 729 699 C728 703, 724 706, 718 707 L616 758 L567 741 Z" fill="#fff" stroke="#000" stroke-width="6" stroke-linejoin="round"/>
<path d="M505 682 C504 650, 509 620, 520 600 C530 585, 540 575, 551 568" fill="none" stroke="#000" stroke-width="3.5"/>
<path d="M562 553 L573 546" fill="none" stroke="#000" stroke-width="3.5"/>
<path d="M550 732 L551 690 C551 660, 556 636, 570 612 C582 592, 598 578, 616 568 C630 562, 648 558, 666 556" fill="none" stroke="#000" stroke-width="6"/>
<path d="M558 690 L561 740" fill="none" stroke="#000" stroke-width="7"/>
<path d="M612 560 C622 558, 630 562, 634 566" fill="none" stroke="#000" stroke-width="5"/>
<path d="M600 735 C585 725, 577 705, 578 680 C579 650, 590 622, 608 606 C622 594, 640 588, 660 587 L677 588" fill="none" stroke="#000" stroke-width="6"/>
<path d="M682 592 C694 605, 699 620, 698 640 C697 655, 692 665, 686 676" fill="none" stroke="#000" stroke-width="5"/>
<path d="M647 592 C650 610, 650 635, 640 660 C630 683, 610 698, 585 705" fill="none" stroke="#000" stroke-width="4.5"/>
<path d="M563 553 L571 548" stroke="#000" stroke-width="3"/><circle cx="535" cy="631" r="2" fill="#000"/><path d="M533 690 L536 697" stroke="#000" stroke-width="3"/><path d="M676 699 L670 707" stroke="#000" stroke-width="3"/>
<path d="M639 437 L643 533" stroke="#000" stroke-width="5"/>
<path d="M94 989 C100 980, 108 973, 116 969 L145 953" fill="none" stroke="#000" stroke-width="5"/>
<path d="M149 951 L229 907" fill="none" stroke="#000" stroke-width="5"/>
<path d="M234 904 L275 881" fill="none" stroke="#000" stroke-width="5"/>
<path d="M308 862 C318 856, 326 850, 335 849 C343 849, 347 852, 349 856 C353 865, 355 875, 358 882 C362 892, 366 898, 370 901 C375 907, 380 912, 384 915" fill="none" stroke="#000" stroke-width="5"/>
<path d="M396 917 C410 915, 420 912, 428 909 C440 903, 450 895, 458 884 C468 872, 474 862, 478 854 C484 840, 487 822, 490 804 C492 798, 500 796, 506 800 C512 803, 513 810, 512 818 C510 838, 502 858, 492 874 C482 891, 470 906, 458 917 C445 928, 432 935, 418 939 C408 942, 398 944, 388 943 C378 942, 370 938, 362 933 C355 927, 348 918, 345 909 C340 898, 335 887, 331 880 C328 876, 325 876, 322 877 C318 879, 313 882, 309 885" fill="none" stroke="#000" stroke-width="5"/>
<path d="M275 905 L267 909 M262 912 L236 928 M232 931 L210 943 M200 948 L168 967 M160 972 L106 1001 C100 1005, 95 1004, 92 997 C90 993, 92 990, 94 989" fill="none" stroke="#000" stroke-width="5"/>
<ellipse cx="293" cy="873" rx="18" ry="12" transform="rotate(-25 293 873)" fill="#000"/><ellipse cx="297" cy="873" rx="3" ry="5" fill="#fff"/>
<ellipse cx="294" cy="898" rx="18" ry="7" transform="rotate(-30 294 898)" fill="#000"/>
<ellipse cx="116" cy="973" rx="11" ry="6" transform="rotate(-30 116 973)" fill="#000"/>
<ellipse cx="176" cy="938" rx="13" ry="4.5" transform="rotate(-30 176 938)" fill="#000"/>
<path d="M249 920 L248 999" stroke="#000" stroke-width="6"/><path d="M241 926 L259 917" stroke="#000" stroke-width="5"/>
<path d="M166 812 C166 805, 172 800, 178 800 L184 804 L194 812 L193 824 L188 836 L195 854 L190 870 L191 880 L194 894 L182 884 L176 901 L170 904 C167 900, 165 890, 165 880 Z" fill="#000"/>
<ellipse cx="178" cy="817" rx="3" ry="6" fill="#fff"/><ellipse cx="180" cy="852" rx="3.5" ry="7" fill="#fff"/>
<path d="M178 728 L177 802" stroke="#000" stroke-width="5"/>
<ellipse cx="44" cy="1022.5" rx="25" ry="28.5" transform="rotate(-12 44 1022.5)" fill="none" stroke="#000" stroke-width="6.5"/>
<path d="M34.8 1011.6 L43.5 1008 L52.8 1017.5 L53.9 1031.7 L46.2 1037.7 L43 1029 L38 1018 Z" fill="#000"/>
<path d="M34 932 L35 994" stroke="#000" stroke-width="6"/>
<circle cx="31.5" cy="1739" r="1.8" fill="#000"/><circle cx="541" cy="1480" r="1.2" fill="#000"/><circle cx="780.5" cy="618.5" r="1" fill="#000"/>
<path d="M389.5 333.0 L390.0 370.0 M383.0 341.0 L389.5 333.0" stroke="#000" stroke-width="8" stroke-linecap="round" fill="none"/>
<text transform="translate(402.6 371.8) scale(0.882 1)" font-size="58.8">2</text>
<path d="M620.5 391.0 L621.0 422.0 M616.0 399.0 L620.5 391.0" stroke="#000" stroke-width="8" stroke-linecap="round" fill="none"/>
<text transform="translate(634.9 423.8) scale(1.196 1)" font-size="50.1">0</text>
<path d="M160.5 683.0 L161.0 716.0 M155.0 691.0 L160.5 683.0" stroke="#000" stroke-width="8" stroke-linecap="round" fill="none"/>
<text transform="translate(176.1 717.8) scale(0.980 1)" font-size="53.0">5</text>
<path d="M14.5 881.0 L15.0 919.0 M10.0 889.0 L14.5 881.0" stroke="#000" stroke-width="8" stroke-linecap="round" fill="none"/>
<text transform="translate(32.2 920.8) scale(0.863 1)" font-size="60.3">3</text>
<path d="M232.5 1004.0 L233.0 1037.0 M227.0 1012.0 L232.5 1004.0" stroke="#000" stroke-width="8" stroke-linecap="round" fill="none"/>
<path d="M264.5 1004.0 L265.0 1037.0 M256.0 1012.0 L264.5 1004.0" stroke="#000" stroke-width="8" stroke-linecap="round" fill="none"/>
<text transform="translate(1712.1 78.8) scale(0.933 1)" font-size="60.3">3</text>
<text transform="translate(2284.5 145.8) scale(0.876 1)" font-size="61.7">2</text>
<text transform="translate(1767.0 579.8) scale(1.032 1)" font-size="54.5">5</text>
<text transform="translate(2243.2 674.8) scale(0.967 1)" font-size="51.6">5</text>
<text transform="translate(1775.7 741.8) scale(0.914 1)" font-size="54.5">7</text>
<text transform="translate(1776.9 817.8) scale(0.963 1)" font-size="54.5">8</text>
<text transform="translate(1772.1 920.8) scale(0.861 1)" font-size="54.5">4</text>
<text transform="translate(2220.4 865.8) scale(0.995 1)" font-size="55.9">6</text>
<text transform="translate(2264.9 1092.8) scale(0.966 1)" font-size="58.8">4</text>
<text transform="translate(1408.3 770.8) scale(1.034 1)" font-size="55.9">6</text>
<text transform="translate(1327.4 1337.8) scale(1.070 1)" font-size="55.9">9</text>
<path d="M1252.5 1480.0 L1253.0 1513.0 M1244.0 1488.0 L1252.5 1480.0" stroke="#000" stroke-width="8" stroke-linecap="round" fill="none"/>
<path d="M1344.5 1475.0 L1345.0 1512.0 M1338.0 1483.0 L1344.5 1475.0" stroke="#000" stroke-width="8" stroke-linecap="round" fill="none"/>
<text transform="translate(1358.1 1513.8) scale(0.831 1)" font-size="58.8">4</text>
<path d="M2306.5 1750.0 L2307.0 1787.0 M2299.0 1758.0 L2306.5 1750.0" stroke="#000" stroke-width="8" stroke-linecap="round" fill="none"/>
<text transform="translate(2318.3 1788.8) scale(0.994 1)" font-size="58.8">2</text>
</svg></body></html>
